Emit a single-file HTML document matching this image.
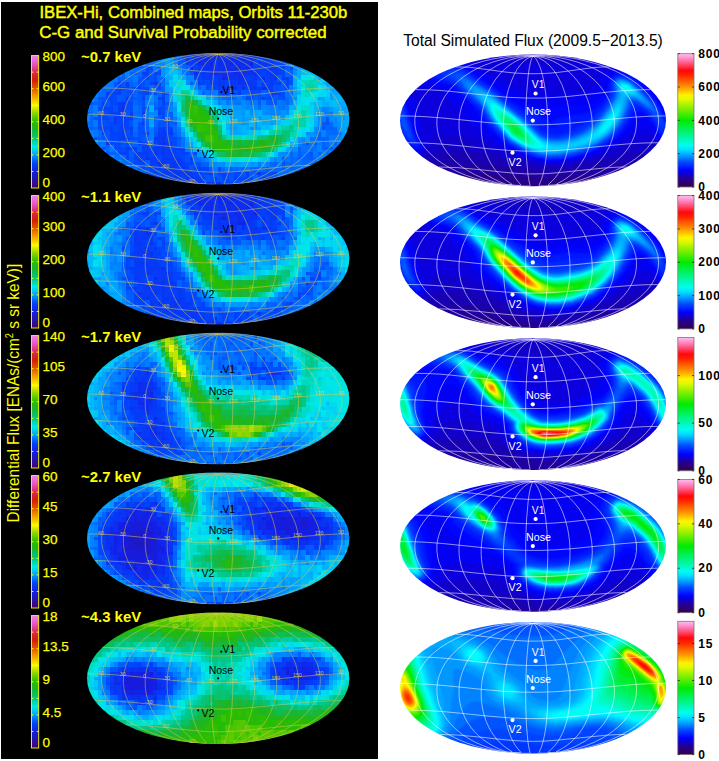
<!DOCTYPE html><html><head><meta charset="utf-8"><title>IBEX-Hi maps</title><style>html,body{margin:0;padding:0;background:#fff;width:719px;height:761px;overflow:hidden}</style></head><body><svg width="719" height="761" viewBox="0 0 719 761" font-family='"Liberation Sans", sans-serif' style="display:block"><defs><filter id="fR" x="0" y="0" width="1" height="1" filterUnits="objectBoundingBox" color-interpolation-filters="sRGB"><feGaussianBlur stdDeviation="0.9"/><feComponentTransfer><feFuncR type="table" tableValues="0.216 0.197 0.178 0.159 0.14 0.107 0.071 0.036 0 0 0 0 0 0 0 0 0 0 0 0 0 0 0 0 0 0 0 0 0 0 0 0 0 0.092 0.184 0.276 0.368 0.46 0.551 0.636 0.717 0.797 0.878 0.958 1 1 1 1 1 1 1 1 1 1 1 1 1 1 1 1 1 1 1 1 1"/><feFuncG type="table" tableValues="0 0 0 0 0 0 0 0 0 0.075 0.151 0.226 0.302 0.404 0.511 0.614 0.706 0.798 0.89 0.982 0.995 0.989 0.983 0.977 0.971 0.964 0.958 0.952 0.946 0.94 0.934 0.928 0.922 0.925 0.928 0.931 0.934 0.937 0.94 0.948 0.96 0.971 0.983 0.994 0.956 0.864 0.772 0.68 0.588 0.512 0.435 0.358 0.282 0.205 0.129 0.052 0.029 0.121 0.213 0.305 0.397 0.488 0.574 0.659 0.745"/><feFuncB type="table" tableValues="0.294 0.365 0.436 0.506 0.577 0.678 0.786 0.893 1 1 1 1 1 1 1 1 1 1 1 1 0.939 0.862 0.786 0.709 0.632 0.556 0.478 0.398 0.319 0.239 0.159 0.08 0 0 0 0 0 0 0 0 0 0 0 0 0 0 0 0 0 0 0 0 0 0 0 0 0.044 0.182 0.32 0.458 0.596 0.722 0.801 0.881 0.961"/><feFuncA type="identity"/></feComponentTransfer></filter><filter id="fL" x="0" y="0" width="1" height="1" filterUnits="objectBoundingBox" color-interpolation-filters="sRGB"><feGaussianBlur stdDeviation="0.6" result="s0"/><feTurbulence type="fractalNoise" baseFrequency="0.22" numOctaves="1" seed="7"/><feColorMatrix type="matrix" values="1 0 0 0 0 1 0 0 0 0 1 0 0 0 0 0 0 0 0 1"/><feComposite in="s0" operator="arithmetic" k1="0" k2="1" k3="0.09" k4="-0.045" result="s"/><feFlood x="2" y="2" width="1" height="1" flood-color="#fff"/><feComposite x="0" y="0" width="4.4" height="5"/><feTile result="t"/><feComposite in="s" in2="t" operator="in"/><feMorphology operator="dilate" radius="2.2 2.5"/><feComponentTransfer><feFuncR type="table" tableValues="0.275 0.244 0.213 0.183 0.154 0.135 0.116 0.097 0.078 0.06 0.041 0.022 0.003 0 0 0 0 0 0 0 0 0 0 0 0 0.025 0.049 0.074 0.098 0.12 0.132 0.145 0.157 0.249 0.341 0.433 0.529 0.646 0.764 0.882 1 0.986 0.972 0.958 0.943 0.933 0.922 0.912 0.902 0.883 0.864 0.845 0.827 0.831 0.841 0.85 0.86 0.87 0.88 0.89 0.9 0.911 0.921 0.931 0.941"/><feFuncG type="table" tableValues="0 0.02 0.041 0.061 0.08 0.089 0.099 0.108 0.118 0.155 0.193 0.231 0.268 0.352 0.444 0.536 0.627 0.704 0.781 0.857 0.916 0.883 0.85 0.817 0.784 0.768 0.752 0.735 0.719 0.708 0.721 0.733 0.745 0.766 0.786 0.806 0.83 0.867 0.905 0.943 0.98 0.896 0.811 0.726 0.641 0.567 0.496 0.424 0.353 0.296 0.24 0.183 0.127 0.126 0.135 0.144 0.154 0.192 0.243 0.294 0.345 0.387 0.428 0.469 0.51"/><feFuncB type="table" tableValues="0.392 0.464 0.535 0.607 0.676 0.732 0.789 0.845 0.902 0.926 0.949 0.973 0.996 1 1 1 1 0.98 0.959 0.939 0.907 0.818 0.728 0.639 0.549 0.467 0.386 0.304 0.222 0.147 0.098 0.049 0 0 0 0 0 0 0 0 0 0 0 0 0 0 0 0 0 0 0 0 0 0.079 0.173 0.268 0.362 0.462 0.564 0.666 0.768 0.819 0.859 0.9 0.941"/><feFuncA type="identity"/></feComponentTransfer></filter><linearGradient id="gR" x1="0" y1="0" x2="0" y2="1"><stop offset="0.000" stop-color="rgb(255,190,245)"/><stop offset="0.031" stop-color="rgb(255,146,204)"/><stop offset="0.062" stop-color="rgb(255,101,151)"/><stop offset="0.094" stop-color="rgb(255,54,81)"/><stop offset="0.125" stop-color="rgb(255,7,11)"/><stop offset="0.156" stop-color="rgb(255,32,0)"/><stop offset="0.188" stop-color="rgb(255,71,0)"/><stop offset="0.219" stop-color="rgb(255,110,0)"/><stop offset="0.250" stop-color="rgb(255,150,0)"/><stop offset="0.281" stop-color="rgb(255,196,0)"/><stop offset="0.312" stop-color="rgb(255,243,0)"/><stop offset="0.344" stop-color="rgb(223,250,0)"/><stop offset="0.375" stop-color="rgb(182,244,0)"/><stop offset="0.406" stop-color="rgb(140,239,0)"/><stop offset="0.438" stop-color="rgb(93,238,0)"/><stop offset="0.469" stop-color="rgb(46,236,0)"/><stop offset="0.500" stop-color="rgb(0,235,0)"/><stop offset="0.531" stop-color="rgb(0,238,40)"/><stop offset="0.562" stop-color="rgb(0,241,81)"/><stop offset="0.594" stop-color="rgb(0,244,121)"/><stop offset="0.625" stop-color="rgb(0,247,161)"/><stop offset="0.656" stop-color="rgb(0,250,200)"/><stop offset="0.688" stop-color="rgb(0,253,239)"/><stop offset="0.719" stop-color="rgb(0,226,255)"/><stop offset="0.750" stop-color="rgb(0,180,255)"/><stop offset="0.781" stop-color="rgb(0,130,255)"/><stop offset="0.812" stop-color="rgb(0,76,255)"/><stop offset="0.844" stop-color="rgb(0,38,255)"/><stop offset="0.875" stop-color="rgb(0,0,255)"/><stop offset="0.906" stop-color="rgb(18,0,200)"/><stop offset="0.938" stop-color="rgb(35,0,147)"/><stop offset="0.969" stop-color="rgb(45,0,111)"/><stop offset="1.000" stop-color="rgb(55,0,75)"/></linearGradient><linearGradient id="gL" x1="0" y1="0" x2="0" y2="1"><stop offset="0.000" stop-color="rgb(240,130,240)"/><stop offset="0.031" stop-color="rgb(234,109,219)"/><stop offset="0.062" stop-color="rgb(229,87,195)"/><stop offset="0.094" stop-color="rgb(224,61,143)"/><stop offset="0.125" stop-color="rgb(219,39,92)"/><stop offset="0.156" stop-color="rgb(214,34,44)"/><stop offset="0.188" stop-color="rgb(210,32,0)"/><stop offset="0.219" stop-color="rgb(220,61,0)"/><stop offset="0.250" stop-color="rgb(230,90,0)"/><stop offset="0.281" stop-color="rgb(235,126,0)"/><stop offset="0.312" stop-color="rgb(240,163,0)"/><stop offset="0.344" stop-color="rgb(247,206,0)"/><stop offset="0.375" stop-color="rgb(255,250,0)"/><stop offset="0.406" stop-color="rgb(194,230,0)"/><stop offset="0.438" stop-color="rgb(134,211,0)"/><stop offset="0.469" stop-color="rgb(86,200,0)"/><stop offset="0.500" stop-color="rgb(40,190,0)"/><stop offset="0.531" stop-color="rgb(33,183,25)"/><stop offset="0.562" stop-color="rgb(24,183,56)"/><stop offset="0.594" stop-color="rgb(12,191,98)"/><stop offset="0.625" stop-color="rgb(0,200,140)"/><stop offset="0.656" stop-color="rgb(0,216,185)"/><stop offset="0.688" stop-color="rgb(0,233,231)"/><stop offset="0.719" stop-color="rgb(0,199,244)"/><stop offset="0.750" stop-color="rgb(0,160,255)"/><stop offset="0.781" stop-color="rgb(0,113,255)"/><stop offset="0.812" stop-color="rgb(0,68,254)"/><stop offset="0.844" stop-color="rgb(10,49,242)"/><stop offset="0.875" stop-color="rgb(20,30,230)"/><stop offset="0.906" stop-color="rgb(29,25,201)"/><stop offset="0.938" stop-color="rgb(39,20,172)"/><stop offset="0.969" stop-color="rgb(54,10,136)"/><stop offset="1.000" stop-color="rgb(70,0,100)"/></linearGradient><clipPath id="cL0"><ellipse cx="218.2" cy="118.70" rx="131.2" ry="65.8"/></clipPath><clipPath id="cL1"><ellipse cx="218.2" cy="258.60" rx="131.2" ry="65.8"/></clipPath><clipPath id="cL2"><ellipse cx="218.2" cy="398.50" rx="131.2" ry="65.8"/></clipPath><clipPath id="cL3"><ellipse cx="218.2" cy="538.40" rx="131.2" ry="65.8"/></clipPath><clipPath id="cL4"><ellipse cx="218.2" cy="678.30" rx="131.2" ry="65.8"/></clipPath><clipPath id="cR0"><ellipse cx="533" cy="120.40" rx="133" ry="65.8"/></clipPath><clipPath id="cR1"><ellipse cx="533" cy="262.25" rx="133" ry="65.8"/></clipPath><clipPath id="cR2"><ellipse cx="533" cy="404.10" rx="133" ry="65.8"/></clipPath><clipPath id="cR3"><ellipse cx="533" cy="545.95" rx="133" ry="65.8"/></clipPath><clipPath id="cR4"><ellipse cx="533" cy="687.80" rx="133" ry="65.8"/></clipPath></defs><rect width="719" height="761" fill="#fff"/><rect x="1" y="2" width="377" height="757" fill="#000"/><g clip-path="url(#cL0)"><g transform="translate(81,46)" filter="url(#fL)"><rect width="275" height="144" fill="rgb(33,33,33)"/><path fill="rgb(38,38,38)" d="M275 144l-275 0-0-144 131 0 1.5 7 3.5 1 3.5 0.5 3.5-0.5 3.5-1-0.5-7 129-0 0 144z"/><path fill="rgb(43,43,43)" d="M275 144l-275 0-0-144 111 0 0 6.5 1 3 4.5 7 6 6.5 8 5 7.5 3.5 8 2.5 7.5 0.5 7-0.5 6-2 4-3 2.5-4 1-6-0.5-7.5-1-4.5-4.5-7 107-0 0 144z"/><path fill="rgb(48,48,48)" d="M275 144l-114 0-2-2-4.5-2-18.5-3.5-7.5-1.5-6.5-2.5-6-3.5-5-4-5.5-5-11-14-6-9-6-11-2.5-3-1 0.5-1 2.5-4 16-3 7.5-1.5 1.5-1-0.5-5-12-1 1-0.5 3.5 1 7 2 3 4 2 3.5 5 3.5 3.5 20 13.5 9 7-105 0-0-144 100.5 0 0 3.5 0.5 3.5 4.5 9 7.5 11.5 7 6 10 5.5 14 5 9.5 1.5 13.5 0.5 14.5 0 7-1.5 5-2.5 2-2.5 1-2.5 0.5-4 0-5.5-2.5-8.5-5.5-9-9-10 95-0 0 144zM43 91.5l1.5-1 1-3 0-16.5-1-12.5-1-2-1.5-1.5-1.5 0.5-1.5 1.5-3 5-1.5 5.5-0.5 6 0.5 6 2.5 6 3.5 5 1.5 1 1 0z"/><path fill="rgb(54,54,54)" d="M275 144l-91 0 6.5-6.5 5-5.5 1.5-3.5-0.5-1.5-6.5-0.5-26 1-19-0.5-11.5-2.5-10-4.5-8-5.5-8.5-7.5-6-7-5-7.5-6-13-2.5-6-2.5-10.5-2.5-17.5-2.5-7.5-3.5-8-3-5-3-3-3.5-1-3 1-3 3-2.5 4-1.5 5 0 5 2 17.5 0.5 11-1 12.5-1.5 5-1 3-1.5 0.5-1-1.5-1.5-7-1-16 1-24.5-1-4-2.5-2-3.5 0-8.5 5-7.5 6-6 7-4 6.5-2.5 6.5-1 6.5 0.5 7 1.5 6 3 6.5 4.5 6 5.5 5.5 8 6.5 14.5 9 11 10 23.5 16.5-87.5 0-0-144 93.5 0 0.5 4 2 4.5 13 21 5.5 6.5 7.5 5.5 16.5 6.5 10.5 2.5 9.5 1.5 18.5 0.5 17 1.5 4.5-0.5 3-1 2.5-2 1.5-2.5 1.5-5 0.5-19.5-1.5-5-3.5-5-5.5-6.5-8-7 86-0 0 144zM71 95l-1 0.5-1-1-2.5-5.5-1.5-9.5-0.5-11.5 0.5-10 1.5-10.5 2-7.5 2-2.5 1.5 1.5 2 5 1.5 10 0.5 9.5 0 10.5-1.5 10-1.5 7.5-2 3.5z"/><path fill="rgb(59,59,59)" d="M275 144l-80 0 26-18.5 10-8 8-4 6-4 5.5-4.5 4-4.5 1.5-3 0.5-3.5 0-6.5-1-5.5-1.5-4-3-4.5-3-3-3-1.5-1.5 0.5-1 1-3.5 13-2.5 4.5-3 3.5-3 2-10.5 4.5-11.5 9.5-5.5 3.5-13 6.5-8 2-11 2-11.5 0.5-12.5-0.5-7-0.5-5.5-1.5-5-2-5.5-3.5-8.5-6-7-6.5-5.5-6-4-6.5-6-15.5-3.5-13-3.5-17-8.5-26-2.5-5-2-1.5-2-0.5-3 0.5-3.5 1.5-11 8.5-19.5 10.5-8 5.5-6.5 5.5-6.5 7.5-4.5 8-2.5 8-1 8.5 1.5 7.5 3 7.5 4.5 7 6.5 7 9 7.5 14 8.5 20 14.5 14.5 10-78 0-0-144 87.5 0 3 7 16 24 7.5 8.5 7 5.5 15.5 6.5 12 3.5 13 2 17.5 1 20 4.5 3.5-0.5 3-2 3-3.5 2-4 1-6-0.5-13 3.5-13-1-3.5-3.5-4.5-5.5-5.5-8.5-7 79-0 0 144zM70.5 88l-1.5-1-1.5-4.5-1-14 1-13.5 1.5-5 1.5-1 1.5 1.5 1 4 1.5 13-1.5 14-1 4-1.5 2.5z"/><path fill="rgb(64,64,64)" d="M0 60.5l0-60.5 77.5 0-13.5 7.5-20.5 13.5-14.5 7.5-9 6.5-7 6-5.5 6-4.5 6.5-3 7zM275 144l-72.5 0 28.5-20.5 10.5-5 8.5-5.5 8-6.5 4-5.5 1-2.5 0-3-1.5-11-2-6.5-3.5-5.5-4.5-5.5-5-4.5-3.5-1.5-2.5 0-2 2.5-2 15.5-2 5-2.5 3.5-3 2-10 5-16 13-12 6.5-8 2.5-10 1.5-11 1-13 0-7-0.5-6-1.5-5.5-2.5-5.5-3-9.5-7.5-7-7-5.5-7-4-8-3-9-3.5-10.5-3-16-6.5-22-0.5-8 0-3 1-2 1-0.5 2 0 4.5 3.5 4 4 9.5 13.5 4.5 6 7 6.5 6 4 12.5 5.5 14 5.5 10.5 3 8.5 0 8 1.5 6.5 2.5 8 5 4 0.5 5-1.5 5.5-3.5 4-3.5 3-5 2-5 1-5-1-11.5 0.5-4.5 1.5-4 4.5-6 1-2-1-3-2-3.5-6.5-6-8.5-7 0-1 72-0 0 144zM70.5 80.5l-1-0.5-1-3-0.5-8.5 0.5-8.5 1-2.5 1-0.5 1.5 3 0.5 8.5-0.5 8-1.5 4zM71 144l-71 0 0-59 3 6.5 4 6 5 6 6 5.5 12 8.5 13.5 7 27.5 19.5z"/><path fill="rgb(69,69,69)" d="M0 49l0-49 65 0 0.5 2.5-22 14.5-14.5 7-12 8-9.5 8-7.5 9zM159.5 117l-16-0.5-6-1-5-2-6-3.5-7.5-6-7-6.5-5-5.5-3-5.5-3-6.5-7-20-2.5-14-4.5-17.5-0.5-5.5 1-3 2-1 3 1.5 14.5 18 10 9 6.5 4 19.5 10 6.5 4.5 1.5 2 0.5 2-3 10.5 0 2.5 1 1.5 3 1.5 4 0.5 12.5-0.5 6-1 7-2 17.5-8 8.5-6.5 2.5-3.5 3.5-5.5 2-5 1-5 0-4-1.5-8.5 0.5-4.5 1.5-2.5 2-2 8-4.5 1-2-1.5-3-3-4-13.5-11.5 0-3 64.5-0 0 52.5-6-8-8-7-10-5.5-4-1-2 0-0.5 1 0.5 2 3.5 10.5 2.5 4.5 6.5 7 2 5-0.5 3-1.5 0-2-1-10.5-6.5-3-0.5-3.5 0.5-2 2-1.5 3 0 12.5-1 5-2 4-3 3-10.5 6-15.5 13-11.5 6.5-5.5 2-7.5 1.5-9 1.5-10 0.5zM275 144l-65 0 0-1 21-15 17-8.5 7-4.5 6-5 4.5-4.5 3.5-4.5 2-5 0.5-6.5 1-1.5 2.5-2 0 58zM63.5 144l-63.5 0 0-47.5 7.5 9 9.5 8 12.5 8 14 7 20 14 0 1.5z"/><path fill="rgb(74,74,74)" d="M0 42l0-42 57 0 0.5 4.5-0.5 0.5-13.5 9-13.5 6-12 7-10 7.5-8 7.5zM275 44l-7-7-8.5-6-9-5-19.5-9.5-14-12 0.5-4.5 57.5-0 0 44zM159.5 115.5l-15-0.5-5.5-1-5.5-2-5-2.5-6-4.5-7.5-7-5-5.5-4-5.5-3-6-3.5-9.5-4-11.5-4.5-26 0-4 0.5-2 2-0.5 2.5 2 9.5 10 11 9.5 19.5 11.5 5.5 4 2.5 3 1 3 0 10.5 1.5 5 1 1 2.5 1 7 1 14-1 9.5-2 16-6.5 6-3.5 5-4 3.5-4 4-6 2.5-5.5 1.5-4.5 0-3.5-1.5-12 0.5-2.5 1-2.5 3.5-2.5 5.5-1 4 0.5 4.5 2.5 3 3.5 2.5 4.5 1.5 5 0.5 4-1 2-6.5 3.5-3 3.5-1 4.5 0 14-1 3.5-2.5 3.5-2.5 2.5-9 5.5-14 12-11.5 7-6 2.5-8 1.5-8.5 1.5-10 0.5zM275 144l-57 0 0-3.5 13-9.5 14-6 12.5-7.5 10-8 7.5-8.5 0 43zM56 144l-56 0 0-41 8 8 9.5 7 12 7 14 6.5 12 8.5 0.5 0.5 0 3.5z"/><path fill="rgb(79,79,79)" d="M0 37.5l0-37.5 49.5 0 0.5 7-6.5 4.5-13.5 5.5-12 6.5-9.5 6.5-8.5 7.5zM275 38.5l-8-6.5-9-6-10.5-5.5-16.5-7.5-8-6.5 1.5-6.5 50.5-0 0 38.5zM164.5 114l-18 0-6-0.5-5-2-4.5-2-5.5-4-7-6-5.5-5.5-4.5-5.5-3-6-4-9.5-3.5-10.5-2-6-0.5-6.5-0.5-10.5 1-3 1.5-0.5 2 1 15.5 12.5 17.5 11.5 5.5 4.5 3 5 2.5 12.5 1 3 1.5 2 5 2 8 0.5 13.5-1 9.5-2.5 16.5-6.5 6.5-4 7-6.5 5.5-8 2.5-6 1.5-5.5-2-13 1-4 2.5-2 4-1 4 0.5 3.5 2 2.5 2.5 2 3 1 3.5 0 2.5-1.5 3-5.5 5-2.5 3.5-0.5 4 0.5 13.5-0.5 3.5-2 3.5-3 2.5-8 5.5-13 12-10 6.5-6.5 3-5.5 1.5-8 1.5-9.5 1zM275 144l-50 0 0-5.5 6-4.5 14-6 12.5-7 9.5-7 8-7 0 37zM49 144l-49 0 0-36 8 7 9.5 6.5 12 6.5 14 6 5.5 4 0 6z"/><path fill="rgb(84,84,84)" d="M274.5 34l-8-6-9.5-6-10-5-16.5-7.5-1.5-1 2-8.5 7.5 0 4 1 6.5 3 6.5 4.5 5 4.5 4.5 5 9.5 16zM227.5 52l-1.5 0.5-1-2-2.5-7.5-1-5 0.5-2.5 1-1.5 2-1 3-0.5 3.5 1 3 2 2 3 0.5 3.5-0.5 2.5-1.5 2-7.5 5.5zM162 113l-16 0-5-1-5-1.5-4.5-2-5-3.5-12-11-4.5-5.5-3.5-6-4-10-3-9-2-7.5-0.5-6 0.5-4.5 1.5-3 2.5-0.5 3.5 1.5 10 7.5 13.5 9 5.5 4.5 2.5 3 2 3.5 3 12 2.5 5 2.5 2.5 5 1 11.5 0 13.5-1.5 9-2.5 15.5-6.5 5.5-3 5.5-5 10-13.5 2-2 1.5-0.5 1.5 3.5 1.5 7.5 0 5-1 3.5-2 3-9 7-11.5 11.5-8.5 6-10.5 5-10.5 2.5-13.5 1.5z"/><path fill="rgb(89,89,89)" d="M230.5 46l-2 0.5-1.5-0.5-1-1-1.5-2.5-1-4.5 1-2 1.5-1 2-0.5 2.5 0.5 2 1.5 1 2 0.5 2 0 2-1.5 2-2 1.5zM161 112l-15 0-5.5-1-4.5-1.5-9-5.5-11-10-4-5-3.5-5-6.5-16-3.5-13.5 0-5.5 1.5-3 2.5-1 3.5 1 17.5 12 8 6.5 3 3 2 3.5 4 12.5 2.5 5 2.5 2.5 4.5 1.5 8.5 0.5 12.5-1 6.5-1 9-2.5 19.5-8 4.5-3 4-3.5 6.5-8.5 2-1 1.5 1 1 2 0.5 3.5-0.5 3-1 2.5-9 8-9 10.5-6.5 5.5-8 5-8 3-10.5 2.5-12.5 1z"/><path fill="rgb(96,96,96)" d="M229.5 41.5l-1.5 0-1-1.5 0-1 0.5-1 1.5 0 1.5 1 0 1.5-1 1zM161.5 111l-15.5 0-8.5-2-4-1.5-5-3.5-10.5-9.5-5-5.5-3-5-6.5-13.5-2.5-9-1-6 0-4.5 1.5-3 2.5-0.5 4.5 2 14 9 7.5 6.5 3.5 3.5 2 3.5 4 12 2 4.5 2.5 3 3 1.5 5 1 6.5 0 16.5-1.5 10-2.5 24-8 2 0 1 0.5-0.5 2-2.5 4.5-3.5 5-6 5.5-6.5 4-6.5 3.5-6 1.5-8.5 1.5-10.5 1z"/><path fill="rgb(103,103,103)" d="M162 109.5l-15 0-9-1.5-8-4.5-9.5-8-5.5-6-3.5-5.5-6.5-13.5-2-6.5-1-6 0.5-4 1-2.5 1.5-0.5 1.5 0 5 2.5 10 6 7 6 3 3.5 2 3.5 4.5 12 2.5 5 2.5 3 3 2 8.5 1 16-0.5 13-2.5 15-4.5 3.5-0.5 2 1 0.5 1.5-0.5 1.5-3.5 4.5-5 4-7.5 4.5-4 1.5-7 2-15 1.5z"/><path fill="rgb(111,111,111)" d="M162 108l-15.5 0-8-1.5-7.5-4-8.5-7-8.5-9.5-5.5-10-2.5-6.5-1.5-6.5-0.5-5 1.5-3 1-0.5 2 0 5 1.5 6.5 4 6.5 6 5.5 7 7.5 17.5 2.5 3 3 2 7.5 1.5 10 0 13.5-1.5 18.5-4 2.5 0 1.5 1-1 2.5-2 2.5-6 4-5 2.5-10 2.5-12.5 1.5z"/><path fill="rgb(119,119,119)" d="M150.5 106.5l-9-0.5-6.5-2.5-8.5-6-8-7.5-6-8.5-5-12-1.5-8 0.5-2.5 1-1.5 3-0.5 5.5 2 4.5 3 6 5.5 4.5 6.5 7 17 3 4 3 2 5 1.5 7.5 0.5 16.5-1 12-1.5 3 0 1.5 0.5-1 2-3.5 2.5-7 2.5-11 2-16.5 0.5z"/><path fill="rgb(126,126,126)" d="M147.5 104l-7.5-0.5-5.5-2-8-6-7.5-7-5-7-4.5-10-1.5-7 0-2.5 1-2 2.5-0.5 4.5 1.5 4.5 3 5 4.5 4 6 6.5 15.5 3 5 5 4 9.5 3.5-6 1.5z"/></g><path fill="none" stroke="#d8c850" stroke-opacity="0.75" stroke-width="0.7" d="M191.1 183.1l0.6-0.1 0.2-0.2-8.1-3.4-4.8-2.4-5.2-3.1-4.7-3.3-4.3-3.6-4.3-4.4-3.3-4-3.2-4.8-2.8-4.9-2.2-5.1-1.7-5.2-1.3-5.9-0.7-5.4-0.1-6 0.3-5.4 0.9-5.4 1.6-6 1.9-5.3 2.5-5.2 2.9-5 3.5-5 4-4.8 4.6-4.6 4.6-3.8 5.1-3.6 5.7-3.4 5.4-2.7 6.1-2.4 6.8-2.1 6.4-1.4 5.4-0.7 5.3-0.2M191.1 183.1l-9.1-2.2-7.2-2.2-6.6-2.4-7-3.2-6.3-3.5-6.4-4.2-5.6-4.5-4.8-4.7-4.1-4.9-3.4-5-2.8-5.1-2.3-5.9-1.4-5.4-0.7-6 0-6.1 0.9-6 1.6-6.1 2.2-5.3 3.2-5.8 3.6-5.1 4.2-5 5-4.8 5.7-4.7 6.6-4.4 6.4-3.6 7.3-3.4 8.1-3.1 7.9-2.4 9-2.1 10.3-1.6 8.1-0.5 4.7 0.4M191.1 183.1l-9.9-1.5-10.3-2.2-9-2.5-9.4-3.2-8.3-3.5-8.3-4.2-7.4-4.4-6.3-4.7-5.4-4.9-5.1-5.6-3.7-5.2-3.1-5.9-1.9-5.3-1.2-6.1-0.2-6.1 0.7-6 1.8-6.1 2.8-5.9 3.9-5.9 4.2-5.1 5.9-5.6 6.1-4.8 7-4.6 8.1-4.3 8-3.6 9.1-3.4 10.2-3.1 10.1-2.3 14.1-2.4 12.6-1.2 8.7-0.2 1.7 0.3 1.6 0.7M245.3 183.1l11.1-1.6 9.4-1.8 10-2.5 10.2-3.1 9.1-3.5 9.1-4.2 7.9-4.4 7-4.7 5.9-4.8 5.6-5.7 4-5.1 3.5-5.9 2.4-6 1.3-6.1 0.3-6.1-0.8-6-1.8-6.1-3-5.9-4-5.9-4.5-5.1-6.1-5.6-6.5-4.8-7.5-4.5-8.5-4.4-9.8-4.1-9.7-3.3-11.2-3-11-2.4-13.2-1.9-14.3-1.3-9.3-0.2-1.5 0.2-1.2 1M245.3 183.1l9.9-2 8.1-2.2 7.4-2.5 7.8-3.2 6.9-3.5 6.1-3.7 6.3-4.4 5.4-4.7 4.6-4.8 4.3-5.7 3.1-5.1 2.5-5.9 1.6-5.3 0.9-6.1 0.1-6.1-0.8-6-1.7-6.1-2.6-5.9-3.5-5.9-3.8-5.1-4.6-4.9-5.4-4.8-6.2-4.7-7.1-4.3-6.9-3.7-7.9-3.3-8.9-3.2-8.6-2.3-10-2.1-11.4-1.5-7.2-0.4-2.6 0.1-2.9 0.5M245.3 183.1l-0.1-0.1 0.6-0.4 7.5-2.5 6.4-2.7 5.1-2.6 5.4-3.3 4.9-3.5 5-4.4 3.8-3.9 3.8-4.8 3.2-4.9 2.6-5 2.1-5.2 1.7-5.9 0.9-5.3 0.3-6-0.3-6.1-0.8-5.4-1.6-6-2-5.3-2.9-5.8-3.2-5.1-3.8-5-4.4-4.8-5-4.5-5-3.9-5.6-3.6-6.2-3.4-5.9-2.7-6.7-2.4-7.4-2.1-7-1.4-7.3-0.8-5.2 0M245.3 183.1l-2.7 0-1.4-0.3 0.5-0.6 5.7-3.1 4.2-2.8 4-3.2 4-3.9 3.6-4.2 3.2-4.5 2.7-4.7 2.5-5.5 1.6-4.4 1.5-5.1 1-5.3 0.7-5.3 0.3-5.3-0.2-5.4-0.5-5.4-0.9-5.4-1.3-5.3-1.7-5.3-2.1-5.1-2.5-5.1-3-4.9-2.9-4.2-3.3-4-3.7-3.8-4.2-3.7-3.9-2.9-4.4-2.7-4.8-2.5-4.5-1.9-5.1-1.5-4.6-1-4.9-0.5M245.3 183.1l-9 0.4-2.2-0.1-0.6-0.1-0.3-0.3 4.6-4.4 2.2-2.5 2.4-3.2 2.5-4 2.1-4.3 2.1-5.1 1.6-4.8 1.4-5.5 1.2-5.7 0.8-5.9 0.5-5.9 0.1-6.1-0.1-6.7-0.5-6.1-0.8-6-1.1-6-2.3-9.1-3.2-8.7-3.7-7.6-4.2-6.6-4.6-5.4-5.1-4.3-5.1-2.9-3.1-1.2-2.7-0.7M245.3 183.1l-15.9 1-4.2 0-0.7-0.1-0.5-0.3 2.4-5.7 1.9-6 1.6-7.9 1.3-8.7 0.9-10 0.6-10.4 0.1-11.4-0.3-10.8-0.6-10.7-1.1-10.4-1.4-9.4-1.8-8.7-2-7-2.2-5.6-2.5-4.1-1.2-1.4-1.5-1.2M191.1 183.1l16.9 1.1 6.3 0.1 0.8-0.1 0.2-0.3-1.2-5.8-0.9-5.9-1.5-16.6-0.7-20.4 0-22.2 0.9-21.2 1.6-18.1 1-6.9 1.1-5.7 1.2-4.1 1.4-2.7M191.1 183.1l12.3 0.6 2.1-0.1 0.5-0.1 0.2-0.4-3.5-4.1-2.1-2.9-2.2-3.8-1.9-4-1.9-4.9-1.6-5.2-1.3-5.4-1-5.6-1.4-12.3-0.3-6.7 0-6.7 0.9-12.8 2-12.6 2.1-8.3 2.4-7.3 2.9-6.9 3.2-5.9 3.5-4.9 3.8-3.9 4.2-2.9 4.2-1.7M191.1 183.1l4.8 0.1 1.4-0.2 0.3-0.3-6.3-4.3-3.7-2.9-3.7-3.7-3.4-4.1-3.3-4.9-2.8-5.1-2.4-5.4-1.9-5.7-1.1-4.4-1-5.3-0.6-4.6-0.3-5.3 0.3-10.1 0.6-5.4 0.9-4.7 1.3-5.3 1.6-5.2 2-5.2 2.1-4.4 2.3-4.2 2.7-4.2 2.9-4 3.3-3.8 3.8-3.6 3.5-2.9 3.9-2.7 3.6-2.1 4.1-1.9 3.6-1.3 4-1 4.6-0.7M166 168l-22.7-2.1-17.7-0.6M310.6 165.3l-10.3 0.2-11.6 0.8-47.1 4.8-10.3 0.8-9.1 0.3-10.5 0-11.5-0.7-12.2-1.1-22-2.4M149.3 144.4l-16.4-1.6-13.7-1-12.5-0.6-12-0.2M341.3 141l-13.9 0.3-14.6 0.8-15.9 1.4-45.2 4.5-14.1 1-13.3 0.5-15.3-0.1-16.1-0.8-16.9-1.4-26.7-2.8M145.3 117.9l-17.3-1.7-14.5-1.1-13.4-0.7-12.8-0.2M348.7 114.2l-14.9 0.3-15.2 0.9-16.3 1.4-46.9 4.7-15.3 1.1-14.6 0.5-16.8 0-17.5-0.8-18.2-1.5-27.7-2.9M153.8 91.5l-15.8-1.7-12.3-1.1-11.7-0.6-11.7-0.2M333.8 87.9l-13 0.3-13.3 0.7-13.5 1.3-41.6 4.6-13.9 1-13.4 0.6-15.4-0.1-16-0.7-16.5-1.5-23.4-2.6M175.6 68.2l-18-2.4-7.6-0.5-8-0.1M294.2 65.2l-8.5 0.1-8.1 0.6-34.5 4.8-10 0.9-9.5 0.4-11.2 0-11.3-0.6-11.4-1.2-14.1-2"/></g><g font-size="5.3" fill="#e0d040" fill-opacity="0.9" text-anchor="middle"><text x="101.0" y="114.9">60</text><text x="122.7" y="116.2">30</text><text x="144.4" y="118.3">0</text><text x="166.2" y="120.6">-30</text><text x="188.1" y="122.6">-60</text><text x="210.0" y="123.5">-90</text><text x="231.9" y="123.3">-120</text><text x="253.8" y="122.0">-150</text><text x="275.6" y="119.9">180</text><text x="297.4" y="117.6">150</text><text x="319.1" y="115.6">120</text><text x="340.9" y="114.7">90</text><text x="174.9" y="68.4">60</text><text x="153.1" y="91.7">30</text><text x="148.6" y="144.6">-30</text><text x="165.3" y="168.2">-60</text><text x="191.1" y="183.2">-90</text></g><g clip-path="url(#cL1)"><g transform="translate(81,186)" filter="url(#fL)"><rect width="275" height="144" fill="rgb(33,33,33)"/><path fill="rgb(38,38,38)" d="M275 144l-275 0-0-144 126 0 0.5 5.5 0.5 1.5 6.5 4.5 7 1.5 3.5-0.5 3-1 3-2 2.5-2.5-1.5-7 124-0 0 144z"/><path fill="rgb(43,43,43)" d="M275 144l-275 0-0-144 111 0-1 6.5 2.5 5 5 6.5 9 8.5 7 5.5 6.5 4 7 2 7.5 0.5 8-0.5 7-2 4-3 2.5-4 1-6.5-1-7.5-3-8-4.5-7 106.5-0 0 144z"/><path fill="rgb(48,48,48)" d="M275 144l-109 0 0.5-2.5-0.5-1.5-1.5-1.5-2.5-1.5-6-1.5-20-3-11.5-4-6.5-4-5.5-5-5.5-6-6.5-8.5-15.5-23-6-10.5-3.5-7-3.5-14-2.5-6.5-3-3.5-3.5-1.5-3 1-3 2-2 3.5-1.5 5-2.5 37.5 0.5 6 1.5 5.5 5 8.5 8 8.5 9 7 21 14.5 8 6-104 0-0-144 102 0-0.5 4 0.5 3.5 2 5 3 5.5 11 13 10 9.5 7 4 8.5 3 8.5 1 13.5 0.5 17-0.5 6.5-0.5 5.5-2.5 1.5-2 1.5-2.5 0.5-4.5-0.5-6.5-0.5-5-2-4.5-6-9.5-10-11 96-0 0 144z"/><path fill="rgb(54,54,54)" d="M275 144l-92 0 29.5-25.5 11-8 13.5-11.5 2.5-4 1.5-4-0.5-3.5-2-1.5-2 0-2 1.5-9 8.5-8 10.5-6.5 7-9 5-9 4-9 1.5-13.5 1-20 0-12.5-1.5-5.5-2-5-2.5-7-5-7-7-21-30-4.5-7.5-3-7-5.5-22-4-11.5-3.5-5.5-1.5-1-2.5-0.5-6 2-6.5 4-4.5 5.5-3 6-1 7 0 21.5-3 20 0 7 6 17 3.5 5.5 10.5 9 25.5 17.5-89.5 0-0-144 96.5 0 0.5 6 1.5 4 5.5 10.5 14 18 5.5 6 5 3.5 8.5 3.5 9.5 2 28.5 1.5 18.5 1.5 5-0.5 4-1 2.5-2 1.5-2.5 0.5-4.5-1-11 0-12-1.5-4.5-3-4.5-6.5-7-7.5-7 87.5-0 0 144z"/><path fill="rgb(59,59,59)" d="M275 144l-82.5 0 27-19 11.5-9 10.5-6.5 5-4.5 3.5-4 1.5-3.5 0.5-3.5 0.5-5.5-1-4.5-2-5-3-5-3-3-3-1.5-2.5 0.5-2 1.5-11.5 16.5-7.5 9-5 5-10 7.5-11.5 6-7 2.5-10 1.5-19.5 1-8-0.5-6-1-6-1.5-5-2.5-6-5-6.5-7-7-9-13.5-20-4-8-3-6.5-9-30-3-8-4-5.5-2-1.5-2.5-0.5-3 1-3.5 1.5-9 6-3.5 4.5-5 9.5-2.5 5.5-1 4.5 0 20.5-1 5-3 7.5 0 6 2 9 5 11.5 1.5 9 2 4 4 4 7 5.5 22.5 15.5-81 0-0-144 92 0 4.5 12 5.5 10 17.5 23 4 4 5 4 6.5 3 7.5 2 10.5 1.5 23 1 9 1.5 12.5 3.5 4.5-1 4-2.5 3-3.5 2.5-4.5 0.5-6-2-10-0.5-4 2.5-13.5-1-3.5-3-4-6-6-8.5-7 81.5-0 0 144z"/><path fill="rgb(64,64,64)" d="M275 144l-75.5 0 19.5-13.5 12-9 8.5-4.5 7-4.5 6.5-5.5 3.5-5 1.5-3.5-0.5-4-1-9-2-6.5-3-5-4-5.5-4-3.5-3.5-1.5-2.5 0-2.5 2-11 18-6 8-5.5 6.5-9.5 8-12 6.5-7 2.5-8.5 1.5-9 1-11.5 0.5-8-0.5-6.5-1-6-1.5-5-3-6.5-5.5-6.5-7.5-20.5-30.5-5.5-12-9-31.5-2-6-2.5-4.5-3.5-4.5-1.5-1.5-2 0-5 1.5-7.5 4-6 4.5-3.5 4-3.5 7.5-8.5 13.5-4.5 10-2 9.5 0 11 0.5 7.5 1.5 6.5 3.5 9.5 5.5 11-0.5 7 1 2.5 5 5.5 6 5 22.5 15.5-74.5 0-0-144 87.5 0 3 4.5 3.5 8 3 5.5 6.5 9.5 15.5 20.5 4.5 4.5 6.5 5 6.5 4 8.5 2.5 11.5 2 9-0.5 9 1.5 6 2.5 6 4 5 1 7-1.5 3.5-2 4-3.5 6-7.5 2-4 1-4.5 0-4.5-2.5-8.5 0-4.5 1-5 3.5-8 0-3.5-1.5-3-3.5-3.5-13-11 76-0 0 144z"/><path fill="rgb(69,69,69)" d="M68.5 144l-68.5 0 0-55.5 3 4 3.5 2 1.5 0 1-1 1-4-2.5-26-1-6.5-1-2-1.5-1-2 1-2 2.5 0-57.5 78 0-14.5 6.5-8.5 5.5-6 4.5-3.5 4-4 8.5-11 14-3 6-1.5 5.5-1.5 22.5-0.5 6-1.5 3.5-5 7-1.5 4 0.5 3.5 1 4 2.5 4 3 3.5 20.5 12.5 9 7.5 16.5 11.5-0.5 0zM275 144l-70 0 26-18.5 10-5 9.5-6 8-6.5 4-5.5 0.5-3 0-3-3-12.5-3.5-8-4-6.5-4-4.5-4.5-4-4.5-2-3.5 0.5-2.5 2-5.5 12-4.5 7.5-4.5 6-7 8.5-9.5 8.5-11.5 6.5-6.5 2.5-9.5 2-8.5 1-12.5 0-7.5 0-6.5-1-5.5-2-5-3-6.5-6-7.5-9-15-22.5-7-12.5-6-19-5.5-22-4-9.5 0-3.5 0.5-2.5 1.5-1.5 2.5 0.5 2.5 0.5 2.5 2 7.5 14 22 29 10 10.5 13.5 12 1 2.5 2 8.5 2.5 4.5 2 1 6.5 0.5 15.5-1.5 6.5-1 7.5-2 13.5-5.5 3-1.5 4-3 5.5-6 4-5.5 2.5-5.5 1-5.5-0.5-4.5-2.5-8.5 0.5-4.5 2-5 5.5-6.5 0.5-2.5-1-2.5-2.5-3-5-5-9-7 0-1.5 69.5-0 0 144z"/><path fill="rgb(74,74,74)" d="M17 80l-1.5 0.5-1-1-2-5.5-1-8.5 0-14.5-1.5-4.5-2-2-2.5 0-2.5 1-3 3-0-48.5 64.5 0 0.5 2.5-12.5 8-7.5 6-3.5 4-2 5-2 2-4 2-5-1-2.5 0.5-3 2-2.5 3-2 4.5-0.5 4 3 13 0 12-1.5 8.5-1 2.5-1.5 1.5zM275 144l-63 0 0-2 19-13.5 14-6.5 12-8 7.5-7 3-3.5 1-3 0.5-4.5-2.5-5.5-1.5-5.5-6-12.5-4.5-6.5-6-5.5-4.5-3.5-4-2-2 0-2.5 0.5-3.5 3-5.5 12.5-3.5 7-5 7.5-7 9-8.5 7.5-11 6.5-6.5 2.5-8.5 2-8.5 1.5-12.5 0.5-9-0.5-6-1-5.5-2-5-3-6.5-6-7-9-14.5-21.5-7-12.5-2.5-6.5-4-15.5-5.5-28.5 1-0.5 1 0.5 4 6 16 19 11.5 15.5 17 19 3 4.5 5 10.5 3 4 1.5 1 2.5 0.5 10.5 0.5 12-1 7-1.5 7.5-2 14.5-6 3-2 4-3.5 5-5.5 4-5.5 2.5-5.5 1-5.5-0.5-5-2.5-9 0.5-5 1.5-2.5 2-2 3-1.5 5.5-2 1.5-1 0-1-1.5-3-4-5-13.5-11.5 0.5-3 63-0 0 52-7.5-9.5-9-7.5-5.5-3.5-6-2.5-4.5-1-1.5 0.5 1 3 6.5 11 3 3.5 8.5 8 9 15.5 6 7.5 0 67zM62 144l-62 0 0-47 4 4.5 8.5 6 10 9.5 9 5.5 12 6 18.5 13.5 0 2z"/><path fill="rgb(79,79,79)" d="M0 42.5l0-42.5 57 0 0.5 4.5-22.5 16.5-7.5 2.5-4 2-10.5 10-8 3.5-5 3.5zM275 44.5l-7.5-7.5-8.5-6.5-9.5-5.5-18.5-9-14-11.5 0.5-4.5 57.5-0 0 44.5zM163 113.5l-15.5 0-9.5-2-4.5-2-4-2.5-7.5-8-7-9-11.5-18-8-14-3.5-12-3-13-0.5-7 1-3 2 0 3 1.5 10 11 11.5 15 15 17.5 3 5 6 11 3 4 2.5 2 4 1 13.5-0.5 14-1.5 10.5-3 15.5-6.5 4.5-3.5 6.5-7 4.5-6 2.5-5.5 1-3 0-3.5-3.5-14 0.5-3 1-2 2-2 2-1 6.5 0 4.5 1.5 3.5 3.5 4 7 3 7 0 2-1 1-5.5 0-3.5 1-3 1.5-2.5 2.5-2.5 4-3 10-3 7-5 8-8 10-8.5 7.5-12 6.5-11 3-14 1.5zM275 144l-56.5 0 0-3.5 12.5-9 14.5-7 13-8 10-8.5 3.5-4 3-5 0 45zM55.5 144l-55.5 0 0-41 5 4.5 17.5 13 8.5 5 12.5 5.5 12 9 0.5 4-0.5 0z"/><path fill="rgb(84,84,84)" d="M0 38.5l0-38.5 51 0 0 6.5-7.5 5.5-20 10-10 7.5-9 5.5-4.5 3.5zM275 39.5l-8-7-8.5-6-10-5.5-18-8.5-8-6.5 1-6 51.5-0 0 39.5zM162.5 112.5l-14 0-9.5-1.5-4-2-4.5-2.5-7.5-7.5-7-10-11.5-17.5-8-14-2.5-8.5-2.5-11.5-0.5-6.5 1-3 1.5-0.5 2.5 1.5 8.5 8.5 10.5 13.5 13.5 16 12 20 2.5 3 2.5 1.5 6 0.5 11.5 0 11.5-1.5 9.5-2 20-7.5 4.5-3.5 10.5-9.5 1.5-0.5 0.5 0 0.5 2-1 3.5-4.5 9.5-8 11-7 6.5-8 5-8 4-10.5 2.5-12 1zM229 51.5l-2.5 0.5-2-2-2.5-5.5-1.5-6.5 0-2.5 1-2 2-1.5 3-1 4.5 0.5 3 1.5 3.5 4 1.5 4.5 0 3-1.5 2-8.5 5zM275 144l-50.5 0-0.5-5.5 7-5 14-6 12-7 10.5-7.5 7.5-7.5 0 38.5zM50 144l-50 0 0-37 6.5 5.5 15.5 10.5 9 5 12.5 5.5 6 4.5 0.5 0.5 0 5.5z"/><path fill="rgb(89,89,89)" d="M0 35l0-35 45 0 0.5 8.5-2 1.5-20.5 9.5-23 15.5zM275 36l-8.5-7-9.5-6-10.5-5.5-16-7-3-2.5 1.5-8 46-0 0 36zM163.5 111.5l-15 0-8.5-1.5-7.5-3.5-7.5-6.5-11-15-9.5-15.5-6.5-11.5-2.5-6.5-2.5-11 0-5.5 1-2.5 1.5-0.5 2.5 1 7 7 21.5 26.5 13 21 2.5 3 2.5 1.5 4.5 1 7.5 0 20-1.5 10-2.5 19-6.5 6.5-3.5 1.5 0 0 2-1 3-4.5 7.5-5 5.5-6 4.5-7.5 4.5-6.5 2.5-10 2-9.5 1zM230 47.5l-2 0-2-1-1.5-2-1.5-3.5-0.5-2.5 0-2 1.5-2 2-1 3 0 2.5 0.5 2.5 2 1.5 3 0.5 2.5-1 2.5-2 2-3 1.5zM275 144l-45 0 0-7.5 16.5-7.5 10-5.5 10.5-7 8-7 0 34.5zM44.5 144l-44.5 0 0-33.5 7 5.5 15 9.5 8.5 4.5 13.5 6 1 1-0.5 7z"/><path fill="rgb(96,96,96)" d="M165.5 110.5l-14.5 0.5-9.5-1.5-7.5-3-7-6-6-7-5.5-8.5-10-15-6.5-12-2-5.5-2-9 0-4.5 1-3 1-0.5 2.5 1 6 5.5 19.5 24 13.5 22 3 3 2.5 2 4 1 6.5 0 18-1 11-2 19.5-6 3.5 0 1 1 0 3.5-3.5 5-5 4.5-6.5 4-5.5 3-5 2-7.5 1.5-9 1zM230.5 43.5l-1.5 0.5-1.5-0.5-2-2-0.5-3 0.5-1.5 1-1 3.5 0 2.5 2 0 3-2 2.5z"/><path fill="rgb(103,103,103)" d="M160.5 109.5l-12.5 0-8-1.5-7-3.5-6-5.5-10.5-14.5-9.5-15-6-10.5-2-5-1.5-6 0-4.5 1-2.5 2 0 3.5 2.5 15.5 17.5 7 9.5 10 17 3.5 4 3.5 2.5 3.5 1 5.5 0.5 17.5-1 9.5-1 18.5-5 3.5 0 1.5 1 0 1.5-1 2-3.5 4-6 4.5-6 3-11.5 3.5-14.5 1.5z"/><path fill="rgb(111,111,111)" d="M164.5 108l-13.5 0.5-8-1-6.5-2.5-6-4.5-5-5.5-5.5-7.5-15-23.5-4.5-10-0.5-5 0.5-3 2-0.5 3 2 13 14.5 6.5 9 10.5 17 3.5 4.5 3.5 2.5 6 1.5 12 0 15.5-1 18.5-4 2 0.5 1 0.5 0 2-2 2.5-4.5 3.5-5.5 3-10 3-11 1.5z"/><path fill="rgb(119,119,119)" d="M165.5 106.5l-13 0.5-8.5-1-6.5-2-5.5-4-9.5-11-13.5-21-6-13-0.5-2 0.5-2 1.5-0.5 2 1 11 11 6 8.5 11 18.5 3.5 4 3.5 2.5 5 2 8 0 18.5-0.5 13.5-2 3 0.5 1 0.5-0.5 1-1.5 2-5 3-8 2.5-10 1.5z"/><path fill="rgb(126,126,126)" d="M159 105l-10 0-6-1-5.5-2-4.5-3.5-9.5-11-9.5-14-5.5-10-1.5-4 0-2 1-0.5 2 1 6 5.5 6.5 9 10.5 17.5 4 5 3.5 3 4 1.5 5 0.5 27-0.5 3.5 0.5-1.5 1.5-6.5 2-5 1-8 0.5z"/></g><path fill="none" stroke="#d8c850" stroke-opacity="0.75" stroke-width="0.7" d="M191.1 323l0.6-0.1 0.2-0.2-8.1-3.4-4.8-2.4-5.2-3.1-4.7-3.3-4.3-3.6-4.3-4.4-3.3-4-3.2-4.8-2.8-4.9-2.2-5.1-1.7-5.2-1.3-5.9-0.7-5.4-0.1-6 0.3-5.4 0.9-5.4 1.6-6 1.9-5.3 2.5-5.2 2.9-5 3.5-5 4-4.8 4.6-4.6 4.6-3.8 5.1-3.6 5.7-3.4 5.4-2.7 6.1-2.4 6.8-2.1 6.4-1.4 5.4-0.7 5.3-0.2M191.1 323l-9.1-2.2-7.2-2.2-6.6-2.4-7-3.2-6.3-3.5-6.4-4.2-5.6-4.5-4.8-4.7-4.1-4.9-3.4-5-2.8-5.1-2.3-5.9-1.4-5.4-0.7-6 0-6.1 0.9-6 1.6-6.1 2.2-5.3 3.2-5.8 3.6-5.1 4.2-5 5-4.8 5.7-4.7 6.6-4.4 6.4-3.6 7.3-3.4 8.1-3.1 7.9-2.4 9-2.1 10.3-1.6 8.1-0.5 4.7 0.4M191.1 323l-9.9-1.5-10.3-2.2-9-2.5-9.4-3.2-8.3-3.5-8.3-4.2-7.4-4.4-6.3-4.7-5.4-4.9-5.1-5.6-3.7-5.2-3.1-5.9-1.9-5.3-1.2-6.1-0.2-6.1 0.7-6 1.8-6.1 2.8-5.9 3.9-5.9 4.2-5.1 5.9-5.6 6.1-4.8 7-4.6 8.1-4.3 8-3.6 9.1-3.4 10.2-3.1 10.1-2.3 14.1-2.4 12.6-1.2 8.7-0.2 1.7 0.3 1.6 0.7M245.3 323l11.1-1.6 9.4-1.8 10-2.5 10.2-3.1 9.1-3.5 9.1-4.2 7.9-4.4 7-4.7 5.9-4.8 5.6-5.7 4-5.1 3.5-5.9 2.4-6 1.3-6.1 0.3-6.1-0.8-6-1.8-6.1-3-5.9-4-5.9-4.5-5.1-6.1-5.6-6.5-4.8-7.5-4.5-8.5-4.4-9.8-4.1-9.7-3.3-11.2-3-11-2.4-13.2-1.9-14.3-1.3-9.3-0.2-1.5 0.2-1.2 1M245.3 323l9.9-2 8.1-2.2 7.4-2.5 7.8-3.2 6.9-3.5 6.1-3.7 6.3-4.4 5.4-4.7 4.6-4.8 4.3-5.7 3.1-5.1 2.5-5.9 1.6-5.3 0.9-6.1 0.1-6.1-0.8-6-1.7-6.1-2.6-5.9-3.5-5.9-3.8-5.1-4.6-4.9-5.4-4.8-6.2-4.7-7.1-4.3-6.9-3.7-7.9-3.3-8.9-3.2-8.6-2.3-10-2.1-11.4-1.5-7.2-0.4-2.6 0.1-2.9 0.5M245.3 323l-0.1-0.1 0.6-0.4 7.5-2.5 6.4-2.7 5.1-2.6 5.4-3.3 4.9-3.5 5-4.4 3.8-3.9 3.8-4.8 3.2-4.9 2.6-5 2.1-5.2 1.7-5.9 0.9-5.3 0.3-6-0.3-6.1-0.8-5.4-1.6-6-2-5.3-2.9-5.8-3.2-5.1-3.8-5-4.4-4.8-5-4.5-5-3.9-5.6-3.6-6.2-3.4-5.9-2.7-6.7-2.4-7.4-2.1-7-1.4-7.3-0.8-5.2 0M245.3 323l-2.7 0-1.4-0.3 0.5-0.6 5.7-3.1 4.2-2.8 4-3.2 4-3.9 3.6-4.2 3.2-4.5 2.7-4.7 2.5-5.5 1.6-4.4 1.5-5.1 1-5.3 0.7-5.3 0.3-5.3-0.2-5.4-0.5-5.4-0.9-5.4-1.3-5.3-1.7-5.3-2.1-5.1-2.5-5.1-3-4.9-2.9-4.2-3.3-4-3.7-3.8-4.2-3.7-3.9-2.9-4.4-2.7-4.8-2.5-4.5-1.9-5.1-1.5-4.6-1-4.9-0.5M245.3 323l-9 0.4-2.2-0.1-0.6-0.1-0.3-0.3 4.6-4.4 2.2-2.5 2.4-3.2 2.5-4 2.1-4.3 2.1-5.1 1.6-4.8 1.4-5.5 1.2-5.7 0.8-5.9 0.5-5.9 0.1-6.1-0.1-6.7-0.5-6.1-0.8-6-1.1-6-2.3-9.1-3.2-8.7-3.7-7.6-4.2-6.6-4.6-5.4-5.1-4.3-5.1-2.9-3.1-1.2-2.7-0.7M245.3 323l-15.9 1-4.2 0-0.7-0.1-0.5-0.3 2.4-5.7 1.9-6 1.6-7.9 1.3-8.7 0.9-10 0.6-10.4 0.1-11.4-0.3-10.8-0.6-10.7-1.1-10.4-1.4-9.4-1.8-8.7-2-7-2.2-5.6-2.5-4.1-1.2-1.4-1.5-1.2M191.1 323l16.9 1.1 6.3 0.1 0.8-0.1 0.2-0.3-1.2-5.8-0.9-5.9-1.5-16.6-0.7-20.4 0-22.2 0.9-21.2 1.6-18.1 1-6.9 1.1-5.7 1.2-4.1 1.4-2.7M191.1 323l12.3 0.6 2.1-0.1 0.5-0.1 0.2-0.4-3.5-4.1-2.1-2.9-2.2-3.8-1.9-4-1.9-4.9-1.6-5.2-1.3-5.4-1-5.6-1.4-12.3-0.3-6.7 0-6.7 0.9-12.8 2-12.6 2.1-8.3 2.4-7.3 2.9-6.9 3.2-5.9 3.5-4.9 3.8-3.9 4.2-2.9 4.2-1.7M191.1 323l4.8 0.1 1.4-0.2 0.3-0.3-6.3-4.3-3.7-2.9-3.7-3.7-3.4-4.1-3.3-4.9-2.8-5.1-2.4-5.4-1.9-5.7-1.1-4.4-1-5.3-0.6-4.6-0.3-5.3 0.3-10.1 0.6-5.4 0.9-4.7 1.3-5.3 1.6-5.2 2-5.2 2.1-4.4 2.3-4.2 2.7-4.2 2.9-4 3.3-3.8 3.8-3.6 3.5-2.9 3.9-2.7 3.6-2.1 4.1-1.9 3.6-1.3 4-1 4.6-0.7M166 307.9l-22.7-2.1-17.7-0.6M310.6 305.2l-10.3 0.2-11.6 0.8-47.1 4.8-10.3 0.8-9.1 0.3-10.5 0-11.5-0.7-12.2-1.1-22-2.4M149.3 284.3l-16.4-1.6-13.7-1-12.5-0.6-12-0.2M341.3 280.9l-13.9 0.3-14.6 0.8-15.9 1.4-45.2 4.5-14.1 1-13.3 0.5-15.3-0.1-16.1-0.8-16.9-1.4-26.7-2.8M145.3 257.8l-17.3-1.7-14.5-1.1-13.4-0.7-12.8-0.2M348.7 254.1l-14.9 0.3-15.2 0.9-16.3 1.4-46.9 4.7-15.3 1.1-14.6 0.5-16.8 0-17.5-0.8-18.2-1.5-27.7-2.9M153.8 231.4l-15.8-1.7-12.3-1.1-11.7-0.6-11.7-0.2M333.8 227.8l-13 0.3-13.3 0.7-13.5 1.3-41.6 4.6-13.9 1-13.4 0.6-15.4-0.1-16-0.7-16.5-1.5-23.4-2.6M175.6 208.1l-18-2.4-7.6-0.5-8-0.1M294.2 205.1l-8.5 0.1-8.1 0.6-34.5 4.8-10 0.9-9.5 0.4-11.2 0-11.3-0.6-11.4-1.2-14.1-2"/></g><g font-size="5.3" fill="#e0d040" fill-opacity="0.9" text-anchor="middle"><text x="101.0" y="254.8">60</text><text x="122.7" y="256.1">30</text><text x="144.4" y="258.2">0</text><text x="166.2" y="260.5">-30</text><text x="188.1" y="262.5">-60</text><text x="210.0" y="263.4">-90</text><text x="231.9" y="263.2">-120</text><text x="253.8" y="261.9">-150</text><text x="275.6" y="259.8">180</text><text x="297.4" y="257.5">150</text><text x="319.1" y="255.5">120</text><text x="340.9" y="254.6">90</text><text x="174.9" y="208.3">60</text><text x="153.1" y="231.6">30</text><text x="148.6" y="284.5">-30</text><text x="165.3" y="308.1">-60</text><text x="191.1" y="323.1">-90</text></g><g clip-path="url(#cL2)"><g transform="translate(81,326)" filter="url(#fL)"><rect width="275" height="144" fill="rgb(38,38,38)"/><path fill="rgb(43,43,43)" d="M275 144l-275 0-0-144 275-0 0 144zM65.5 86.5l2.5-2 3-5 1.5-6 0-5.5-1.5-5.5-3-4.5-3-2.5-3.5-0.5-3.5 1.5-2.5 3.5-1.5 5 0 6 1 5.5 3 5 4 4 3.5 1zM80 115.5l2-1.5 1-2-0.5-2.5-2-3-3-3-4-3-3-0.5-2 0.5-1 2-0.5 3 0.5 3 2 3 2 2 3 2 3 0.5 2.5-0.5z"/><path fill="rgb(48,48,48)" d="M275 144l-275 0-0-144 275-0 0 144zM195.5 52.5l3.5-1 2-2-0.5-2.5-2.5-2-4-1.5-5-0.5-4 1-2 2 0 2.5 3 2.5 5 1.5 4.5 0zM86.5 123.5l3.5-1.5 2-1.5 1-3 0-3-2.5-6.5-8.5-12-3-5.5-1-5.5 0.5-15-2-8.5-4-8.5-4-4.5-2.5-2-2.5-1-3 0-2.5 0.5-3.5 2-3 3.5-3 4.5-1.5 5-1 5 0 5.5 1 5.5 2 6 4.5 11.5 4.5 13 2.5 4.5 3 3.5 5 4 6 3 6.5 1.5 5.5-0.5z"/><path fill="rgb(54,54,54)" d="M275 144l-275 0-0-144 275-0 0 144zM199 56l3.5-1 2.5-1.5 2-2 0.5-2 0-2.5-1-2-1.5-2-3-2-10-3.5-12.5-2.5-8.5 0.5-2.5 1.5-1.5 1.5-0.5 3.5 1.5 3.5 3.5 3.5 4.5 3 6 2.5 5.5 1.5 6 0.5 5.5-0.5zM97.5 130.5l3.5-1 2.5-2 1-2.5-0.5-3.5-1.5-4.5-2.5-5-11.5-16-3-6-1.5-6-0.5-11.5-1-6.5-1.5-5-4.5-9.5-4.5-7.5-5-4-3-1.5-3-0.5-3 0.5-3 1-5.5 4-4.5 6-4 8-2 8.5-0.5 7 1.5 7.5 2 6.5 6.5 14.5 4 7.5 4 6 5 5 5.5 4 7 3 7.5 2.5 8.5 1 7.5 0z"/><path fill="rgb(59,59,59)" d="M275 144l-104.5 0 5-3.5 5.5-2.5 21.5-8.5 8.5-4.5 3.5-3 0.5-2.5-2-2-3.5-1-5-0.5-6.5 1-33 7-16.5 2.5-8.5 0-8-1-7.5-2-6-2.5-6-4-5.5-5-9-11-5.5-8-3-8.5-2-13-1.5-7-7-16.5-3.5-6.5-3.5-4-4-3.5-4-1.5-4-1-6 1.5-6 4-8.5 9-5.5 8-3 7.5-1.5 8 0.5 7.5 2 8 5 9.5 10.5 15.5 5 6.5 5.5 5 6 4.5 6.5 3.5 23.5 9.5 9 5-103 0-0-144 115.5 0 1 7 4 12.5 11.5 19.5 4 4.5 5.5 2.5 16.5 4 20.5 7 8.5 2 7 0.5 8.5-1 3.5-1.5 2-1.5 2.5-2.5 1-2.5 0-3-0.5-3-2-3-2.5-2.5-13.5-7.5-5.5-4-3-4.5-2-8.5-1.5-3.5-3.5-4-8-7 105.5-0 0 144z"/><path fill="rgb(64,64,64)" d="M275 144l-92.5 0 9-5 21-10 8-5.5 3-4 0-3.5-2-2.5-4.5-2-5-0.5-6.5 0.5-33.5 7.5-11.5 1.5-10.5 0.5-9 0-8.5-1.5-7.5-2-6.5-3-6-4-5.5-5-5.5-6.5-4.5-6.5-3-8.5-2.5-13.5-1-4.5-13-27-4-5.5-4.5-4.5-4-2.5-4-0.5-6 1-6.5 4-12 9.5-8.5 9-4.5 7.5-3 8-0.5 8 1 7.5 3 8 5.5 8.5 6.5 7.5 16.5 16.5 6 5 7 4.5 25.5 13.5-91 0-0-144 108 0 1 8 5 14.5 7 11 5 11 3.5 4 4.5 2.5 6 1.5 19 3 24.5 5.5 11 1 9-1 3.5-1.5 3-2 2.5-3 1.5-3 0.5-3.5-0.5-3.5-1-3.5-2.5-3-11-8-4.5-4-2-4-0.5-8.5-1.5-3.5-3.5-4-7-6 94.5-0 0 144z"/><path fill="rgb(69,69,69)" d="M275 144l-85 0 28-15 5-3.5 4-3.5 3-5 0-4.5-2.5-3.5-5-2.5-5 0-6 0.5-33 8-13 2-10.5 1-10 0-8.5-1-9-2.5-7.5-3.5-5-3.5-5-4.5-4.5-5-3.5-5-2.5-6.5-5-18.5-8.5-16.5-5.5-12-4-7-4.5-6-2.5-3-3-1.5-4-1-6 1-7 3.5-16 11-10 9.5-5.5 7.5-4 8-2 8 0.5 8.5 2 7 3.5 7 5 6.5 7 7 27 22.5 9 6 17.5 10-83.5 0-0-144 103 0 1.5 8.5 6 16 7 11 5 12.5 2 3 3 2.5 4 2 5 1.5 22 2 26.5 5 10 1 5-0.5 4-1 4-1.5 3-2.5 2.5-3 2-3.5 1-4 0-4-1-4.5-2.5-4.5-9.5-8-3.5-4-1-3.5 0-8-1.5-3.5-3.5-4-6-5 87-0 0 144z"/><path fill="rgb(74,74,74)" d="M275 144l-79.5 0 27.5-15.5 11-8.5 3-3 1.5-2.5 1-3 0-3-1-3-1.5-2-2-1.5-6-2-4-0.5-5 1-33 11-10.5 2-12 2-13.5 0.5-10.5-1-9.5-2.5-9-4-8.5-6.5-6-7.5-3.5-7-3.5-11.5-2.5-6-10.5-19-5.5-12-3.5-6.5-5-8.5-3-4-3-2.5-4-0.5-6.5 1-7 3.5-19 12-6.5 5-5 5-6.5 8-4.5 8-2 8.5-0.5 8.5 2 7.5 3.5 7 4.5 7 6.5 6.5 7.5 6.5 13.5 9 12 10 22.5 14-78 0-0-144 99 0 2.5 8.5 7 17 6.5 11 5.5 13.5 2.5 3.5 4 4 4 2 4 1 28 2.5 24 4 9 1 4.5-0.5 4.5-1.5 4-2 4-3.5 2.5-3 2-4 1-4 0-4-1-5.5-2-5-2-2.5-6.5-6-2-3.5-0.5-3 0-7-1-3.5-3.5-4-6.5-5.5 81.5-0 0 144z"/><path fill="rgb(79,79,79)" d="M275 144l-75 0 22-12.5 9-6 6-3.5 4-3 3-3.5 3.5-6 8-17.5 2-6 1-4.5 0-3.5-1.5-3-1.5-2-2-0.5-2.5 1-11.5 9-25 15.5-11.5 6-13 4.5-13 4-12.5 2-19-0.5-11-2.5-7-3-6-3.5-5.5-4.5-4.5-5.5-4-7.5-5.5-14.5-13.5-22.5-5.5-12.5-9-17-4.5-6-2.5-1.5-2.5 0-6.5 1-7.5 3.5-7 5-7.5 3.5-7 4.5-7 5-5.5 5-7 8-5 8.5-3 8.5-0.5 9 1.5 7.5 3 7.5 5 7.5 6.5 7 12.5 10 14 8.5 12 9.5 18 11.5-73.5 0-0-144 96.5 0 9 23 7.5 14 5 12.5 4 6 5.5 5.5 3.5 2 4 1 29 1.5 25 5 6.5 0.5 4.5-0.5 4-1 5-3 4.5-4 2.5-3 2.5-4 1.5-4.5 0.5-4-0.5-6-2-7.5-2-3-5-5-1.5-3-0.5-3 0-6-1-3.5-3.5-4.5-6.5-5.5 77-0 0 144z"/><path fill="rgb(84,84,84)" d="M275 144l-71 0 27-16.5 9-4.5 6.5-4.5 6.5-8 11.5-16 4-7.5 2.5-6 0.5-6-0.5-6-1.5-6-3.5-6-4.5-5.5-5-5-6.5-4-4-2-3 0-2.5 1-2.5 2.5-2 3.5-1 3-1 15-1 5.5-2 5-3.5 6-5 6-5.5 5-5 4-8.5 4.5-11.5 5-9.5 3.5-6.5 2-14 1.5-8 0-12-1.5-8-2-7-3.5-7-5.5-6-6.5-3.5-6-6.5-15.5-14.5-23-5.5-12.5-9.5-19-4-6-3-2.5-2 0-3 0.5-7.5 2.5-11.5 7-12 6-8.5 5.5-7.5 6-6.5 6.5-5 6.5-4 7-0-57.5 94.5 0 11 26.5 7 12 4.5 12 4.5 7 5.5 6 4 2 4 1.5 30 1.5 9.5 2 15.5 3.5 4.5 0.5 4.5-0.5 4.5-1.5 5-3.5 5-4 3-3 3-4.5 1.5-4.5 1-4.5 0-5-1.5-11-1-2.5-4.5-5.5-1.5-2.5 0-8-1-3-2.5-4-7-6-0.5-1 72.5-0 0 144zM69.5 144l-69.5 0 0-56.5 3 5.5 4 6 5 5.5 6.5 5.5 11 8 14 7.5 9.5 7.5 16.5 11z"/><path fill="rgb(89,89,89)" d="M168 112.5l-7 0.5-8.5-0.5-14.5-3-5.5-2-4.5-2.5-8.5-7-6-8.5-8.5-17.5-15-22.5-14.5-31.5-5-9.5-2-1.5-4.5 0-7 2.5-6.5 3.5-7 4.5-9.5 4.5-9.5 5.5-8 5.5-6.5 5.5-5.5 6-4.5 6-0-50.5 92.5 0 2.5 4.5 9.5 22.5 7 11.5 5.5 14.5 5 7.5 5 5 4.5 3 4 1.5 29.5 1.5 9.5 2 14 4 4.5 0.5 4.5-0.5 5-2 4.5-2.5 5-4.5 7.5-7.5 3.5-6.5 1.5-4 0-5-1.5-7.5 0.5-5.5-0.5-2.5-5-8-1-8-0.5-3-3-4-6-5 0.5-2 67-0 0 60-3-5.5-4-5-4.5-5-5.5-4-5-3-5.5-2-5-1-3.5 0.5-2 2-4.5 9-1.5 4-0.5 14-1 5.5-1.5 4-4 8-6 7.5-4 4-5 3.5-7 4-8 3.5-2.5 2-11.5 4-12 2.5zM275 144l-65.5 0 0.5-1.5 21-13 12.5-6 7.5-5.5 6-6 10.5-13 4.5-6.5 3-6 0 57.5zM64.5 144l-64.5 0 0-49.5 7 9 9.5 8.5 12.5 8.5 14.5 7.5 21 14.5 0 1.5z"/><path fill="rgb(96,96,96)" d="M167.5 112l-8 0.5-8.5-0.5-13.5-3.5-9-4.5-8-7-5.5-8-8.5-17.5-11.5-15.5-4-7-17-36.5-2-7.5-1.5-1.5-4 0-7.5 3-7.5 4-8 5-10 4.5-9 5-8 5-6 5-5.5 5-5 5.5-0-45.5 90.5 0 3.5 5 10 22.5 7 12 3.5 10.5 3 6 3.5 5.5 5 5 5 4 4.5 2 4 0.5 18 0.5 6.5 0.5 8.5 2 13.5 5 7 0.5 5.5-1.5 6.5-3.5 6-4.5 12.5-11.5 1.5-0.5 0.5 0.5 1 2.5 0 4.5-1.5 7-5 9-7 8-7.5 5.5-11.5 6-2.5 2-12.5 5-11.5 2zM275 51.5l-6-7.5-7.5-6-8-4.5-8-2.5-7-0.5-5 1-1 1.5 0 5-1 2.5-2 1.5-2-0.5-1.5-2 0-2 2.5-5.5 0-1.5-6-8.5-1.5-8-2-3.5-2.5-3.5-4.5-4 0.5-3 62.5-0 0 51.5zM275 144l-60.5 0 0.5-3 16-10 14.5-6.5 8.5-5.5 9.5-9.5 11.5-14.5 0 49zM59.5 144l-59.5 0 0-44.5 6.5 7 8 7 13 8.5 16 8 16 11 0.5 3-0.5 0z"/><path fill="rgb(103,103,103)" d="M0 40l0-40 56.5 0 0.5 4.5-13.5 8.5-13 5.5-11.5 6.5-10.5 7.5-8.5 7.5zM165 111.5l-15-0.5-12.5-4-10-6-6.5-7-4-6-9-17.5-11.5-15-5.5-8-15.5-36-0.5-3 0-3 1.5-3 1.5-2 1-0.5 8 0 2.5 1.5 2.5 2.5 11 24 6.5 11 3.5 11.5 3.5 7 3 5 5 5.5 5 4.5 5 3.5 7 2 15.5 0 6 1 6 1.5 10.5 5 7 0.5 6.5-1 6-2 7.5-4 10.5-7.5 2-0.5 1 0 0.5 1.5 0 2-3 7-5 7-5.5 4.5-6 4-7 3.5-2 3-3 2-11 4-13 2zM275 44l-8.5-8-9.5-5.5-9-3.5-17-3.5-2.5-3.5-4.5-9-5.5-6 1-5 55.5-0 0 44zM275 144l-54 0 1-5 9-5.5 14-6 10.5-6 9-7.5 10.5-11.5 0 41.5zM53 144l-53 0 0-39 7.5 7 10 7 12 7 14 6.5 9 6.5 0.5 5z"/><path fill="rgb(111,111,111)" d="M0 36l0-36 48 0 0 7.5-4.5 3-12 5-12.5 6.5-10 6.5-9 7.5zM275 38.5l-7-5.5-7.5-5-7.5-3-15.5-5.5-6.5-4-3.5-5-4-4 2-6.5 49.5-0 0 38.5zM167.5 110.5l-8 0.5-9-1-12-3.5-2-1-1.5-2-7-4.5-5-5-4.5-7-9-17.5-12-14-5.5-8.5-15-35.5 0-5 0.5-2 2-2 3-1 3 0 3 1 2.5 2.5 11 23.5 6.5 11 4 12.5 5.5 11 3.5 4.5 6 6.5 9.5 7 10 4.5 7.5-0.5 4 0 14.5 4.5 7 1 6-0.5 6.5-1.5 7-2.5 8.5-4 2.5-0.5 1 0.5-0.5 2.5-2 3.5-7 5.5-9.5 5.5-0.5 2.5-1 1.5-11.5 5-12 2.5zM275 144l-47.5 0 1.5-7.5 2-1 15.5-6.5 8.5-4.5 10-7 10-9.5 0 36zM47 144l-47 0 0-35 8.5 7 9.5 6.5 12 6.5 13.5 6 3 2 0.5 7z"/><path fill="rgb(119,119,119)" d="M166 110l-6.5 0-9-0.5-11-3.5-2.5-1.5-1-3-6-3.5-6-5.5-4-6.5-9-17.5-12.5-13.5-5.5-8-9.5-22-5.5-13.5 0-4 2.5-3.5 2.5-1 2.5 0 3 1 2 2 10.5 23 6.5 11 3.5 12 5.5 12.5 9 10.5 12.5 11 6 6.5 3 0.5 13 0 17 1.5 13.5 0-0.5 1.5-3 2 3 1 1 1-0.5 1.5-1.5 1.5-10.5 4.5-12.5 2.5zM275 34.5l-6-4.5-7-4.5-20-9-11-6-2.5-2.5 2.5-5 9 0.5 9 2 8 3 7 4.5 5 4.5 4 5.5 2 5 0 6.5z"/><path fill="rgb(126,126,126)" d="M112 64.5l-3-1.5-5.5-4.5-5.5-6-4-6-4.5-10.5-5.5-11.5-4.5-13 0-4 2.5-3 2-0.5 2 0 2 1 1.5 1.5 11 23.5 6 10 6 21.5 0.5 2-1 1zM140 99.5l-3.5-0.5-3.5-1.5-4-3-3-3-5-8.5-2.5-7.5-0.5-1.5 0.5-1 2 1 7.5 6.5 8 8 6.5 10-0.5 0.5-2 0.5zM165 109.5l-10 0-7-1.5-9-3.5-1.5-1 0-1.5 0.5-1 2-1 8 0-0.5-0.5 2-0.5 6-0.5 5.5 0.5 1 0.5 0 0.5 1.5 0 21-0.5 2 0.5 1.5 1-2.5 2.5-6 3-7 2-7.5 1z"/><path fill="rgb(134,134,134)" d="M108 58.5l-2.5-0.5-4.5-4-3.5-3.5-3-4.5-4-10.5-5.5-11.5-4.5-12.5 0.5-3.5 2-2 3-0.5 2.5 2 6.5 12.5 4.5 10.5 6.5 10 1.5 6 1.5 9 0 2-1 1zM131 91l-2.5-2-0.5-1.5 0-1 3 3 0 1.5zM167.5 108.5l-6.5 0.5-10.5-1-8-3-2.5-1.5 0-1 2.5-1 8-0.5 9.5 0 19.5-0.5 3 0.5 1.5 1-2 2-3.5 2-11 2.5z"/><path fill="rgb(142,142,142)" d="M105.5 54l-2 0-3-2-5.5-6.5-3.5-10.5-5.5-11.5-4-12.5 0-2 1.5-1.5 2-0.5 2 1.5 6.5 12 4.5 10.5 6.5 10 1.5 4.5 0.5 4.5-0.5 3-1 1zM166 108l-6.5 0-9-0.5-4.5-2-2.5-2 1-1 1.5-0.5 5-0.5 26.5 0.5 2.5 1-0.5 1-3 1.5-10.5 2.5z"/><path fill="rgb(149,149,149)" d="M104 51.5l-1.5 0-2-1-4.5-5.5-3.5-10.5-5.5-11.5-2-8.5 0-3.5 0.5-0.5 1 1 5 7 6 13 7 10 1 6.5-0.5 2.5-1 1zM167 107l-6 0.5-9.5-1-3-1-1-1.5 1-1 2.5-0.5 13 0 8.5 0.5 2.5 1-2.5 1.5-5.5 1.5z"/><path fill="rgb(157,157,157)" d="M93 29l-3.5-6 0-2.5 1 0.5 1 1.5 1.5 6.5zM103 48.5l-1 0.5-1.5-0.5-3.5-4-2-8 0-3.5 3 2 5 6.5 1 4-0.5 2-0.5 1zM165.5 106l-7.5 0-5.5-1.5 11.5-1 4 1-0.5 1-2 0.5z"/><path fill="rgb(164,164,164)" d="M101 46l-1.5-0.5-1.5-1.5-0.5-2.5 0.5-2 1.5 0 2.5 3 0 2.5-1 1z"/></g><path fill="none" stroke="#d8c850" stroke-opacity="0.75" stroke-width="0.7" d="M191.1 462.9l0.6-0.1 0.2-0.2-8.1-3.4-4.8-2.4-5.2-3.1-4.7-3.3-4.3-3.6-4.3-4.4-3.3-4-3.2-4.8-2.8-4.9-2.2-5.1-1.7-5.2-1.3-5.9-0.7-5.4-0.1-6 0.3-5.4 0.9-5.4 1.6-6 1.9-5.3 2.5-5.2 2.9-5 3.5-5 4-4.8 4.6-4.6 4.6-3.8 5.1-3.6 5.7-3.4 5.4-2.7 6.1-2.4 6.8-2.1 6.4-1.4 5.4-0.7 5.3-0.2M191.1 462.9l-9.1-2.2-7.2-2.2-6.6-2.4-7-3.2-6.3-3.5-6.4-4.2-5.6-4.5-4.8-4.7-4.1-4.9-3.4-5-2.8-5.1-2.3-5.9-1.4-5.4-0.7-6 0-6.1 0.9-6 1.6-6.1 2.2-5.3 3.2-5.8 3.6-5.1 4.2-5 5-4.8 5.7-4.7 6.6-4.4 6.4-3.6 7.3-3.4 8.1-3.1 7.9-2.4 9-2.1 10.3-1.6 8.1-0.5 4.7 0.4M191.1 462.9l-9.9-1.5-10.3-2.2-9-2.5-9.4-3.2-8.3-3.5-8.3-4.2-7.4-4.4-6.3-4.7-5.4-4.9-5.1-5.6-3.7-5.2-3.1-5.9-1.9-5.3-1.2-6.1-0.2-6.1 0.7-6 1.8-6.1 2.8-5.9 3.9-5.9 4.2-5.1 5.9-5.6 6.1-4.8 7-4.6 8.1-4.3 8-3.6 9.1-3.4 10.2-3.1 10.1-2.3 14.1-2.4 12.6-1.2 8.7-0.2 1.7 0.3 1.6 0.7M245.3 462.9l11.1-1.6 9.4-1.8 10-2.5 10.2-3.1 9.1-3.5 9.1-4.2 7.9-4.4 7-4.7 5.9-4.8 5.6-5.7 4-5.1 3.5-5.9 2.4-6 1.3-6.1 0.3-6.1-0.8-6-1.8-6.1-3-5.9-4-5.9-4.5-5.1-6.1-5.6-6.5-4.8-7.5-4.5-8.5-4.4-9.8-4.1-9.7-3.3-11.2-3-11-2.4-13.2-1.9-14.3-1.3-9.3-0.2-1.5 0.2-1.2 1M245.3 462.9l9.9-2 8.1-2.2 7.4-2.5 7.8-3.2 6.9-3.5 6.1-3.7 6.3-4.4 5.4-4.7 4.6-4.8 4.3-5.7 3.1-5.1 2.5-5.9 1.6-5.3 0.9-6.1 0.1-6.1-0.8-6-1.7-6.1-2.6-5.9-3.5-5.9-3.8-5.1-4.6-4.9-5.4-4.8-6.2-4.7-7.1-4.3-6.9-3.7-7.9-3.3-8.9-3.2-8.6-2.3-10-2.1-11.4-1.5-7.2-0.4-2.6 0.1-2.9 0.5M245.3 462.9l-0.1-0.1 0.6-0.4 7.5-2.5 6.4-2.7 5.1-2.6 5.4-3.3 4.9-3.5 5-4.4 3.8-3.9 3.8-4.8 3.2-4.9 2.6-5 2.1-5.2 1.7-5.9 0.9-5.3 0.3-6-0.3-6.1-0.8-5.4-1.6-6-2-5.3-2.9-5.8-3.2-5.1-3.8-5-4.4-4.8-5-4.5-5-3.9-5.6-3.6-6.2-3.4-5.9-2.7-6.7-2.4-7.4-2.1-7-1.4-7.3-0.8-5.2 0M245.3 462.9l-2.7 0-1.4-0.3 0.5-0.6 5.7-3.1 4.2-2.8 4-3.2 4-3.9 3.6-4.2 3.2-4.5 2.7-4.7 2.5-5.5 1.6-4.4 1.5-5.1 1-5.3 0.7-5.3 0.3-5.3-0.2-5.4-0.5-5.4-0.9-5.4-1.3-5.3-1.7-5.3-2.1-5.1-2.5-5.1-3-4.9-2.9-4.2-3.3-4-3.7-3.8-4.2-3.7-3.9-2.9-4.4-2.7-4.8-2.5-4.5-1.9-5.1-1.5-4.6-1-4.9-0.5M245.3 462.9l-9 0.4-2.2-0.1-0.6-0.1-0.3-0.3 4.6-4.4 2.2-2.5 2.4-3.2 2.5-4 2.1-4.3 2.1-5.1 1.6-4.8 1.4-5.5 1.2-5.7 0.8-5.9 0.5-5.9 0.1-6.1-0.1-6.7-0.5-6.1-0.8-6-1.1-6-2.3-9.1-3.2-8.7-3.7-7.6-4.2-6.6-4.6-5.4-5.1-4.3-5.1-2.9-3.1-1.2-2.7-0.7M245.3 462.9l-15.9 1-4.2 0-0.7-0.1-0.5-0.3 2.4-5.7 1.9-6 1.6-7.9 1.3-8.7 0.9-10 0.6-10.4 0.1-11.4-0.3-10.8-0.6-10.7-1.1-10.4-1.4-9.4-1.8-8.7-2-7-2.2-5.6-2.5-4.1-1.2-1.4-1.5-1.2M191.1 462.9l16.9 1.1 6.3 0.1 0.8-0.1 0.2-0.3-1.2-5.8-0.9-5.9-1.5-16.6-0.7-20.4 0-22.2 0.9-21.2 1.6-18.1 1-6.9 1.1-5.7 1.2-4.1 1.4-2.7M191.1 462.9l12.3 0.6 2.1-0.1 0.5-0.1 0.2-0.4-3.5-4.1-2.1-2.9-2.2-3.8-1.9-4-1.9-4.9-1.6-5.2-1.3-5.4-1-5.6-1.4-12.3-0.3-6.7 0-6.7 0.9-12.8 2-12.6 2.1-8.3 2.4-7.3 2.9-6.9 3.2-5.9 3.5-4.9 3.8-3.9 4.2-2.9 4.2-1.7M191.1 462.9l4.8 0.1 1.4-0.2 0.3-0.3-6.3-4.3-3.7-2.9-3.7-3.7-3.4-4.1-3.3-4.9-2.8-5.1-2.4-5.4-1.9-5.7-1.1-4.4-1-5.3-0.6-4.6-0.3-5.3 0.3-10.1 0.6-5.4 0.9-4.7 1.3-5.3 1.6-5.2 2-5.2 2.1-4.4 2.3-4.2 2.7-4.2 2.9-4 3.3-3.8 3.8-3.6 3.5-2.9 3.9-2.7 3.6-2.1 4.1-1.9 3.6-1.3 4-1 4.6-0.7M166 447.8l-22.7-2.1-17.7-0.6M310.6 445.1l-10.3 0.2-11.6 0.8-47.1 4.8-10.3 0.8-9.1 0.3-10.5 0-11.5-0.7-12.2-1.1-22-2.4M149.3 424.2l-16.4-1.6-13.7-1-12.5-0.6-12-0.2M341.3 420.8l-13.9 0.3-14.6 0.8-15.9 1.4-45.2 4.5-14.1 1-13.3 0.5-15.3-0.1-16.1-0.8-16.9-1.4-26.7-2.8M145.3 397.7l-17.3-1.7-14.5-1.1-13.4-0.7-12.8-0.2M348.7 394l-14.9 0.3-15.2 0.9-16.3 1.4-46.9 4.7-15.3 1.1-14.6 0.5-16.8 0-17.5-0.8-18.2-1.5-27.7-2.9M153.8 371.3l-15.8-1.7-12.3-1.1-11.7-0.6-11.7-0.2M333.8 367.7l-13 0.3-13.3 0.7-13.5 1.3-41.6 4.6-13.9 1-13.4 0.6-15.4-0.1-16-0.7-16.5-1.5-23.4-2.6M175.6 348l-18-2.4-7.6-0.5-8-0.1M294.2 345l-8.5 0.1-8.1 0.6-34.5 4.8-10 0.9-9.5 0.4-11.2 0-11.3-0.6-11.4-1.2-14.1-2"/></g><g font-size="5.3" fill="#e0d040" fill-opacity="0.9" text-anchor="middle"><text x="101.0" y="394.7">60</text><text x="122.7" y="396.0">30</text><text x="144.4" y="398.1">0</text><text x="166.2" y="400.4">-30</text><text x="188.1" y="402.4">-60</text><text x="210.0" y="403.3">-90</text><text x="231.9" y="403.1">-120</text><text x="253.8" y="401.8">-150</text><text x="275.6" y="399.7">180</text><text x="297.4" y="397.4">150</text><text x="319.1" y="395.4">120</text><text x="340.9" y="394.5">90</text><text x="174.9" y="348.2">60</text><text x="153.1" y="371.5">30</text><text x="148.6" y="424.4">-30</text><text x="165.3" y="448.0">-60</text><text x="191.1" y="463.0">-90</text></g><g clip-path="url(#cL3)"><g transform="translate(81,466)" filter="url(#fL)"><rect width="275" height="144" fill="rgb(23,23,23)"/><path fill="rgb(28,28,28)" d="M275 144l-275 0-0-144 275-0 0 144zM62 87l3-2 2-3 1-4 0-4-1.5-3.5-3-3-3.5-1-3.5 0-3.5 1.5-2.5 3-1 4 0 4.5 2 4 3 2.5 3.5 1.5 4-0.5z"/><path fill="rgb(33,33,33)" d="M275 144l-275 0-0-144 275-0 0 144zM219 68l4-1 3.5-1 2.5-2 1.5-2.5 0-2.5-1.5-3-2.5-2.5-3-2-9.5-3-9.5-0.5-4.5 0.5-3.5 1.5-3.5 2-1.5 2-0.5 2.5 0.5 2.5 2 2.5 4 2.5 5 2 5.5 1.5 5.5 0.5 5.5 0zM64.5 99l3.5-1 3-2.5 2.5-2.5 2-3.5 1.5-4.5 1-4.5 0.5-4.5-0.5-4-1-4-2-3.5-2.5-3.5-3-3-3.5-2-3.5-1.5-3.5-0.5-3.5 0.5-4 1.5-3.5 2-3 3-3 4-2 3.5-1 3.5-0.5 4 0.5 4 1.5 4 2 3.5 3 4 3.5 3.5 4 2.5 4 1.5 4 0.5 3.5-0.5z"/><path fill="rgb(38,38,38)" d="M275 144l-275 0-0-144 275-0 0 144zM221 73.5l6.5-1 5.5-2 4-2.5 2.5-3 1-3.5-0.5-3.5-2.5-3.5-4-3-7-3.5-8.5-3-9-2-8-1-6.5 0.5-6 1.5-5 3-3 3.5-1.5 4 1 4 2.5 3.5 5 3.5 8 3.5 8.5 2.5 9 1.5 8 0.5zM68.5 107.5l4-1.5 3-2 3-3.5 2-4.5 2.5-7.5 1.5-7.5 0-6.5-0.5-5.5-2-5.5-2.5-5-3-4-4-3.5-4.5-3-4-1.5-4.5-0.5-4.5 0.5-5 1.5-4.5 3-5.5 4.5-4 5-2.5 5-1.5 5-0.5 5.5 0.5 5 2 5.5 3 5.5 4 4 6.5 5.5 5.5 3.5 5.5 2 5.5 1 4.5-0.5z"/><path fill="rgb(43,43,43)" d="M275 144l-275 0-0-144 275-0 0 144zM228 77.5l7-1.5 5.5-2.5 4-3.5 3-4 0.5-4.5-1-4-3-3.5-5-3.5-11.5-5-10.5-3.5-13.5-3.5-10-1.5-7 0-6 1.5-5 3-3.5 4.5-2 5.5 0.5 3 1 3 3.5 5 6 4.5 11.5 5 14 4 12 2 9.5-0.5zM72 115.5l4-0.5 3.5-1.5 2.5-2.5 2-4.5 2-8.5 3-17 0-8-0.5-6.5-1.5-5.5-3-6-4-5-4.5-4.5-5-3.5-4.5-2-5-1-5 0.5-7 2.5-8 5-5.5 4.5-4 5-3.5 6-2 6-0.5 6 0.5 6.5 2 6 3 5.5 4 5 5 4.5 9 6.5 7 3.5 8 2.5 8 1z"/><path fill="rgb(48,48,48)" d="M275 144l-275 0-0-144 275-0 0 144zM226.5 82l8.5-1 6.5-2 5.5-3 4.5-4.5 2.5-5 0-5.5-2-4.5-4-4-8.5-4.5-15-5.5-21-6.5-14-3.5-8.5-1-7 0.5-5 1.5-4 3-2 3.5-1 4 0 4.5 0.5 4 1 3.5 2 3.5 2.5 3 3.5 3 4.5 3 6.5 3 17.5 6 15 3.5 11.5 1zM81.5 123.5l3.5-1 2-1.5 1.5-2.5 0.5-3 1-19 2.5-22.5-0.5-7-1-6.5-2.5-6.5-3.5-5.5-4.5-5.5-6.5-6-4.5-2.5-5-1.5-5 0-5 1-6.5 3-11 6.5-6 5.5-5 6-3.5 7-2 7-0.5 7.5 1.5 7.5 3.5 8 5.5 7.5 6 5.5 11 7.5 8.5 4.5 9 3.5 9 2.5 7.5 0.5z"/><path fill="rgb(54,54,54)" d="M275 144l-115.5 0 1-2.5 0-2-0.5-1.5-2.5-1-7-1.5-20-1-4 0.5-3 2-2 3-1 4-120.5 0-0-144 275-0 0 144zM90 132.5l2-1 1.5-1.5 1-2.5 0-3.5-1.5-25.5 2-30.5-0.5-6.5-1.5-5.5-2.5-6-4-6-6.5-8-4.5-4-5.5-2.5-5.5-1.5-5.5 0-5.5 1.5-6 3-14 8.5-6.5 6-5.5 7-4 7.5-2 8 0 8.5 2 8 3 6.5 4.5 6.5 6 6 6.5 5 15.5 9.5 11 5.5 17.5 6.5 5 1 3.5 0zM228 86l9-1 7.5-2 6.5-3.5 4.5-4.5 3.5-6 0.5-6-1.5-5.5-4-4.5-6-3.5-8.5-3.5-42.5-14-11-3-10-1.5-11 0.5-9 1.5-2.5 1-2 1.5-1 2 0.5 3.5 2.5 9.5 2.5 6.5 4.5 7.5 6 5.5 5.5 3.5 7 3 23.5 8.5 14 3.5 11.5 1z"/><path fill="rgb(59,59,59)" d="M275 144l-98.5 0 13-11.5 1.5-3.5-1-2-2.5-1-5-0.5-35.5 1.5-21.5-1.5-5 1-4.5 3.5-5.5 8.5-1.5 3 0 2.5-109 0-0-144 121.5 0 3 2 4 1.5 11 1 10-1 3-1.5 2-2 120.5-0 0 144zM98.5 141.5l2.5-2 1-3.5-5-24.5-1.5-9 0-10.5 2-25.5-0.5-6.5-2-6.5-3-6-4.5-7-6-8-5-4.5-5.5-2.5-6.5-1.5-6.5 0.5-6.5 2-14 7.5-7.5 5-7.5 7-6 7.5-4 8.5-1.5 8.5 0 9 2.5 8.5 3.5 7 5 6 6 6 7.5 5.5 20 12 16 8 19 8.5 4.5 1 3.5-0.5zM230.5 90l9.5-1 8.5-2.5 6.5-4 5.5-5.5 3-7 0.5-7-0.5-3-1.5-3-5-5-5.5-3-7.5-3-49.5-16.5-11.5-3-13-1-16.5 0.5-10.5 1.5-3.5 1.5-1.5 1.5-0.5 2 1 3 12 20.5 5.5 6.5 7 5.5 13 6.5 33 12 12 3 9.5 0.5z"/><path fill="rgb(64,64,64)" d="M275 144l-89.5 0 15.5-11.5 7-7 1.5-3-0.5-2-2-1.5-3.5-1-8 0.5-28 3-15.5 1.5-12-0.5-17.5-2-4.5 1-8 4.5-2 0.5-1.5-1-2.5-2.5-2.5-5-2.5-7.5-1.5-7.5 0-12 2.5-25.5-0.5-5.5-2-6.5-6.5-12-6.5-9.5-3.5-4-4-3-4-2-4.5-1.5-5-0.5-5.5 0.5-5.5 1.5-14.5 7-9.5 6-9 7.5-6.5 8.5-4.5 9-2 9.5 0.5 9.5 2.5 8 4 7.5 5.5 7 6.5 6.5 8 5.5 10 5.5 12 7.5 30.5 16.5-86 0-0-144 114 0 3.5 3 5 2 8 1.5 9.5 0.5 8.5-0.5 6.5-1 4-2 3-3.5 113-0 0 144zM234 94.5l10-1.5 9-3.5 7-5 5.5-6.5 1.5-4 1.5-4 0-4 0-3.5-1.5-3.5-1.5-3-5.5-5-5-2.5-6.5-2.5-28-8.5-28-10-12-3-14.5-1-21 1-11.5 1.5-3.5 1.5-2 1.5-0.5 2 1 3 3.5 6.5 4 6 12.5 14.5 4.5 4 5 3.5 11 5.5 45.5 18 9.5 2.5 10 0z"/><path fill="rgb(69,69,69)" d="M275 144l-82.5 0 18.5-13.5 5-4.5 3.5-4 2-4 0.5-4-1.5-3-3-1.5-7 0.5-31.5 7-17.5 2.5-10 0.5-9-0.5-20.5-3-4 0.5-7.5 3-3.5-1-2.5-2.5-2-4-2-5.5-1-6.5 0-11.5 3-23.5-0.5-5-2.5-6.5-7-13-7-10.5-3-4-4.5-3.5-4.5-3-4.5-1.5-5-0.5-5.5 0.5-5.5 1.5-16 7.5-10 6-9.5 7.5-7 8.5-5 9-2.5 10 0 9.5 2 8.5 4 8 5.5 7.5 7 7 11 8 11 5.5 12.5 8 23.5 13.5-79.5 0-0-144 109.5 0 3.5 4 6 2.5 9 1.5 12 0.5 11 0 7.5-1.5 5-2.5 5-4.5 106.5-0 0 144zM228 101.5l13-2.5 10.5-3.5 9-5.5 6-6.5 3-4.5 2-4.5 1-4.5 0-4.5-0.5-4-2-4-2-3-3.5-3-5-3-6.5-2.5-29.5-8.5-32-11.5-11.5-3-15-1-23 0.5-13 1.5-3.5 1-2 2-0.5 2 0.5 3.5 7 19 3.5 4 11.5 8.5 6.5 4.5 8 4 26 10.5 10 4.5 23.5 13 4 1.5 4.5-0.5z"/><path fill="rgb(74,74,74)" d="M159 117l-9.5 0.5-8.5-0.5-20-3.5-11 1.5-2-0.5-2-1.5-2-3-1.5-4.5-1.5-10 0.5-10.5 3.5-18.5 0-3-0.5-3-6.5-13-12.5-19.5-8.5-8.5-4-2.5-3.5-1.5-3-1-3.5 0.5-9 2-19.5 9-11 6.5-8.5 7-7 8-5 8.5-3 8.5-0-64.5 106.5 0 2 3 2 2 6.5 3.5 9 1.5 14 0.5 12.5-0.5 8.5-1.5 5-2.5 8-6 101-0 0 60.5-2-4-3.5-4-4-3-5-2.5-7.5-2.5-27-7.5-31.5-11-10.5-3-15.5-2.5-20.5 0-19 1-5 1.5-2.5 1.5-1.5 2 0 3 4.5 16.5 0.5 11.5 1 2.5 2 1.5 10 3.5 19.5 9 31 12.5 11.5 7 3.5 3 2 3 0 2.5-1.5 2.5-3.5 2.5-5.5 2.5-17 5-19 2.5zM275 144l-77.5 0 14.5-10 8-6.5 6-6 5-6.5 6-5.5 19.5-11.5 7.5-5.5 7-8 2.5-4.5 1.5-4.5 0 68.5zM74.5 144l-74.5 0 0-62.5 2.5 7.5 4 7.5 5.5 7 7 6.5 11 8 13.5 7 10 6.5 21 12.5z"/><path fill="rgb(79,79,79)" d="M156.5 115l-8.5 0-8-0.5-19.5-4.5-10 1-2-0.5-2-2-2-3.5-1.5-5-0.5-5.5 0.5-5.5 2.5-12.5 2-5 3-5.5 0.5-1.5-6.5-8.5-18-29-13.5-14.5-3-2-4.5 0-8 2.5-14 7-10 4-9 5-7.5 5.5-7 6.5-6 7-4 7-0-55 104.5 0 2 3.5 2.5 2.5 3 2 4 2 9 1.5 14.5 1 13.5-0.5 9-2 5.5-2 8.5-6 4.5-2 94.5 0 0 54.5-5.5-5-8-4-31-7.5-14-4.5-23.5-9-13.5-3.5-16-2-22-0.5-15 1.5-4.5 1-2.5 1.5-1.5 2.5 0 3 4 15.5 0.5 6-1 3.5-1.5 3-6.5 8 0 1 1.5 1.5 2.5 2 3 1 11.5-1 7 1 32 11.5 10.5 4.5 7.5 4 5.5 4 3 4 0.5 3-1.5 2.5-2.5 2.5-5 2.5-7 2.5-8 2-17.5 2.5zM275 144l-73.5 0 16.5-11.5 7-5.5 6-5.5 6.5-4.5 25.5-19 7-6.5 5-7 0 59.5zM70.5 144l-70.5 0 0-53.5 3.5 6.5 4.5 5.5 5 5.5 6.5 5.5 11.5 7.5 12.5 6 27 17z"/><path fill="rgb(84,84,84)" d="M113.5 57.5l-2 0.5-2-0.5-3.5-2.5-18-27.5-10-12.5-4-7.5-1.5-1.5-2-0.5-3.5 0.5-5 2-18.5 10-10.5 4-10 5.5-7 5-6 5-5.5 6-4.5 6-0-49.5 102.5 0 3.5 5 5 4 5.5 3 8.5 3 1 1-7 4-2.5 3.5-0.5 4.5 3.5 13.5 0.5 7-0.5 3-1.5 2.5-2 2-2.5 1.5zM275 51l-5.5-4-7.5-3-31-7-14-4.5-28.5-10.5-11.5-3-16-3-2.5-1 1-1 9-4 10-6.5 9.5-3.5 87-0 0 51zM157 113l-8.5 0-8-0.5-7.5-1.5-12-4-9 0-3-1-2-2-1-2.5-1.5-7.5 1-9 3-7 2-2 2-1 8 0.5 13-2.5 9 1 19.5 6 16 6 9 5.5 3 2.5 1.5 2.5 0.5 3-1 2.5-2.5 2.5-4 2.5-5.5 2-7 2-15 2zM275 144l-68.5 0 0-0.5 15.5-11 9-7.5 10.5-6 11-8 14.5-12 8-8.5 0 53.5zM65 144l-65 0 0-48 8 10 10 9 12 7.5 13.5 6.5 21.5 13.5 0 1.5z"/><path fill="rgb(89,89,89)" d="M112.5 55l-2.5 0-2-1-4.5-5-14.5-22-9-11.5-2-4.5-2.5-7.5-1.5-1.5-1.5-0.5-3.5 1-5.5 2-20 11.5-11 4.5-10 5-12.5 9-5 5-5 5.5-0-45 101 0 4.5 6 10 8 1.5 2 0 1.5-2 5-0.5 3.5 3.5 15 0.5 7-1 2.5-1 2-2 1.5-2 1zM275 48.5l-5-3.5-6.5-2.5-27-5-15-4-28.5-10.5-20.5-6.5-3-1.5-0.5-1.5 4-4 7.5-5 5-1.5 11-3 78.5-0 0 48.5zM158.5 111l-10 0.5-9-1-7.5-2-11.5-5-9.5-1-2.5-2.5-1.5-4.5 0-5.5 2-5 1.5-2.5 2-1 7.5-0.5 13-4.5 8.5 0 14 3 16.5 6 9.5 5 3 2.5 1.5 2.5 1 2.5-0.5 2.5-2 2.5-3 2-10 4-13 2zM275 144l-63.5 0 0-1.5 0-0.5 19.5-14 11-6 11.5-7.5 13-10.5 8.5-9 0 49zM60 144l-60 0 0-43.5 7.5 8 9 7.5 12.5 8 14.5 6.5 16 10.5 0.5 3z"/><path fill="rgb(96,96,96)" d="M0 41.5l0-41.5 61.5 0 0.5 3-18.5 11.5-13 5-11.5 6-10 7.5-9 8.5zM112.5 52.5l-2 0-1.5-0.5-5-4.5-4.5-6-10-15-6.5-8.5-3.5-8-2-10 22.5 0 4 6 9 9 1 2.5-0.5 9.5 2.5 11 1 7-1.5 5-1 1.5-2 1zM275 45.5l-5-2.5-5.5-2-26.5-4-16.5-4.5-43-15.5-4-2-0.5-1 0-1.5 1.5-2 3-2.5 6-3 24-5 66.5-0 0 45.5zM152.5 109.5l-11.5-1-10-3-12-7-5.5-2.5-1.5-2.5 0.5-2.5 1.5-1.5 5-2 11.5-7 5-1.5 6 0 12 2 14.5 5 9 4.5 3 2.5 1.5 2.5 0.5 2.5-0.5 2.5-2.5 2.5-3.5 2-10.5 3-12.5 1.5zM275 144l-59 0 0-3 15-11 12.5-6 11-7 11.5-9 9-8.5 0 44.5zM55.5 144l-55.5 0 0-40 8.5 8 10 7.5 12 7 13 5.5 11 7.5 1 4.5z"/><path fill="rgb(103,103,103)" d="M0 37.5l0-37.5 52 0 0 6-8.5 6-14 5.5-11.5 6-9.5 6.5-8.5 7.5zM111.5 48.5l-2 0-2-1-5-4.5-18-25.5-2-4.5-1.5-5-0.5-4 1-4 16.5 0 4 5.5 8.5 9.5 1 3 0 8.5 2.5 9 0.5 6-1 5-2 2zM275 42l-5-2.5-5-1.5-23.5-1.5-10-2-8-2-39-15-5-3-0.5-1 0-1.5 1-1.5 2-2 6-2.5 6-1 14-1.5 2.5-1 7-1 3-1.5 54.5-0 0 42zM155.5 106.5l-6.5 0-6-0.5-6-1.5-4-2-4-3-2.5-3.5-0.5-3.5 1-3 3.5-3.5 4-2 5-1 6.5 0 8.5 1.5 9.5 3 6.5 3.5 4 3.5 0.5 2 0 2-1.5 2-2 1.5-7 3-9 1.5zM275 144l-52 0 0-5 8-6 13.5-6.5 12-7 9.5-7 9-8 0 39.5zM49 144l-49 0 0-36 8.5 7.5 10 7 12 6.5 13 5.5 4.5 3 1 6.5z"/><path fill="rgb(111,111,111)" d="M0 33.5l0-33.5 45 0 0 8.5-1.5 1-13.5 5.5-12 5.5-9.5 6-8.5 7zM110 44.5l-3-0.5-4.5-3.5-16.5-23-2-4.5-1.5-5.5 0-4 2-3.5 11.5 0 12 15 1.5 3.5 1 9 1.5 9.5 0 5-1 2-1 0.5zM275 37.5l-6-3-5-1.5-3 0-9 2-6 0-9-0.5-9.5-2-14-4.5-24.5-10-5-3-1-1.5 0-1.5 2.5-2.5 5-2 7-1.5 17.5-0.5 2.5-1 7.5-1.5 1.5-1 1.5-2 47-0 0 37.5zM151 103.5l-8.5-1-6.5-3-2-2-1-2.5 0-2.5 1-2 2.5-2 3.5-1.5 4.5-0.5 5 0.5 5.5 1 5.5 2 4.5 2.5 2 2.5 0.5 1.5-0.5 1.5-3 3-6 2-7 0.5zM275 144l-46 0 0-7 2-2 13-5.5 12-6.5 10.5-7 8.5-7.5 0 35.5zM34 144l-34 0 0-25.5 7 8.5 8 7 8.5 5 10.5 5z"/><path fill="rgb(119,119,119)" d="M108.5 40.5l-2.5 0-2.5-1.5-7-9-9.5-13.5-2-5.5-1-5 1-3.5 2.5-2.5 5.5 0 1.5 1 10 11 2 3 1.5 4 2 17 0 3-1.5 1.5zM247.5 33l-5.5 0.5-7.5-0.5-15-4-27.5-11-4.5-3-1-2.5 2.5-2.5 5.5-2 8-0.5 17 0.5 2-0.5 2-1 7.5-2 16.5 5.5 8 3.5 3.5 3 5 6.5 5.5 6-0.5 0.5-8.5-4-4.5-1-1.5 1-1.5 4-1 1.5-4.5 2zM152.5 98.5l-4 0-3.5-0.5-2.5-2-0.5-2 2-1.5 2.5-0.5 4 0 3.5 1 2 1.5 0.5 1.5-1 1.5-3 1z"/><path fill="rgb(126,126,126)" d="M106.5 36.5l-2.5-0.5-4.5-4.5-11-14.5-1.5-4.5-1.5-6 1-3 2-2 3 0 2.5 1 9 9.5 2 3 1 3.5 1 6 0.5 9-0.5 2-0.5 1zM242 31.5l-5 0-6-0.5-17-5-20-8.5-3-2.5-1-1.5 0.5-1 1.5-1.5 2-1 6.5-1 7.5 0 16.5 1.5 2.5-0.5 2-1.5 2-0.5 5 1.5 8.5 4 6 4-4-0.5-2 1 0 1.5 2.5 6 0.5 2.5-2 2.5-3.5 1z"/><path fill="rgb(134,134,134)" d="M104 31l-2 0-3-2.5-8.5-10.5-2-4.5-1-6.5 0.5-2 1.5-1.5 2 0 1.5 0.5 8 8 2.5 3 1 3.5 1 6.5-0.5 4.5-1 1.5zM236.5 30l-5.5 0-5.5-1.5-16.5-5.5-12.5-6-2.5-2 0-2 1-1 2.5-1 7.5-1 8.5 1 17.5 2.5 6.5 4.5 3 4 1.5 3 0.5 2-1 1.5-2 1-3 0.5z"/><path fill="rgb(142,142,142)" d="M101.5 27l-5-4-5-5.5-1-3-0.5-3 0.5-3 1-1 2 0 3 2 3.5 3 1.5 2.5 1.5 3.5 0 3 0 4.5-1.5 1zM234.5 28l-3.5 0-5-0.5-14-4.5-11.5-5.5-2.5-2-0.5-1.5 1.5-1 2.5-1 8 0 10.5 1.5 10.5 3 4.5 3.5 2.5 4 0 2.5-3 1.5z"/><path fill="rgb(149,149,149)" d="M99.5 21.5l-3-1-3.5-3.5-0.5-4 1-2 3 1 3.5 3 1 4.5-0.5 1-1 1zM230.5 26l-8-1-9.5-3-8.5-4-2-1.5-0.5-1.5 1.5-1 1.5-0.5 5.5 0 7.5 1 6.5 2 6 3 2 2 0.5 3-1 1-1.5 0.5z"/><path fill="rgb(157,157,157)" d="M225.5 22.5l-4 0-6-1.5-5.5-2.5-1.5-2 1-1 2.5 0 7.5 1.5 5.5 3 1 1.5-0.5 1z"/></g><path fill="none" stroke="#d8c850" stroke-opacity="0.75" stroke-width="0.7" d="M191.1 602.8l0.6-0.1 0.2-0.2-8.1-3.4-4.8-2.4-5.2-3.1-4.7-3.3-4.3-3.6-4.3-4.4-3.3-4-3.2-4.8-2.8-4.9-2.2-5.1-1.7-5.2-1.3-5.9-0.7-5.4-0.1-6 0.3-5.4 0.9-5.4 1.6-6 1.9-5.3 2.5-5.2 2.9-5 3.5-5 4-4.8 4.6-4.6 4.6-3.8 5.1-3.6 5.7-3.4 5.4-2.7 6.1-2.4 6.8-2.1 6.4-1.4 5.4-0.7 5.3-0.2M191.1 602.8l-9.1-2.2-7.2-2.2-6.6-2.4-7-3.2-6.3-3.5-6.4-4.2-5.6-4.5-4.8-4.7-4.1-4.9-3.4-5-2.8-5.1-2.3-5.9-1.4-5.4-0.7-6 0-6.1 0.9-6 1.6-6.1 2.2-5.3 3.2-5.8 3.6-5.1 4.2-5 5-4.8 5.7-4.7 6.6-4.4 6.4-3.6 7.3-3.4 8.1-3.1 7.9-2.4 9-2.1 10.3-1.6 8.1-0.5 4.7 0.4M191.1 602.8l-9.9-1.5-10.3-2.2-9-2.5-9.4-3.2-8.3-3.5-8.3-4.2-7.4-4.4-6.3-4.7-5.4-4.9-5.1-5.6-3.7-5.2-3.1-5.9-1.9-5.3-1.2-6.1-0.2-6.1 0.7-6 1.8-6.1 2.8-5.9 3.9-5.9 4.2-5.1 5.9-5.6 6.1-4.8 7-4.6 8.1-4.3 8-3.6 9.1-3.4 10.2-3.1 10.1-2.3 14.1-2.4 12.6-1.2 8.7-0.2 1.7 0.3 1.6 0.7M245.3 602.8l11.1-1.6 9.4-1.8 10-2.5 10.2-3.1 9.1-3.5 9.1-4.2 7.9-4.4 7-4.7 5.9-4.8 5.6-5.7 4-5.1 3.5-5.9 2.4-6 1.3-6.1 0.3-6.1-0.8-6-1.8-6.1-3-5.9-4-5.9-4.5-5.1-6.1-5.6-6.5-4.8-7.5-4.5-8.5-4.4-9.8-4.1-9.7-3.3-11.2-3-11-2.4-13.2-1.9-14.3-1.3-9.3-0.2-1.5 0.2-1.2 1M245.3 602.8l9.9-2 8.1-2.2 7.4-2.5 7.8-3.2 6.9-3.5 6.1-3.7 6.3-4.4 5.4-4.7 4.6-4.8 4.3-5.7 3.1-5.1 2.5-5.9 1.6-5.3 0.9-6.1 0.1-6.1-0.8-6-1.7-6.1-2.6-5.9-3.5-5.9-3.8-5.1-4.6-4.9-5.4-4.8-6.2-4.7-7.1-4.3-6.9-3.7-7.9-3.3-8.9-3.2-8.6-2.3-10-2.1-11.4-1.5-7.2-0.4-2.6 0.1-2.9 0.5M245.3 602.8l-0.1-0.1 0.6-0.4 7.5-2.5 6.4-2.7 5.1-2.6 5.4-3.3 4.9-3.5 5-4.4 3.8-3.9 3.8-4.8 3.2-4.9 2.6-5 2.1-5.2 1.7-5.9 0.9-5.3 0.3-6-0.3-6.1-0.8-5.4-1.6-6-2-5.3-2.9-5.8-3.2-5.1-3.8-5-4.4-4.8-5-4.5-5-3.9-5.6-3.6-6.2-3.4-5.9-2.7-6.7-2.4-7.4-2.1-7-1.4-7.3-0.8-5.2 0M245.3 602.8l-2.7 0-1.4-0.3 0.5-0.6 5.7-3.1 4.2-2.8 4-3.2 4-3.9 3.6-4.2 3.2-4.5 2.7-4.7 2.5-5.5 1.6-4.4 1.5-5.1 1-5.3 0.7-5.3 0.3-5.3-0.2-5.4-0.5-5.4-0.9-5.4-1.3-5.3-1.7-5.3-2.1-5.1-2.5-5.1-3-4.9-2.9-4.2-3.3-4-3.7-3.8-4.2-3.7-3.9-2.9-4.4-2.7-4.8-2.5-4.5-1.9-5.1-1.5-4.6-1-4.9-0.5M245.3 602.8l-9 0.4-2.2-0.1-0.6-0.1-0.3-0.3 4.6-4.4 2.2-2.5 2.4-3.2 2.5-4 2.1-4.3 2.1-5.1 1.6-4.8 1.4-5.5 1.2-5.7 0.8-5.9 0.5-5.9 0.1-6.1-0.1-6.7-0.5-6.1-0.8-6-1.1-6-2.3-9.1-3.2-8.7-3.7-7.6-4.2-6.6-4.6-5.4-5.1-4.3-5.1-2.9-3.1-1.2-2.7-0.7M245.3 602.8l-15.9 1-4.2 0-0.7-0.1-0.5-0.3 2.4-5.7 1.9-6 1.6-7.9 1.3-8.7 0.9-10 0.6-10.4 0.1-11.4-0.3-10.8-0.6-10.7-1.1-10.4-1.4-9.4-1.8-8.7-2-7-2.2-5.6-2.5-4.1-1.2-1.4-1.5-1.2M191.1 602.8l16.9 1.1 6.3 0.1 0.8-0.1 0.2-0.3-1.2-5.8-0.9-5.9-1.5-16.6-0.7-20.4 0-22.2 0.9-21.2 1.6-18.1 1-6.9 1.1-5.7 1.2-4.1 1.4-2.7M191.1 602.8l12.3 0.6 2.1-0.1 0.5-0.1 0.2-0.4-3.5-4.1-2.1-2.9-2.2-3.8-1.9-4-1.9-4.9-1.6-5.2-1.3-5.4-1-5.6-1.4-12.3-0.3-6.7 0-6.7 0.9-12.8 2-12.6 2.1-8.3 2.4-7.3 2.9-6.9 3.2-5.9 3.5-4.9 3.8-3.9 4.2-2.9 4.2-1.7M191.1 602.8l4.8 0.1 1.4-0.2 0.3-0.3-6.3-4.3-3.7-2.9-3.7-3.7-3.4-4.1-3.3-4.9-2.8-5.1-2.4-5.4-1.9-5.7-1.1-4.4-1-5.3-0.6-4.6-0.3-5.3 0.3-10.1 0.6-5.4 0.9-4.7 1.3-5.3 1.6-5.2 2-5.2 2.1-4.4 2.3-4.2 2.7-4.2 2.9-4 3.3-3.8 3.8-3.6 3.5-2.9 3.9-2.7 3.6-2.1 4.1-1.9 3.6-1.3 4-1 4.6-0.7M166 587.7l-22.7-2.1-17.7-0.6M310.6 585l-10.3 0.2-11.6 0.8-47.1 4.8-10.3 0.8-9.1 0.3-10.5 0-11.5-0.7-12.2-1.1-22-2.4M149.3 564.1l-16.4-1.6-13.7-1-12.5-0.6-12-0.2M341.3 560.7l-13.9 0.3-14.6 0.8-15.9 1.4-45.2 4.5-14.1 1-13.3 0.5-15.3-0.1-16.1-0.8-16.9-1.4-26.7-2.8M145.3 537.6l-17.3-1.7-14.5-1.1-13.4-0.7-12.8-0.2M348.7 533.9l-14.9 0.3-15.2 0.9-16.3 1.4-46.9 4.7-15.3 1.1-14.6 0.5-16.8 0-17.5-0.8-18.2-1.5-27.7-2.9M153.8 511.2l-15.8-1.7-12.3-1.1-11.7-0.6-11.7-0.2M333.8 507.6l-13 0.3-13.3 0.7-13.5 1.3-41.6 4.6-13.9 1-13.4 0.6-15.4-0.1-16-0.7-16.5-1.5-23.4-2.6M175.6 487.9l-18-2.4-7.6-0.5-8-0.1M294.2 484.9l-8.5 0.1-8.1 0.6-34.5 4.8-10 0.9-9.5 0.4-11.2 0-11.3-0.6-11.4-1.2-14.1-2"/></g><g font-size="5.3" fill="#e0d040" fill-opacity="0.9" text-anchor="middle"><text x="101.0" y="534.6">60</text><text x="122.7" y="535.9">30</text><text x="144.4" y="538.0">0</text><text x="166.2" y="540.3">-30</text><text x="188.1" y="542.3">-60</text><text x="210.0" y="543.2">-90</text><text x="231.9" y="543.0">-120</text><text x="253.8" y="541.7">-150</text><text x="275.6" y="539.6">180</text><text x="297.4" y="537.3">150</text><text x="319.1" y="535.3">120</text><text x="340.9" y="534.4">90</text><text x="174.9" y="488.1">60</text><text x="153.1" y="511.4">30</text><text x="148.6" y="564.3">-30</text><text x="165.3" y="587.9">-60</text><text x="191.1" y="602.9">-90</text></g><g clip-path="url(#cL4)"><g transform="translate(81,606)" filter="url(#fL)"><rect width="275" height="144" fill="rgb(28,28,28)"/><path fill="rgb(33,33,33)" d="M275 144l-275 0-0-144 275-0 0 144zM60 86.5l6-1.5 4.5-3.5 1-2 0.5-2.5-0.5-2-1-2-4.5-3.5-6.5-1.5-7 1-5.5 2.5-2 2.5-0.5 2.5 0 2.5 1.5 2.5 2.5 2.5 3 1.5 4 1 4.5 0z"/><path fill="rgb(38,38,38)" d="M275 144l-275 0-0-144 275-0 0 144zM222.5 74l6-2 2-2 1.5-2 0-2-0.5-2-1.5-2-2-1.5-6.5-2-7 0-6.5 2-2 1.5-1.5 2-0.5 2.5 0.5 2 1.5 2 2 1.5 7 2 7.5 0zM63.5 90.5l4-1 4-2 3.5-3 2-3 1.5-3 0-3-1.5-3-2.5-3-3.5-2.5-4-1.5-4.5-1-5-0.5-5 0.5-4.5 1.5-4 2-3 2.5-2 3.5-1 4 1.5 3.5 2.5 3.5 4.5 3 5 2 6 1 6-0.5z"/><path fill="rgb(43,43,43)" d="M275 144l-275 0-0-144 275-0 0 144zM224 77.5l4.5-1 4-2 3.5-2.5 1.5-2.5 1-3-0.5-3-2.5-3-3-2.5-4-1.5-5-1.5-5-0.5-5 0.5-5 1-4 1.5-4 2.5-2 2.5-1 3 0 3 2 3 3.5 2.5 4.5 2 5.5 1.5 5.5 0.5 5.5-0.5zM62.5 94.5l5.5-1.5 5-2 4.5-3 3.5-4 2-4 0.5-3.5-1-4-2-3.5-4-3.5-5-2.5-5.5-1.5-6.5-1-6 0.5-6 1.5-5 2-4.5 3-3.5 4.5-1 4.5 0.5 4.5 3 4.5 5 4.5 6.5 3 7 1.5 7 0z"/><path fill="rgb(48,48,48)" d="M275 144l-275 0-0-144 275-0 0 144zM223 80.5l6.5-1 5.5-2.5 4-2.5 3-3.5 1-3.5 0-4-2.5-3.5-4-3.5-5-2.5-6-1.5-6-0.5-6.5 0-6.5 1-5.5 2.5-4.5 2.5-3 3.5-1.5 3.5 0.5 4 2 3.5 3.5 3 5.5 2.5 6.5 2 6.5 0.5 6.5 0zM63.5 98l6-1.5 6-3 5.5-4 4-4.5 2.5-4.5 0.5-4-1-4.5-2.5-4-4.5-4-5.5-3-6.5-2-7.5-1-7 0-7 1.5-6 2.5-5.5 3.5-4 5-1.5 5.5 0.5 5.5 3.5 5.5 6 5 8 4 8 2 8 0z"/><path fill="rgb(54,54,54)" d="M275 144l-275 0-0-144 275-0 0 144zM223.5 83l7.5-1.5 6.5-2.5 5-3 3.5-4 1.5-4.5-0.5-4.5-2.5-4-4.5-4-6-3-7-2-7.5-0.5-7.5 0-7.5 1.5-6.5 2.5-5 3-4 4-2 4 0.5 4.5 2.5 4 4.5 4 6 3 7.5 2 7.5 1 8 0zM64.5 101.5l6.5-1.5 6-3 6.5-5 5.5-6 2.5-5 1-5-1-4.5-2.5-4.5-5.5-4.5-6-3.5-8-2.5-8-1-8 0-7.5 1.5-7.5 3-6 3.5-5 6-2 6 0 3.5 1 3 3.5 6 7 6 9.5 5 9.5 2.5 8.5 0z"/><path fill="rgb(59,59,59)" d="M275 144l-275 0-0-144 275-0 0 144zM220 85.5l8.5-1 8-2 6.5-3.5 5-4 2.5-4.5 1-5-2-5-3.5-4.5-6-4-7.5-3-9-1.5-9-0.5-9 1-8.5 2.5-7 4-4.5 4.5-2.5 4.5 0 5 2 4.5 4 4 6 3.5 8 3 8.5 1.5 8.5 0.5zM63 105l7-1 6.5-2.5 7-5 7-7 4.5-6 2-5.5 0-5-2-4.5-5.5-5.5-6.5-4.5-8-3-9-2-9-0.5-9 1-8.5 2.5-7.5 4-3.5 3-3 3-2 3.5-1 3.5-0.5 3.5 0.5 3.5 1 3.5 2 3.5 6.5 6.5 9.5 5.5 11 4 10.5 1.5z"/><path fill="rgb(64,64,64)" d="M275 144l-275 0-0-144 275-0 0 144zM223.5 87.5l9.5-1.5 8.5-3 6.5-4 4.5-5 2-5.5 0.5-3-1-3-3-5.5-5.5-4.5-7.5-4-9.5-2.5-9-1-9.5 0-9.5 2-8.5 3-7 4.5-4.5 5-2.5 5.5 1 5 3 5 5 4 7.5 4 9.5 3 9.5 1.5 10 0zM65.5 108l6-1 5-1.5 4.5-2.5 4.5-3.5 7.5-8 6.5-7.5 6-9.5 0.5-2-0.5-1-12.5-10-7-4.5-8.5-3.5-9.5-2.5-10.5-0.5-10.5 1-10.5 3.5-8 4.5-3.5 3.5-3 3.5-2 3.5-1 4 0 4 0.5 4 1.5 4 2.5 3.5 3 3.5 4.5 3.5 11 6.5 12 4 6 1 5.5 0z"/><path fill="rgb(69,69,69)" d="M275 144l-275 0-0-144 275-0 0 144zM224.5 89.5l10.5-2 9-3 7.5-5 4.5-5.5 2-6 0-3.5-1-3-3.5-6-6.5-5-8.5-4-10-3-10-1-10.5 0.5-10.5 2.5-9 3.5-8 5-4.5 5.5-2.5 5.5 1 5.5 3.5 5.5 6 4.5 9 4.5 10 3 11 1.5 10.5 0zM69 110.5l8.5-2 6.5-3.5 5-4.5 14-14.5 11-8 2-3.5 1-4-0.5-4.5-1.5-3-1.5-1.5-2-0.5-7 1-3 0-3.5-1.5-10.5-6-7-3-9.5-2.5-9.5-1-10.5 0.5-10.5 2.5-9 4-7.5 5-3.5 3.5-2.5 4-1.5 4-1 4 0.5 4.5 1 4 2 4 3 4 4.5 4.5 5.5 4 6.5 3.5 7 3 6 2 6 1 6 0.5 5.5 0z"/><path fill="rgb(74,74,74)" d="M275 144l-275 0-0-144 275-0 0 144zM225 91.5l11.5-2 10-3.5 8-5.5 5-6 1.5-3.5 0.5-3.5-0.5-3.5-1-3.5-2-3.5-2.5-3-7-5.5-9.5-4-11.5-3-11-1-11 1-11 2.5-10 4-8 5.5-5.5 6-1.5 3-0.5 3 0 3 1 3 4 5.5 7 5 10 4.5 11.5 3.5 11.5 1.5 11 0zM69 113l9.5-1.5 7.5-3.5 4.5-4 12.5-13 10.5-7.5 3-3 3-5 1-6-1-6-3-5-2-1.5-2.5-0.5-7.5 1-3.5 0-4-1.5-11.5-5-8-3-10-1.5-10-0.5-11 1-11.5 3.5-9 4.5-7 6.5-3 4-2 4-1 4-0.5 4.5 1 4.5 1.5 4 2.5 4 3.5 4 4.5 4 6 4.5 6.5 3.5 7 3 12 3 12 0.5z"/><path fill="rgb(79,79,79)" d="M275 144l-275 0-0-144 275-0 0 144zM226 93.5l12.5-2.5 10.5-4 8.5-5.5 3-3.5 2-3.5 1.5-3.5 0.5-4-0.5-4-1-3.5-2-3.5-3-3.5-8.5-6-10-4-12.5-3-12-1-12 1-12 3-10.5 4.5-8.5 6-3.5 3.5-2.5 3.5-1.5 3-0.5 3 0 3 1 3 4.5 5.5 8 5.5 11 5 12.5 4 12.5 1.5 12.5 0zM72 115l9.5-2 8-4 4.5-3.5 10-11 11-8 4-4 3.5-6 1-7-1.5-7.5-3.5-6-2.5-2-2.5-1-3 0-6.5 1-3.5-0.5-15.5-5.5-7-2-9.5-2-9.5-0.5-11 1-11.5 3-9.5 4-8 6-4 4.5-3 4.5-1.5 4.5-1 5 0.5 5 1.5 4.5 2.5 4.5 3.5 5 5 4.5 6 4.5 6.5 3.5 7 3 7.5 2.5 7.5 1.5 7.5 1 7.5-0.5z"/><path fill="rgb(84,84,84)" d="M275 144l-275 0-0-144 275-0 0 144zM226.5 95.5l13.5-2.5 11.5-4.5 5-3 4-3.5 3-3.5 2.5-4 1.5-4 0-4.5-0.5-4-1.5-4-3-4-3.5-3.5-4-3.5-5-2.5-11.5-4.5-13.5-3-13-0.5-13 1.5-13 3.5-11 5.5-9.5 7-3.5 4-2.5 3.5-1 3-0.5 3 0.5 3 1.5 3 6.5 6 9 5.5 12.5 5.5 13 3.5 13 1.5 12.5 0zM73.5 117l11-2.5 8.5-4 4-3.5 8.5-9.5 11.5-9 5.5-5.5 3.5-7 1-7-1-4-1.5-4-2-4-2.5-3.5-3-2.5-3-1-13.5 0-16-5-7.5-2-9.5-1.5-9.5 0-11.5 1-12.5 3.5-9.5 4.5-8 6-4.5 4.5-3 5-1.5 5-1 5 0.5 5.5 2 5 2.5 5 4 5 5 4.5 6.5 4.5 7 4 7 3 8 2.5 8 1.5 8 1 8.5-0.5z"/><path fill="rgb(89,89,89)" d="M275 144l-275 0-0-144 275-0 0 144zM227.5 97.5l14.5-3 6.5-2 6-3 5-3.5 4-3.5 3.5-4 2.5-4.5 1-4.5 0-4.5-1-4.5-2-4.5-3.5-4-4-4-5.5-3.5-6-3-12-4-15-2.5-14 0-14.5 2-13.5 4.5-12 6.5-5.5 4-5 4.5-3.5 4-2.5 4-1 3 0.5 2.5 1 2.5 2.5 2.5 9 6.5 12.5 6.5 13.5 5 13.5 3.5 12.5 1.5 12.5-0.5zM74 119l12-2.5 5.5-2 4.5-2.5 4-3.5 9-9.5 12-10 6-7 4-7.5 0.5-3 0-3-1-3.5-2.5-4.5-6-9-4-3-4-1.5-13.5 0-23.5-6.5-9.5-1.5-9 0-12 1.5-13.5 3.5-10.5 5-8.5 6-4.5 5-3 5-2 5-0.5 5.5 0 5.5 2 5.5 3 5.5 4 5 5.5 5.5 6.5 4.5 7 4 7.5 3 9 3 8 1.5 8.5 0.5 9 0z"/><path fill="rgb(96,96,96)" d="M275 144l-275 0-0-144 275-0 0 144zM74 121l7-1 6.5-1.5 6-2 5-3 4.5-3.5 9.5-9.5 19.5-18 4-3 4-1.5 3.5 0 4 1 32.5 13.5 11.5 3.5 11 2.5 10.5 1.5 10 0 11-1.5 9.5-2 7.5-2.5 6.5-3.5 5.5-4 4.5-4.5 3.5-5 2-5 0.5-5-0.5-5.5-2.5-5.5-4.5-5.5-5.5-5-6.5-4-8-3.5-8.5-2.5-11-2-9-0.5-9.5 0-9.5 1-9.5 2-9 2.5-13 6-21.5 14-6 2-3.5 0-3-2-11-10.5-6-3.5-4-1-12 0-19.5-5-14-1.5-15.5 0.5-15.5 3-6.5 2.5-6.5 3-5.5 3.5-5 4-4.5 5-3.5 5.5-2 5.5-1 6 0.5 6 1.5 5.5 3 5.5 4.5 5.5 5.5 5.5 6.5 4.5 7 4 8 3.5 10.5 3 8 2 9 0.5 9 0z"/><path fill="rgb(103,103,103)" d="M0 62.5l0-62.5 275 0 0 56-3-4.5-4.5-4.5-5.5-4.5-6-3.5-7-3-7.5-2.5-17.5-3-9-0.5-9.5 0-9.5 1-9.5 2-16.5 5-24 10.5-8 1.5-3.5 0-3-1-11-7.5-5.5-2-14-0.5-23-4.5-9-1-9-0.5-10 1-10.5 2-8.5 2.5-8 3.5-7.5 4-6.5 5-5 5.5-4 6zM275 144l-275 0 0-54 4.5 7 6.5 6.5 8 6 9 5 10 4 13.5 4 10.5 1.5 11 0 8-0.5 7.5-1.5 6.5-2 6-3 7.5-5 11-11.5 8-7 6-4 6-2.5 6.5-0.5 8 1.5 32 10 14.5 3.5 12 1.5 11.5 0.5 9.5-1.5 7.5-1.5 7.5-2 7-3 6.5-3.5 5-4 4.5-4.5 3.5-5 0 65.5z"/><path fill="rgb(111,111,111)" d="M0 55l0-55 275 0 0 49.5-4.5-4.5-5-4-5.5-3.5-6.5-3-14-4.5-17.5-2.5-16-0.5-17.5 2-17 4-25 8-9 1.5-6.5-1-10.5-4.5-5.5-1.5-14.5-1-24.5-4-15-1-10 1-10.5 2-8 2-7.5 2.5-7.5 3.5-7 4.5-6 5-4.5 5zM275 144l-275 0 0-47 6 6.5 7 6 8 5 9 4 9 3.5 15.5 4 10.5 1 10.5 0.5 8-1 7.5-1 7-2.5 6.5-2.5 8.5-6 11-11.5 5-4 6-3.5 6-2 7-1 7.5 1 8.5 2 23.5 7 11.5 2.5 12.5 2 11.5 0 16.5-2.5 14-4 12-6.5 5-4 4.5-4.5 0 58.5z"/><path fill="rgb(119,119,119)" d="M0 49l0-49 275 0 0 44-10-7-12.5-6-13.5-4-18.5-3-13.5 0-15 1-16 3-28 6.5-11 1-7-0.5-15.5-4-13.5-1-24-3.5-14.5-0.5-15.5 1.5-12 2.5-9 3-7.5 3-7 4-6 4-5.5 5zM275 144l-275 0 0-41.5 6.5 6 7.5 5.5 8 4.5 9.5 4 17.5 5 9 2 11 1.5 10.5 0 8-0.5 7.5-1.5 7-2 6.5-3 5-2.5 4.5-3.5 14.5-14 5-3 6-2 7-0.5 8 0.5 9 2 31.5 8.5 11 2 11 0 17-2.5 14-4 12.5-6 10.5-7.5 0 52.5z"/><path fill="rgb(126,126,126)" d="M0 43.5l0-43.5 275 0 0 40-10.5-7-13-5.5-13-3.5-20-3-11.5-0.5-12 1-43.5 7-14.5 1.5-7-0.5-14-2.5-15-1-20.5-3-16.5-0.5-15.5 1.5-13 2.5-9 2.5-7.5 2.5-7 3.5-6.5 4.5-5.5 4zM275 144l-275 0 0-36.5 7 5.5 8 5 8.5 4.5 9.5 3.5 20 6 10 2 12.5 2 11.5 0 7.5-0.5 7-1.5 6.5-1.5 6.5-3 9.5-6.5 14-13 4-2.5 5-1.5 6.5-1 7.5 0.5 8.5 2 27.5 8 10 1.5 10.5-0.5 19.5-3 13.5-4 13.5-5.5 11-7.5 0 47.5z"/><path fill="rgb(134,134,134)" d="M0 38.5l0-38.5 275 0 0 35.5-11.5-6.5-13-5-12.5-3-23.5-4-9.5-0.5-10 0.5-40 6.5-18 1.5-9.5-0.5-47.5-6-13-0.5-15.5 1.5-24.5 5.5-14.5 6-6.5 3.5-6 4zM275 144l-149.5 0 6-2.5 4.5-3.5 4-4.5 7-12 3.5-3 3.5-1.5 4.5-0.5 5.5 0.5 18 6 8 2 9 0.5 10.5-1 13-2.5 26.5-7 14-6 12-7.5 0 42.5zM90 144l-90 0 0-31.5 15 9 15 6.5 34 10.5 12.5 3 13.5 2.5z"/><path fill="rgb(142,142,142)" d="M0 34l0-34 96 0 5.5 1.5 11 0.5 55.5 0 6.5-0.5 3.5-1.5 97 0 0 30-19-7.5-10-3-29-7-15-2-6.5-0.5-6 0.5-29.5 7-12 1.5-11 1-13-1-20.5-3-18-4-9-0.5-8.5 0.5-9 1.5-31.5 8-15 5.5-12.5 7zM275 144l-85.5 0 14-7 27-11.5 14-4 12-5 10-5 8.5-5 0 37.5zM63.5 144l-63.5 0 0-23.5 8.5 4.5 9.5 3.5 25.5 6.5 11 4.5 9 4.5z"/><path fill="rgb(149,149,149)" d="M0.5 25.5l-0.5 0 0-25.5 65.5 0 1 1.5-8.5 5.5-14.5 6.5-11.5 3-15.5 5-16 4zM275 22.5l-11-3-13.5-2-19.5-5-11.5-4.5-7.5-4-3.5-2 0.5-2 66-0 0 22.5zM275 144l-65 0 1-2 20-11 21-7.5 10-4.5 9.5-5.5 3.5-1 0 31.5zM46 144l-46 0 0-13 17 6 13 3 13.5 2 2.5 2z"/><path fill="rgb(157,157,157)" d="M2 11.5l-2 0.5 0-12 45.5 0 0 6-1 2-1 1-2 0.5-11-1-8 0-10 1-10.5 2zM275 9l-13-2.5-11.5-1-10 0-9.5 1-1.5-2.5-0.5-4 46-0 0 9zM275 144l-47 0 3-8 11-0.5 11.5-1 21.5-4.5 0 14z"/></g><path fill="none" stroke="#d8c850" stroke-opacity="0.75" stroke-width="0.7" d="M191.1 742.7l0.6-0.1 0.2-0.2-8.1-3.4-4.8-2.4-5.2-3.1-4.7-3.3-4.3-3.6-4.3-4.4-3.3-4-3.2-4.8-2.8-4.9-2.2-5.1-1.7-5.2-1.3-5.9-0.7-5.4-0.1-6 0.3-5.4 0.9-5.4 1.6-6 1.9-5.3 2.5-5.2 2.9-5 3.5-5 4-4.8 4.6-4.6 4.6-3.8 5.1-3.6 5.7-3.4 5.4-2.7 6.1-2.4 6.8-2.1 6.4-1.4 5.4-0.7 5.3-0.2M191.1 742.7l-9.1-2.2-7.2-2.2-6.6-2.4-7-3.2-6.3-3.5-6.4-4.2-5.6-4.5-4.8-4.7-4.1-4.9-3.4-5-2.8-5.1-2.3-5.9-1.4-5.4-0.7-6 0-6.1 0.9-6 1.6-6.1 2.2-5.3 3.2-5.8 3.6-5.1 4.2-5 5-4.8 5.7-4.7 6.6-4.4 6.4-3.6 7.3-3.4 8.1-3.1 7.9-2.4 9-2.1 10.3-1.6 8.1-0.5 4.7 0.4M191.1 742.7l-9.9-1.5-10.3-2.2-9-2.5-9.4-3.2-8.3-3.5-8.3-4.2-7.4-4.4-6.3-4.7-5.4-4.9-5.1-5.6-3.7-5.2-3.1-5.9-1.9-5.3-1.2-6.1-0.2-6.1 0.7-6 1.8-6.1 2.8-5.9 3.9-5.9 4.2-5.1 5.9-5.6 6.1-4.8 7-4.6 8.1-4.3 8-3.6 9.1-3.4 10.2-3.1 10.1-2.3 14.1-2.4 12.6-1.2 8.7-0.2 1.7 0.3 1.6 0.7M245.3 742.7l11.1-1.6 9.4-1.8 10-2.5 10.2-3.1 9.1-3.5 9.1-4.2 7.9-4.4 7-4.7 5.9-4.8 5.6-5.7 4-5.1 3.5-5.9 2.4-6 1.3-6.1 0.3-6.1-0.8-6-1.8-6.1-3-5.9-4-5.9-4.5-5.1-6.1-5.6-6.5-4.8-7.5-4.5-8.5-4.4-9.8-4.1-9.7-3.3-11.2-3-11-2.4-13.2-1.9-14.3-1.3-9.3-0.2-1.5 0.2-1.2 1M245.3 742.7l9.9-2 8.1-2.2 7.4-2.5 7.8-3.2 6.9-3.5 6.1-3.7 6.3-4.4 5.4-4.7 4.6-4.8 4.3-5.7 3.1-5.1 2.5-5.9 1.6-5.3 0.9-6.1 0.1-6.1-0.8-6-1.7-6.1-2.6-5.9-3.5-5.9-3.8-5.1-4.6-4.9-5.4-4.8-6.2-4.7-7.1-4.3-6.9-3.7-7.9-3.3-8.9-3.2-8.6-2.3-10-2.1-11.4-1.5-7.2-0.4-2.6 0.1-2.9 0.5M245.3 742.7l-0.1-0.1 0.6-0.4 7.5-2.5 6.4-2.7 5.1-2.6 5.4-3.3 4.9-3.5 5-4.4 3.8-3.9 3.8-4.8 3.2-4.9 2.6-5 2.1-5.2 1.7-5.9 0.9-5.3 0.3-6-0.3-6.1-0.8-5.4-1.6-6-2-5.3-2.9-5.8-3.2-5.1-3.8-5-4.4-4.8-5-4.5-5-3.9-5.6-3.6-6.2-3.4-5.9-2.7-6.7-2.4-7.4-2.1-7-1.4-7.3-0.8-5.2 0M245.3 742.7l-2.7 0-1.4-0.3 0.5-0.6 5.7-3.1 4.2-2.8 4-3.2 4-3.9 3.6-4.2 3.2-4.5 2.7-4.7 2.5-5.5 1.6-4.4 1.5-5.1 1-5.3 0.7-5.3 0.3-5.3-0.2-5.4-0.5-5.4-0.9-5.4-1.3-5.3-1.7-5.3-2.1-5.1-2.5-5.1-3-4.9-2.9-4.2-3.3-4-3.7-3.8-4.2-3.7-3.9-2.9-4.4-2.7-4.8-2.5-4.5-1.9-5.1-1.5-4.6-1-4.9-0.5M245.3 742.7l-9 0.4-2.2-0.1-0.6-0.1-0.3-0.3 4.6-4.4 2.2-2.5 2.4-3.2 2.5-4 2.1-4.3 2.1-5.1 1.6-4.8 1.4-5.5 1.2-5.7 0.8-5.9 0.5-5.9 0.1-6.1-0.1-6.7-0.5-6.1-0.8-6-1.1-6-2.3-9.1-3.2-8.7-3.7-7.6-4.2-6.6-4.6-5.4-5.1-4.3-5.1-2.9-3.1-1.2-2.7-0.7M245.3 742.7l-15.9 1-4.2 0-0.7-0.1-0.5-0.3 2.4-5.7 1.9-6 1.6-7.9 1.3-8.7 0.9-10 0.6-10.4 0.1-11.4-0.3-10.8-0.6-10.7-1.1-10.4-1.4-9.4-1.8-8.7-2-7-2.2-5.6-2.5-4.1-1.2-1.4-1.5-1.2M191.1 742.7l16.9 1.1 6.3 0.1 0.8-0.1 0.2-0.3-1.2-5.8-0.9-5.9-1.5-16.6-0.7-20.4 0-22.2 0.9-21.2 1.6-18.1 1-6.9 1.1-5.7 1.2-4.1 1.4-2.7M191.1 742.7l12.3 0.6 2.1-0.1 0.5-0.1 0.2-0.4-3.5-4.1-2.1-2.9-2.2-3.8-1.9-4-1.9-4.9-1.6-5.2-1.3-5.4-1-5.6-1.4-12.3-0.3-6.7 0-6.7 0.9-12.8 2-12.6 2.1-8.3 2.4-7.3 2.9-6.9 3.2-5.9 3.5-4.9 3.8-3.9 4.2-2.9 4.2-1.7M191.1 742.7l4.8 0.1 1.4-0.2 0.3-0.3-6.3-4.3-3.7-2.9-3.7-3.7-3.4-4.1-3.3-4.9-2.8-5.1-2.4-5.4-1.9-5.7-1.1-4.4-1-5.3-0.6-4.6-0.3-5.3 0.3-10.1 0.6-5.4 0.9-4.7 1.3-5.3 1.6-5.2 2-5.2 2.1-4.4 2.3-4.2 2.7-4.2 2.9-4 3.3-3.8 3.8-3.6 3.5-2.9 3.9-2.7 3.6-2.1 4.1-1.9 3.6-1.3 4-1 4.6-0.7M166 727.6l-22.7-2.1-17.7-0.6M310.6 724.9l-10.3 0.2-11.6 0.8-47.1 4.8-10.3 0.8-9.1 0.3-10.5 0-11.5-0.7-12.2-1.1-22-2.4M149.3 704l-16.4-1.6-13.7-1-12.5-0.6-12-0.2M341.3 700.6l-13.9 0.3-14.6 0.8-15.9 1.4-45.2 4.5-14.1 1-13.3 0.5-15.3-0.1-16.1-0.8-16.9-1.4-26.7-2.8M145.3 677.5l-17.3-1.7-14.5-1.1-13.4-0.7-12.8-0.2M348.7 673.8l-14.9 0.3-15.2 0.9-16.3 1.4-46.9 4.7-15.3 1.1-14.6 0.5-16.8 0-17.5-0.8-18.2-1.5-27.7-2.9M153.8 651.1l-15.8-1.7-12.3-1.1-11.7-0.6-11.7-0.2M333.8 647.5l-13 0.3-13.3 0.7-13.5 1.3-41.6 4.6-13.9 1-13.4 0.6-15.4-0.1-16-0.7-16.5-1.5-23.4-2.6M175.6 627.8l-18-2.4-7.6-0.5-8-0.1M294.2 624.8l-8.5 0.1-8.1 0.6-34.5 4.8-10 0.9-9.5 0.4-11.2 0-11.3-0.6-11.4-1.2-14.1-2"/></g><g font-size="5.3" fill="#e0d040" fill-opacity="0.9" text-anchor="middle"><text x="101.0" y="674.5">60</text><text x="122.7" y="675.8">30</text><text x="144.4" y="677.9">0</text><text x="166.2" y="680.2">-30</text><text x="188.1" y="682.2">-60</text><text x="210.0" y="683.1">-90</text><text x="231.9" y="682.9">-120</text><text x="253.8" y="681.6">-150</text><text x="275.6" y="679.5">180</text><text x="297.4" y="677.2">150</text><text x="319.1" y="675.2">120</text><text x="340.9" y="674.3">90</text><text x="174.9" y="628.0">60</text><text x="153.1" y="651.3">30</text><text x="148.6" y="704.2">-30</text><text x="165.3" y="727.8">-60</text><text x="191.1" y="742.8">-90</text></g><g clip-path="url(#cR0)"><g transform="translate(394,48)" filter="url(#fR)"><rect width="278" height="144" fill="rgb(11,11,11)"/><path fill="rgb(14,14,14)" d="M180 138l-27.5 0.5-54-2-98.5 0-0-136.5 278-0 0 136.5-53.5 0.5-44.5 1z"/><path fill="rgb(18,18,18)" d="M172 130.5l-25.5 0-36-3-17.5-1-93 0-0-126.5 278-0 0 126.5-49 0.5-57 3.5z"/><path fill="rgb(21,21,21)" d="M167.5 124l-12 0-13-0.5-42.5-6.5-15.5-1.5-35 0-25.5 2-24-2-0-115.5 278-0 0 115.5-26.5 0-14.5 0.5-44 5.5-25.5 2.5z"/><path fill="rgb(24,24,24)" d="M163 119.5l-16.5-0.5-17-3-15.5-3.5-24-7-12-2-16.5-0.5-12.5 0.5-6.5 1.5-12.5 4.5-6 1-5-1-19-5-0-104.5 278-0 0 104.5-9.5 0.5-16.5-1-8 1-12 2-41 9-18.5 2.5-9.5 1z"/><path fill="rgb(27,27,27)" d="M165.5 116.5l-8.5 0-9.5-0.5-17-4-22.5-7.5-17-8.5-8-3-8-2.5-8-1.5-15.5-0.5-5.5 0.5-4 1-3 1.5-2.5 2.5-4 7.5-2 2.5-2.5 2-3.5 0.5-5-1-19.5-11 0-84 18.5-6 7-1.5 34-2 8.5 0.5 8 1 28 7.5 12.5 2 12 1 30 0.5 26-0.5 11.5-1.5 21-4.5 11-1 11.5 1 25 5 13.5 1.5 0 82-5 1.5-4.5 0.5-4-1-11.5-3-7.5 0-8.5 2.5-41 14.5-12.5 3-18 3z"/><path fill="rgb(30,30,30)" d="M166.5 114.5l-6.5 0.5-7-0.5-6-1-7.5-1.5-16-5.5-12-5.5-6-3.5-23.5-16.5-8.5-6.5-22-28-3.5-2-22-8-4-2.5-3-4-1-4.5 0.5-4.5 2-4.5 4-4 5.5-1.5 27 0 10 1 8 3 13.5 9 16.5 7.5 16.5 9 16 5 6.5 1 7 0.5 29.5-1 8-1 6-1.5 4-2 3-2.5 7-11.5 5.5-5.5 3.5-2 4-1.5 4.5-0.5 4.5 0.5 6 1.5 5.5 2 6 3.5 5.5 4 16.5 17 4 6 4 6.5 0 29.5-2 2.5-2 1.5-3.5 1-3.5-0.5-3-1.5-4.5-5.5-3-2-4.5-2-5 0.5-6 2-24 14.5-15.5 7-14.5 4.5-20.5 4zM25 104.5l-4-0.5-8.5-6-4.5-4-8-9.5 0-40 1.5-0.5 6-1.5 5.5 1 4 3 3 4.5 7.5 21.5-1 9 0.5 4.5 3 11.5 0 2.5-1 2-2 2-2 0.5z"/><path fill="rgb(33,33,33)" d="M166.5 113l-12 0-7-1-7-1.5-13.5-5-16-8.5-7-5.5-13.5-12.5-4.5-6-5.5-10-22-21.5-4.5-2.5-19-5.5-7-3-2.5-1.5-2-2.5-0.5-2.5 0-3 1.5-2.5 2.5-2.5 4-1 25.5-0.5 10.5 1.5 8 3.5 10 8 16.5 10 12 9 5 3 10.5 4 7.5 2.5 9.5 2 8 0.5 33-2.5 7.5-1 7-2 4-2.5 3-4 1.5-3.5 3-10.5 3.5-5.5 3-2 3.5-1.5 3.5-0.5 5 1 5 1 4 2 5 3.5 5 4.5 15 18 4 6 4.5 10.5 2 6.5 0 10-1.5 3-2.5 2-3 0.5-2.5-1-1.5-2-5.5-9-3.5-4-5-3.5-2.5-1-2 0-2 1-3 2-10.5 10.5-8.5 7.5-13.5 8.5-9 4-9.5 3.5-15 3.5-9 1.5zM25.5 102.5l-2 0.5-2-1-5-3-4.5-4-5-6-5-9-2-6.5 0-22 3-2 3-1 3 1 2.5 1.5 1.5 2.5 6.5 21 2 8.5 6.5 14.5-0.5 3-2 2z"/><path fill="rgb(37,37,37)" d="M164.5 112l-11.5 0-12.5-2.5-12-4.5-14.5-8-6.5-5.5-13.5-14-3.5-4.5-5-8.5-2.5-3.5-13-12-9.5-9.5-5.5-3.5-15-4.5-9-4-2.5-1.5-1-1.5-0.5-2 1-2 2-1.5 4-1 19.5-1 8.5 0.5 7.5 2 6 3.5 9 7 16 10 16 13 14 8 10.5 4.5 12.5 6 2 1.5 0.5 2 2.5-2 9-3.5 5.5-1.5 17-2.5 6-2 4.5-2.5 7-5.5 4.5-6 2-5.5 1.5-10 2-4.5 3-2.5 3-1 3-0.5 4 0.5 6.5 2.5 5 3 5 4.5 12.5 13.5 6.5 9 6.5 13.5 1.5 6.5-0.5 8-1.5 2.5-3 0.5-2-1.5-6.5-11.5-6.5-8-5.5-4.5-2.5-1-2 0-3.5 3-8 12-5.5 6.5-7 7-8 5.5-11 5.5-9.5 4-16.5 4-10.5 1.5zM25 100.5l-1.5 0.5-3-1.5-7-5-4.5-5.5-4.5-8-3-10.5-1-13.5 1-3.5 2.5-2 2-0.5 2 0.5 2 1 1 2 8.5 28 6 14.5 0.5 2-1 1.5zM161.5 80l1-1-1-1.5-3.5-1.5-1 0.5 0 1.5 1 1.5 3.5 0.5z"/><path fill="rgb(40,40,40)" d="M163.5 111l-11.5-0.5-11.5-2-12-5-13.5-7.5-6.5-5.5-13-14-3-4-5.5-9.5-2.5-3-13-12-10-10.5-5-3-17-7-3-2.5-0.5-2 2.5-1.5 3-1 14-1.5 8 0.5 7.5 2.5 12 9 16.5 10 14.5 13 22 15 4.5 4 8 9.5 4.5 2 4.5 1.5 4 0.5 4.5-0.5 7-2 6.5-2.5 8-4.5 11.5-9 9-9 4.5-6 3.5-7.5 0.5-9.5 1-3.5 3-3.5 4-2 5 0.5 6.5 2 4.5 3 5 4.5 16.5 18 4 6.5 5 11 1 4 0.5 5.5-1 4-1.5 1.5-2.5-2-7-11.5-7-9-3-2.5-4-2.5-2.5-1-2 0.5-2.5 2.5-6.5 12-5 7-7.5 8-8 6-11 6-10.5 4.5-17 4-10.5 1.5zM22 97.5l-1.5 0-2.5-1-4.5-4-4-5.5-3.5-7-2.5-8.5-1-9 0-7 0.5-1.5 1.5-1 3 0 2 2 8.5 27.5 4.5 11.5 0.5 2.5-1 1z"/><path fill="rgb(43,43,43)" d="M164.5 110l-11.5 0-12.5-2.5-12-5-13.5-8-6-5.5-12.5-13.5-3.5-5-5-8.5-3-3.5-13-12-11-11.5-3-2-11-6-1-1.5 0-1.5 4.5-2 8-1 7 1 6 2.5 10 7 19.5 12.5 12 11 21 16 13.5 13.5 9.5 3.5 4.5 0.5 4-0.5 12-3 9.5-4 9-6.5 8-8 10-12.5 2.5-5 1-3.5 0.5-9.5 0.5-3 2.5-3 3.5-1.5 5 0 6 2.5 4.5 2.5 5 4.5 16 17.5 4 6.5 4.5 10 1.5 6.5-0.5 3-1.5 1-2-1.5-7.5-11-6-7-7.5-5-3-1.5-2 0-2.5 2.5-6.5 13.5-4.5 6.5-7.5 8.5-7 6-11 6-10.5 4.5-12 3.5-15 2.5zM19.5 94l-2.5-0.5-3.5-2.5-3.5-5-3-6.5-2.5-7.5-0.5-7.5 0-8.5 1.5-1.5 1 0 1 1 3 7 9 27.5 0.5 3-0.5 1z"/><path fill="rgb(46,46,46)" d="M165.5 109l-11.5 0-13-2.5-12.5-4.5-13.5-8.5-6-5.5-11.5-13-3.5-5-5-8.5-2.5-3.5-13.5-12.5-11-12-8-6-0.5-1.5 0-1 3.5-1.5 6-0.5 5 1.5 4.5 2 8.5 6.5 19 11.5 12 11 21 16.5 14 13.5 5 2.5 5.5 1.5 4 0.5 4.5-0.5 14-3.5 9-4 8-6 8.5-9 7-8.5 3.5-5.5 2.5-4.5 1-4-0.5-7.5 0.5-3 1.5-3 3-1.5 3-0.5 6 1.5 3.5 2 4 2.5 17.5 18 3 4 3 5.5 4.5 11 0.5 3-1 1.5-1.5-1-6-8-7.5-7.5-9-6-2.5-1-2 0.5-2 2-5.5 12-5 8.5-6.5 8-7 6-10.5 6.5-10.5 5-11 3-16 3zM17 90.5l-2-0.5-2-2-5-9-2-6.5-0.5-5.5 0-5 1-2 1 0.5 1 1.5 2 5 7 21.5-0.5 2z"/><path fill="rgb(49,49,49)" d="M166.5 108l-11.5 0.5-8-1-6-1.5-12-4.5-13.5-8.5-5.5-5.5-12.5-13.5-3.5-5.5-4-7.5-3-3.5-12-11.5-5.5-6-8.5-11-0.5-1.5 0.5-1 3.5-0.5 5.5 1 26 16 6 4.5 9 8.5 20.5 16.5 15 14 5 2.5 6 1.5 4.5 0.5 5-0.5 13.5-3.5 9.5-4 8-6 8.5-9 7-9 4-6 2-4.5 1-4-0.5-7.5 0-3 1.5-2.5 2.5-1.5 2.5 0 5.5 1 4 2 3.5 2.5 4.5 4 12.5 13.5 5.5 8 2.5 7 0 1.5-0.5 0.5-9-8.5-5-3.5-7.5-4.5-2.5-0.5-1.5 0-2 2.5-4.5 11.5-5.5 9.5-6.5 8-6.5 6-11 7-9.5 4-11 3.5-15.5 3zM13 84l-2-2-2-3.5-1.5-7 0-4 0.5-0.5 1 1 4 9.5 0.5 5 0 1.5-0.5 0z"/><path fill="rgb(53,53,53)" d="M163.5 107.5l-7 0-8.5-1-11-2.5-10.5-5-11-7-5.5-5.5-11.5-13-4-5.5-4-8-2.5-3-12-11.5-4.5-5-4.5-7.5-1-2 0.5-1.5 2.5-0.5 3.5 1.5 23.5 13.5 6 4.5 8.5 8 9 7 11.5 9.5 15 14.5 5.5 2.5 6.5 2 4.5 0 5-0.5 13.5-3 9.5-4.5 8.5-6 6-6.5 8-10 6.5-9.5 1.5-3.5 1-4-1.5-7.5 0.5-2.5 1-2.5 2-1 2.5-0.5 5 1 3.5 1.5 3.5 2.5 5.5 5 10.5 11.5 5 7 1.5 3.5-0.5 1-0.5 0-16.5-10.5-3.5-1.5-2.5 0.5-2 2-4 11.5-5.5 10.5-6.5 8-7 6-10.5 6.5-10 4.5-12.5 3.5-16 3z"/><path fill="rgb(56,56,56)" d="M165 106.5l-7.5 0.5-9-1-11-2.5-10-4.5-11.5-7-6-6-11-13-10-16-14.5-15.5-3-4.5-0.5-2 0-1.5 1.5 0 3 0.5 20.5 11 34.5 28.5 15.5 15 7 3 6 1.5 4.5 0 5.5-0.5 13.5-3.5 9.5-4.5 8-6 6-6.5 8-10 7-10.5 1.5-3.5 0.5-3.5-1.5-7 0-2.5 1-2 1.5-1.5 2 0 4.5 0.5 3.5 1.5 3.5 2 6.5 6 12 14 1 2 0 1-0.5 0.5-3.5-1.5-11-6.5-3-0.5-2.5 0.5-2 2-4 11.5-5 10.5-6 7.5-6.5 6-10.5 7-10 4.5-11 3.5-16.5 3z"/><path fill="rgb(59,59,59)" d="M166 105.5l-11.5 0.5-9-1-7-2-10.5-4.5-11-6.5-5.5-5.5-12-13.5-3.5-6-4.5-8.5-14-15.5-2-3 0-2 2-0.5 4.5 1.5 13.5 7 34.5 28 16 15.5 7 3 7.5 1.5 5.5 0 6.5-1 11.5-3.5 9.5-4.5 7.5-6 5.5-6 9-11.5 7-10.5 1.5-3.5 0-3-2-9 1-2 1-1 2.5-0.5 3.5 0.5 3.5 1 3 2 6.5 6 9 11 1 2-0.5 0.5-3-1-9-4.5-3 0-2.5 0.5-2 2.5-3 11.5-4.5 9.5-5.5 7.5-6.5 6-8.5 6-12 6-9.5 3-17.5 3.5z"/><path fill="rgb(62,62,62)" d="M161.5 105l-15-0.5-9.5-2.5-9.5-4-11-7-5.5-6-11-12.5-3.5-6-4-8-11-13-1.5-2.5 0-1.5 2-0.5 5.5 2 6 3 5.5 3.5 30.5 25 16.5 15.5 7 3.5 8.5 1.5 6 0 6-1 10.5-3.5 10-4.5 7.5-6 5.5-6.5 9.5-12 8-11.5 1-5-2.5-9 0.5-1.5 1-1 2.5-0.5 3 0 5.5 2.5 7 6 5 7 1.5 2.5-0.5 0.5-9.5-3-3.5 0-2.5 1-1.5 2.5-2.5 11.5-5.5 11-7.5 9.5-7.5 6-10.5 5.5-9 3.5-19 5-8.5 1z"/><path fill="rgb(65,65,65)" d="M161 104l-15-0.5-8.5-2-9.5-4-11-7-6.5-6.5-10.5-12.5-3.5-6-3.5-7.5-7.5-10.5-0.5-2.5 1.5-0.5 3.5 1 9 5 22.5 18 8 6.5 10.5 11 6 5 7.5 3.5 4 1.5 5.5 0.5 11-1.5 11-3.5 10-5 7-6 6-6.5 18.5-23.5 1-3.5-3.5-10 0-1.5 1-1.5 4-0.5 5 1.5 4.5 3.5 4 4.5 2 3.5 0 1.5-9.5-1-3 1-2 1.5-0.5 1.5-0.5 5.5-1 5.5-4 10-6 8.5-7 6.5-11 6.5-9.5 4-20 5-9.5 1.5z"/><path fill="rgb(69,69,69)" d="M241 46.5l-9.5-0.5-2-0.5-2-2-2-4-0.5-2 0.5-2 1.5-1 2.5 0 5.5 2 3.5 3 3.5 4 0.5 2-1.5 1zM163 102.5l-16 0.5-8.5-1.5-9.5-4-11-6.5-7-7.5-11-13.5-3.5-5.5-2.5-7-4.5-7.5 0-2 3 0.5 5 2.5 19 14 12.5 10.5 16.5 16 7.5 4 9.5 2.5 6-0.5 7.5-1 9.5-3.5 8.5-4 4.5-3.5 5-5 18.5-22 3-2.5 1 0 0.5 0.5 0.5 2.5-0.5 3.5-4 10.5-6 7.5-6 5.5-6.5 4-12.5 5.5-28.5 7z"/><path fill="rgb(72,72,72)" d="M240 45l-7 0-3-1-2-2-1.5-2.5-0.5-2 0.5-1.5 1.5-1 2 0 5 2 4.5 5 1 2-0.5 1zM151 101.5l-7 0.5-9-2.5-9.5-4.5-8.5-5.5-11.5-13-5.5-7.5-3.5-7-3-8.5 0-2 2 0 5 2.5 15.5 11 13 11 16 16 7 4.5 6.5 3.5 0 0.5-2 0.5-5.5 0.5zM198 90.5l-1 0 18-22 7-7 1.5-1 1 0.5 0 3.5-2.5 6.5-1.5 3-4 5-4 4.5-4.5 3-4 2-6 2z"/><path fill="rgb(75,75,75)" d="M236.5 44l-4 0-3-1.5-2.5-3.5 0-1.5 0.5-1 1.5-0.5 2 0 4 2 2.5 2.5 1 2-0.5 1-1.5 0.5zM146 101l-7-1-6-1.5-8.5-4.5-7.5-5-11.5-13-5-7.5-4-8.5-0.5-3 0.5-2 2.5-0.5 3.5 2 13.5 9.5 12.5 10.5 14 14 8 7 0.5 1.5-1 1-4 1zM207.5 84.5l-1.5 0.5-0.5-1 2.5-4.5 7.5-10 3.5-3 2-0.5 0.5 1-0.5 2.5-2 4.5-6.5 7.5-5 3z"/><path fill="rgb(78,78,78)" d="M236 42.5l-3 0.5-2.5-1-2-2.5 0-2 2-0.5 3.5 1 2.5 3 0 1-0.5 0.5zM145 100l-6.5-0.5-6-2-8.5-4.5-7-4.5-11-13-4.5-6-3.5-7.5-0.5-3.5 0.5-1.5 1-0.5 2.5 0.5 10.5 6.5 5 3.5 11 9.5 19.5 20 1 1.5-0.5 1-3 1z"/><path fill="rgb(81,81,81)" d="M233.5 41.5l-3-1-0.5-1 0-1 1.5-0.5 2 1 1 1.5 0 0.5-1 0.5zM142 99l-4.5-0.5-6-2-7-3.5-7-5-11-12.5-4-5.5-3-6.5-0.5-2.5 0.5-2 1.5-0.5 1.5 0.5 10 5.5 15.5 12.5 17.5 19 0.5 1-0.5 1-3.5 1z"/><path fill="rgb(84,84,84)" d="M141.5 98l-4.5 0-6-2-7.5-4-5.5-4-11.5-13-3-5-2.5-5.5-0.5-2.5 0.5-1.5 2.5 0 9 5 15.5 12 14.5 16.5 1 2.5-0.5 1-1.5 0.5z"/><path fill="rgb(88,88,88)" d="M140 97l-3.5 0-6-2-7-3.5-5.5-4-7-8-6.5-8.5-2.5-5 0-2 0.5-1.5 1-0.5 2 0.5 7 3.5 15 12 13 15 1 3-1.5 1z"/><path fill="rgb(92,92,92)" d="M138.5 96l-3 0-5.5-1.5-6-3.5-5.5-3.5-12.5-15-2.5-5.5 0-2 0-1 1.5-0.5 2 0.5 6 3 14 11 12 14 1 3-1.5 1z"/><path fill="rgb(99,99,99)" d="M135.5 94l-3 0-4-1.5-9.5-5.5-10.5-13.5-2.5-4.5 0-1.5 0.5-1 2.5 0 4.5 2 13 10 9.5 11.5 1 3-1.5 1z"/><path fill="rgb(105,105,105)" d="M133 91.5l-2 0.5-3-1-8.5-4.5-9-12-1.5-3 0-2 2-0.5 3 1.5 12 8.5 6.5 9 1 2.5-0.5 1z"/><path fill="rgb(112,112,112)" d="M129.5 89l-4-0.5-5.5-3-6-8-1-3-0.5-1.5 1.5 0 3 1 8.5 6 4.5 7 0.5 1.5-1 0.5z"/><path fill="rgb(118,118,118)" d="M126.5 86.5l-2.5 0-3-1.5-3-4.5-1-3 1-0.5 1.5 0.5 5 3 2.5 4 0 1.5-0.5 0.5z"/><path fill="rgb(124,124,124)" d="M123.5 83.5l-1.5 0 0-1.5 1 0 0.5 1.5z"/></g><path fill="none" stroke="#fff" stroke-opacity="0.8" stroke-width="0.7" d="M505.5 184.8l0.6-0.1 0.3-0.2-8.3-3.4-4.8-2.4-5.3-3.1-4.8-3.3-4.3-3.6-4.4-4.4-3.3-4-3.3-4.8-2.8-4.9-2.2-5.1-1.8-5.2-1.3-5.9-0.7-5.4-0.1-6 0.3-5.4 0.9-5.4 1.6-6 2-5.3 2.5-5.2 2.9-5 3.6-5 4-4.8 4.7-4.6 4.6-3.8 5.2-3.6 5.8-3.4 5.5-2.7 6.1-2.4 7-2.1 6.4-1.4 5.5-0.7 5.4-0.2M505.5 184.8l-9.2-2.2-7.3-2.2-6.7-2.4-7.1-3.2-6.4-3.5-6.5-4.2-5.6-4.5-4.9-4.7-4.2-4.9-3.4-5-2.8-5.1-2.4-5.9-1.3-5.4-0.8-6 0-6.1 0.9-6 1.7-6.1 2.2-5.3 3.2-5.8 3.6-5.1 4.4-5 5-4.8 5.8-4.7 6.6-4.4 6.6-3.6 7.3-3.4 8.3-3.1 8-2.4 9.1-2.1 10.4-1.6 8.3-0.5 4.7 0.4M505.5 184.8l-10-1.5-10.4-2.2-9.2-2.5-9.5-3.2-8.4-3.5-8.5-4.2-7.4-4.4-6.4-4.7-5.5-4.9-5.2-5.6-3.7-5.2-3.2-5.9-1.9-5.3-1.2-6.1-0.2-6.1 0.8-6 1.8-6.1 2.8-5.9 3.9-5.9 4.3-5.1 5.9-5.6 6.2-4.8 7.2-4.6 8.2-4.3 8.1-3.6 9.2-3.4 10.4-3.1 10.2-2.3 14.3-2.4 12.8-1.2 8.7-0.2 1.8 0.3 1.6 0.7M560.5 184.8l11.2-1.6 9.6-1.8 10.1-2.5 10.4-3.1 9.1-3.5 9.3-4.2 8-4.4 7-4.7 6.1-4.8 5.6-5.7 4.1-5.1 3.5-5.9 2.5-6 1.3-6.1 0.3-6.1-0.8-6-1.9-6.1-2.9-5.9-4.1-5.9-4.6-5.1-6.2-5.6-6.6-4.8-7.5-4.5-8.7-4.4-9.9-4.1-9.9-3.3-11.3-3-11.1-2.4-13.4-1.9-14.6-1.3-9.3-0.2-1.6 0.2-1.2 1M560.5 184.8l10-2 8.2-2.2 7.5-2.5 7.9-3.2 7-3.5 6.3-3.7 6.3-4.4 5.4-4.7 4.7-4.8 4.4-5.7 3.1-5.1 2.6-5.9 1.6-5.3 0.9-6.1 0.1-6.1-0.8-6-1.8-6.1-2.6-5.9-3.5-5.9-3.9-5.1-4.7-4.9-5.4-4.8-6.3-4.7-7.1-4.3-7.1-3.7-8-3.3-9-3.2-8.8-2.3-10-2.1-11.6-1.5-7.4-0.4-2.6 0.1-2.9 0.5M560.5 184.8l-0.1-0.1 0.6-0.4 7.6-2.5 6.5-2.7 5.1-2.6 5.6-3.3 4.9-3.5 5-4.4 3.9-3.9 3.9-4.8 3.2-4.9 2.7-5 2.1-5.2 1.7-5.9 0.9-5.3 0.3-6-0.3-6.1-0.8-5.4-1.7-6-2-5.3-2.9-5.8-3.3-5.1-3.8-5-4.5-4.8-5.1-4.5-5-3.9-5.6-3.6-6.3-3.4-6.1-2.7-6.7-2.4-7.6-2.1-7-1.4-7.4-0.8-5.3 0M560.5 184.8l-2.8 0-1.4-0.3 0.5-0.6 5.8-3.1 4.3-2.8 4-3.2 4.1-3.9 3.7-4.2 3.1-4.5 2.8-4.7 2.5-5.5 1.7-4.4 1.4-5.1 1.1-5.3 0.7-5.3 0.3-5.3-0.2-5.4-0.5-5.4-0.9-5.4-1.3-5.3-1.7-5.3-2.2-5.1-2.5-5.1-3-4.9-3-4.2-3.4-4-3.7-3.8-4.2-3.7-4-2.9-4.4-2.7-4.9-2.5-4.6-1.9-5.2-1.5-4.6-1-5-0.5M560.5 184.8l-9.1 0.4-2.3-0.1-0.5-0.1-0.4-0.3 4.7-4.4 2.2-2.5 2.5-3.2 2.4-4 2.2-4.3 2.1-5.1 1.6-4.8 1.5-5.5 1.1-5.7 0.9-5.9 0.5-5.9 0.1-6.1-0.1-6.7-0.5-6.1-0.8-6-1.1-6-2.4-9.1-3.2-8.7-3.8-7.6-4.2-6.6-4.7-5.4-5.2-4.3-5.1-2.9-3.1-1.2-2.8-0.7M560.5 184.8l-16.1 1-4.3 0-0.8-0.1-0.4-0.3 2.5-5.7 1.8-6 1.7-7.9 1.3-8.7 0.9-10 0.6-10.4 0.1-11.4-0.3-10.8-0.7-10.7-1.1-10.4-1.4-9.4-1.8-8.7-2-7-2.3-5.6-2.4-4.1-1.3-1.4-1.5-1.2M505.5 184.8l17.1 1.1 6.4 0.1 0.8-0.1 0.3-0.3-1.3-5.8-0.9-5.9-1.5-16.6-0.7-20.4 0-22.2 0.9-21.2 1.6-18.1 1-6.9 1.2-5.7 1.2-4.1 1.4-2.7M505.5 184.8l12.5 0.6 2.2-0.1 0.4-0.1 0.2-0.4-3.5-4.1-2.2-2.9-2.1-3.8-2-4-1.9-4.9-1.6-5.2-1.3-5.4-1.1-5.6-1.4-12.3-0.3-6.7 0-6.7 0.9-12.8 2.1-12.6 2-8.3 2.5-7.3 3-6.9 3.2-5.9 3.6-4.9 3.8-3.9 4.3-2.9 4.2-1.7M505.5 184.8l4.9 0.1 1.4-0.2 0.3-0.3-6.4-4.3-3.7-2.9-3.8-3.7-3.4-4.1-3.4-4.9-2.8-5.1-2.4-5.4-1.9-5.7-1.2-4.4-1-5.3-0.6-4.6-0.3-5.3 0-5.4 0.3-4.7 0.6-5.4 0.9-4.7 1.3-5.3 1.7-5.2 2-5.2 2.1-4.4 2.4-4.2 2.6-4.2 3.1-4 3.3-3.8 3.8-3.6 3.6-2.9 3.9-2.7 3.7-2.1 4.1-1.9 3.7-1.3 4.1-1 4.6-0.7M480.1 169.7l-23-2.1-18-0.6M626.7 167l-10.5 0.2-11.7 0.8-47.8 4.8-10.4 0.8-9.2 0.3-10.7 0-11.6-0.7-12.4-1.1-22.3-2.4M463.1 146.1l-16.5-1.6-14-1-12.6-0.6-12.1-0.2M657.8 142.7l-14.1 0.3-14.8 0.8-16.1 1.4-45.8 4.5-14.3 1-13.5 0.5-15.5-0.1-16.3-0.8-17.1-1.4-27.2-2.8M459.1 119.6l-17.6-1.7-14.7-1.1-13.6-0.7-12.9-0.2M665.3 115.9l-15.1 0.3-15.4 0.9-16.6 1.4-47.5 4.7-15.5 1.1-14.8 0.5-17 0-17.8-0.8-18.5-1.5-28-2.9M467.7 93.2l-16-1.7-12.5-1.1-11.9-0.6-11.8-0.2M650.2 89.6l-13.2 0.3-13.4 0.7-13.8 1.3-42.1 4.6-14.1 1-13.6 0.6-15.6-0.1-16.2-0.7-16.7-1.5-23.8-2.6M489.8 69.9l-18.3-2.4-7.6-0.5-8.2-0.1M610 66.9l-8.6 0.1-8.2 0.6-35 4.8-10.1 0.9-9.6 0.4-11.4 0-11.5-0.6-11.5-1.2-14.3-2"/></g><g clip-path="url(#cR1)"><g transform="translate(394,190)" filter="url(#fR)"><rect width="278" height="144" fill="rgb(11,11,11)"/><path fill="rgb(14,14,14)" d="M169.5 143l-19 0-35.5-4-15-0.5-100-0.5-0-138 278-0 0 138-54 0.5-54.5 4.5z"/><path fill="rgb(18,18,18)" d="M162.5 137l-9.5-0.5-10.5-1-35-6.5-13.5-1.5-94-0.5-0-127 278-0 0 127-32 0-15 1-13 1.5-32 5.5-23.5 2z"/><path fill="rgb(21,21,21)" d="M168 131.5l-14.5 0-17.5-2.5-12.5-3-24-8-12.5-2.5-12-0.5-24.5 0-26.5 2.5-24-2.5-0-115 278-0 0 115-27 0.5-15.5 1-10 2-37 10.5-20.5 2.5z"/><path fill="rgb(24,24,24)" d="M169 127l-8 0.5-8-0.5-12.5-1.5-8-2-15-5.5-23.5-11.5-8-2.5-7.5-1.5-15-1-14 0.5-6 1.5-12.5 5.5-6.5 1.5-6-1-18.5-6-0-103.5 278-0 0 103.5-9.5 0.5-16.5-1-8.5 1-15.5 5-21.5 9-11 3.5-12.5 3.5-14 2z"/><path fill="rgb(27,27,27)" d="M166 124l-9 0-11.5-1.5-9-1.5-8-2.5-14-6.5-22-14-11.5-6.5-11-4.5-9.5-2-11.5-0.5-4.5 0.5-3 1.5-2.5 1.5-2 2.5-3.5 10-3.5 4.5-2.5 1.5-3 0.5-3-0.5-3-1-18.5-12.5 0-72 6-3.5 11.5-8 7-3 6.5-1.5 28-1 8.5 0.5 8.5 2 28.5 10 21.5 6 12 2 9.5 0.5 27 0 9.5-1 9.5-2.5 20-9 6.5-2 7-0.5 7.5 0.5 9.5 2.5 24.5 9.5 9.5 2.5 0 69.5-5 1.5-4.5 0.5-4-1-10.5-4-3.5 0-4 0.5-9 3.5-28.5 16-9.5 4.5-17 5.5-16.5 2.5z"/><path fill="rgb(30,30,30)" d="M168 121.5l-7 0.5-6-0.5-9.5-1.5-8.5-2-7-2.5-7.5-3.5-13.5-8-20.5-16-12-10.5-3.5-4.5-2-5-2.5-4-6-6.5-7-10.5-2.5-2.5-3-2-23-7.5-4.5-3-2.5-3.5-1-4 0.5-4 2-4 4-4 5-1 26.5 0 10.5 1.5 7.5 2.5 14 8.5 18.5 7.5 16.5 9.5 7.5 3.5 9.5 4 7 1 22-2 16.5 0.5 11-2.5 3.5-2 2.5-2 5.5-12 2.5-3.5 2.5-2.5 3.5-2 3.5-1.5 4-0.5 4 0 6 1 5 2 9.5 5.5 4.5 4 7 7 9.5 11.5 4 7 3.5 7.5 0 21.5-1.5 3-2 2-3.5 1.5-4-0.5-3-2-4.5-6-3-2.5-5-2-5 0.5-5 2.5-20.5 16-19 12.5-8.5 3.5-10.5 3.5-15 3zM26 104.5l-2.5 0.5-2.5-0.5-7.5-5.5-5-5-8.5-11 0-37 1.5-0.5 5-1 5 0.5 3.5 2.5 3 4 7 21 1 11.5 1 4.5 3.5 8.5 0 2.5-0.5 2-2 2-2 1z"/><path fill="rgb(33,33,33)" d="M166 120l-11.5 0-15.5-3.5-12-4.5-12-7.5-13.5-11-9-7.5-5.5-6-5.5-7-4.5-11.5-19-20.5-5.5-3-19.5-5.5-5.5-2.5-2-1-1.5-2.5-1-3 0-3 1.5-2.5 3-2.5 4-1 25-0.5 10.5 2 7 3 13.5 9 15 7.5 16.5 10 16 8.5 6.5 3 10.5 1 19-2 19 0.5 7-1 5.5-2 4-2.5 3-4 1.5-3.5 2-10.5 3-5 2.5-2 3-2 3.5-0.5 4 0 9 3 7.5 4.5 4 4 11.5 12.5 5.5 7 5.5 11 3 9 0.5 5 0 6.5-1 2.5-1.5 1.5-3.5 1-3-1-1.5-2-4.5-8.5-4-4.5-6-5-2.5-1-2.5 0-3.5 2.5-11.5 14-7.5 8-7 6-10.5 7.5-9 5-12 4.5-8.5 2-10 1.5zM25.5 103l-2 0.5-2-0.5-9-7.5-5.5-6.5-4.5-8.5-2.5-8 0-21 3-2.5 3-0.5 3 0.5 2.5 2 2 2.5 8 28.5 7 15.5-0.5 3.5-2.5 2z"/><path fill="rgb(37,37,37)" d="M168 118.5l-11 0.5-15-3-10.5-3.5-11-6.5-13-10.5-13.5-13-7.5-9-6.5-13.5-20.5-21-4.5-2.5-16.5-5-10-4.5-1.5-1.5-1-2 0-2 1-2 2-1.5 3-1 20-1 8.5 0.5 7.5 1.5 6 3 10 7.5 16.5 9 16.5 11.5 17.5 10 6.5 3 11 3 4 0 17-2.5 19.5 0.5 5-1 4-2 6.5-4.5 4.5-6 2-5.5 1-9.5 2-4.5 3-3 4.5-1.5 3.5 0.5 5.5 1 3.5 1.5 4 3 5.5 4.5 12.5 13.5 5.5 7 5 9.5 3 8 0.5 5 0 5-0.5 3-1 1.5-2.5 0.5-2-1-6.5-11-9-11-4.5-3-2-0.5-2 0-1.5 0.5-2 2.5-7.5 12.5-6 8.5-6.5 7-7.5 6.5-10.5 7-9 4.5-12.5 4.5-12.5 2.5zM25 101.5l-2 0.5-2-1.5-8-6-4-5.5-4.5-8-3-12-1.5-12.5 1.5-3.5 2.5-2 2-0.5 2.5 0.5 1.5 1 1.5 2 8 28 7.5 16-0.5 2.5-1.5 1z"/><path fill="rgb(40,40,40)" d="M167.5 117.5l-11 0-14-2.5-10.5-4-10-6-11-9-15.5-15-6.5-8-4.5-9.5-3-4.5-11-10.5-10-11-5-3-14-4-6.5-3-4.5-3.5-0.5-1.5 0.5-1 2.5-1.5 3.5-1 16-1.5 8.5 0.5 7.5 2 6 3 9.5 7 17 10 15.5 11.5 18.5 12.5 14 6 5.5 1.5 6 0 13-2 17-0.5 4.5-1 5.5-3 7.5-6 5-6.5 3-7 1-10 1-3.5 2.5-3.5 4-1.5 3.5 0 5.5 1.5 7 4 5.5 5 12.5 13 5.5 7 5 9 2.5 7.5 0.5 8-0.5 2.5-1 1.5-1 0.5-1.5-1.5-6.5-10-8.5-10.5-6.5-4.5-2.5-1-2 0-1.5 0.5-1.5 2-7 13.5-6 9.5-6.5 7.5-7 6.5-10.5 7.5-9.5 4.5-12.5 4.5-12.5 2.5zM23.5 99.5l-4.5-2-6-5-3.5-5-3.5-7-3-10.5-1-10.5 0-4.5 1-1.5 1.5-1 2-0.5 1.5 0.5 2 2.5 8 26.5 6.5 15 0 2-1 1z"/><path fill="rgb(43,43,43)" d="M162 117l-10-1-12.5-2.5-9-4-8.5-5.5-12-10.5-13.5-13.5-5.5-7.5-5-9-3.5-5-11.5-11-9.5-10.5-5-3.5-12.5-4.5-4-2-3-2.5 0.5-2 1.5-1 4-1 12.5-1.5 8 1 6 2 5 2.5 8 6 20 12 13 10.5 20 14.5 14.5 8 7 2 6.5 0 8.5-2 18-2.5 5.5-2 5.5-3.5 8.5-7.5 5.5-7.5 2-4 1-3.5 0-9 0.5-3 2.5-3.5 3.5-1.5 3 0 6 2 7 4 17.5 17.5 6.5 8.5 3.5 7 2 6 0.5 5.5-1 3-1 0-1.5-1-10-13.5-4.5-4.5-7.5-5-2.5-1-2 0-2.5 2.5-6.5 14.5-6.5 10-6.5 8-7.5 6.5-11.5 8-11 5.5-12.5 3.5-14 2zM21 96.5l-3.5-1.5-4.5-4-3.5-5-3-6.5-2-7.5-1-9-0.5-7 1-1.5 1-1 2 0 1.5 2 8.5 26.5 4.5 11.5 0 2-0.5 1z"/><path fill="rgb(46,46,46)" d="M165.5 116l-10.5 0-13.5-3-9.5-4-9.5-6-11.5-10-13.5-14-5.5-7-5.5-9.5-3-4.5-12-11.5-9.5-11-4-3-12.5-5.5-2-2 0.5-1.5 5-2 8-1 7 0.5 6.5 2.5 11 7.5 20.5 12 13 11 20.5 16 13 8 8 2.5 7.5 0 21.5-4 7.5-2 8-5 9-8.5 6.5-8.5 2-4 1-4-0.5-8 0.5-3 1.5-3 3.5-1.5 2.5 0 5.5 1.5 4 1.5 3.5 2.5 17.5 17.5 5.5 7.5 3 6 2 6 0.5 3.5-1 1.5-2.5-1.5-8.5-10-4-4-9-6-2-0.5-2 0-2.5 2.5-6.5 15-5 9.5-6.5 8-6.5 6.5-11.5 8.5-9.5 4.5-13 5-13 2zM18.5 93l-2-0.5-2.5-2-3.5-5-3-6.5-3-12.5 0.5-7.5 1-3 2 2.5 3 7.5 7.5 23.5 0.5 2.5-0.5 1z"/><path fill="rgb(49,49,49)" d="M162.5 115.5l-10.5-1-12.5-3-9.5-4-9.5-7-10.5-9.5-13.5-14.5-4.5-5.5-5-9.5-4-5-10.5-10.5-11-12.5-11-6.5-1-1.5 0.5-1 3.5-2 6.5-0.5 6 1 5.5 2.5 9.5 6.5 15.5 8.5 5.5 3.5 12 10.5 22 17.5 12 7.5 8.5 2.5 8.5 0 21-4 7.5-2.5 7.5-4.5 10.5-9.5 6.5-9 2-4 1-4-1.5-7.5 0.5-3 1.5-3 3-1.5 2.5 0 5.5 1.5 3.5 1.5 3.5 2.5 5 4.5 12 12.5 5.5 8 3.5 7.5 0.5 2.5-0.5 1.5-1 0-1.5-1-7.5-8-5.5-4.5-8-4.5-2-0.5-2 0.5-2 2.5-6 14.5-5 10-6.5 8.5-7 6.5-11 8-11 6-11.5 3.5-8 2-7.5 0.5zM16 88.5l-1 0-2.5-2.5-4-7-2.5-11 0.5-3.5 0.5-1.5 1 0.5 2 3.5 3.5 11 2.5 10.5z"/><path fill="rgb(53,53,53)" d="M167 114.5l-11 0-14.5-2.5-9.5-4.5-10.5-7-10.5-9.5-13-13.5-4.5-6-5.5-10-3.5-4.5-11.5-11.5-11-13.5-6-4.5-0.5-1 0-1 2.5-1.5 5 0 4.5 1 5 2 7.5 5 16 9 5.5 3.5 30 25.5 5.5 4 11 7 8.5 2 8 0.5 21-4 8.5-3 8-5 10.5-10 4-4.5 3-4.5 1.5-4 1-4-0.5-3-1-4.5 0-2.5 1.5-3 2.5-1 2.5 0 5 1 6.5 3.5 5.5 5 10 11 6 7 2.5 5.5 0 3-1.5-0.5-7.5-6.5-10-6.5-4-1.5-2.5 0.5-1.5 2-6 15.5-5 9.5-5.5 8-6.5 7-10.5 8-9 5-13.5 5-12.5 2.5zM12 80.5l-0.5 0-1.5-2-1-4 0.5-1.5 2.5 4.5 0 3z"/><path fill="rgb(56,56,56)" d="M166 114l-5 0.5-6.5-0.5-14-3-10-5-10.5-7.5-9.5-8.5-13.5-15-4-5.5-6-10.5-16.5-18-9.5-12.5 0-2 1-0.5 3-0.5 5 1.5 9.5 6 17.5 9 6.5 5 9.5 8.5 22.5 18.5 12 7.5 9 2.5 8.5 0.5 20.5-4 9-3 8-5 11.5-11 3.5-4.5 3.5-5 1.5-3.5 0.5-4-1.5-7.5 0-2.5 1-2.5 2-1 2.5 0 4.5 1 6.5 3.5 6 5.5 13.5 15.5 1.5 3 0 1.5-1.5 0-15.5-9.5-3.5-1-2.5 0.5-1.5 2-5 14.5-5 10.5-5.5 8-7 7.5-10 7.5-10 6-13 4.5-13 2.5z"/><path fill="rgb(59,59,59)" d="M165.5 113.5l-11 0-8.5-1.5-6-2-10-4.5-10.5-8-9-8.5-14.5-15.5-9.5-16-12-12.5-5-6.5-4.5-7-0.5-2 0.5-1 2.5-0.5 4 1 25 13.5 6.5 4.5 32 27.5 12.5 8 9.5 2.5 8.5 0 21-4 8.5-3 8-5 12-11.5 4-4.5 3.5-5.5 1.5-3.5 0-3.5-2-7.5 0-2 1-2 1.5-1 3 0 3.5 0.5 3.5 1.5 3 2 6 5.5 10.5 12.5 1 2 0 1-2.5-1-12-6-3.5-0.5-2.5 0.5-1.5 2.5-4.5 14.5-5 10.5-5 8-7 7.5-10 8-9.5 5.5-14 5-12.5 2z"/><path fill="rgb(62,62,62)" d="M165 113l-11 0-14-3.5-10-4.5-10-7.5-10-9.5-14-15.5-8.5-14.5-12.5-13.5-4-6-3-5.5-0.5-1.5 0.5-1 1.5-0.5 3 1 24 12 6.5 5 28.5 24.5 5.5 4 10.5 6.5 6 2 5.5 1 7.5-0.5 21-4 8-3 9-5.5 7.5-7 5.5-6 4-5 3-5 1-5-3-9.5 0.5-1.5 1.5-1.5 4 0 5.5 2 4 2.5 5 4.5 6.5 8.5 1.5 3-2 0-6-3-4-1.5-3.5 0-2.5 1-1.5 2.5-3.5 14.5-4.5 9.5-5 8.5-7.5 8-10 8-9.5 5.5-13.5 4.5-13 2.5z"/><path fill="rgb(65,65,65)" d="M165 112.5l-11 0-13.5-3-10-5-10-7-10-9.5-14-15.5-8.5-14.5-14-16.5-3-5.5-0.5-1.5 0.5-1.5 1-0.5 2.5 1 11 4.5 11 6 8 5.5 26.5 23.5 6.5 4.5 10.5 6.5 5.5 1.5 6 1 7.5 0 13.5-2.5 8-2 7.5-3 9-5.5 8.5-8 14-15 0.5-3-4.5-11 0.5-2 1-1 3.5-0.5 5 1.5 4 2.5 4.5 4.5 4 5.5 0.5 2.5-11-2.5-3.5 0.5-3 2-0.5 0.5 0.5 4-0.5 5.5-1.5 6.5-2.5 6-6 11-7.5 9-10 8-9 5-13.5 5-13.5 2.5z"/><path fill="rgb(69,69,69)" d="M243 47l-13.5-1.5-2-2-2-4-1-2.5 0.5-2 1.5-1 3 0 3 0.5 3 2 3 2.5 3.5 4 1.5 3-0.5 1zM165.5 112l-11.5 0-13.5-3-10-5-9.5-6.5-10-9.5-14-16-8.5-14.5-13-15.5-2.5-4.5 0.5-2 2 0 5.5 1.5 16 7.5 7.5 5.5 26 23 5.5 4 11 7 5.5 2 5 1 7.5 0 14.5-2.5 9.5-2 6.5-2.5 9-5.5 18.5-16.5 2-1 1 0 0.5 2.5 0 4.5-2 6-2 5.5-5.5 9-7 7.5-9 7.5-9 5-13.5 5-13 2.5z"/><path fill="rgb(72,72,72)" d="M241 45.5l-8.5-0.5-3-1-3.5-5-0.5-2 0.5-1.5 1.5-1 2 0 5.5 2 5.5 5.5 1 2.5-0.5 1zM166 111.5l-11 0-13.5-2.5-9.5-4.5-9.5-6.5-10.5-9.5-14.5-16-3-4.5-5.5-10.5-12-14.5-1.5-3 0-2 2-1 3.5 1 7 2.5 8.5 4.5 8 5.5 26 23 5.5 4 11 7 10 3 5.5 0.5 5-0.5 15-3 11-3 5.5-2.5 6-4 16-13.5 2-0.5 1.5 0.5 0.5 2.5-1 4-4 10.5-5.5 8-7 7-8.5 6.5-8 4.5-12.5 4.5-12.5 2.5z"/><path fill="rgb(75,75,75)" d="M239 44l-5 0-4-1-3-4-0.5-1.5 0.5-1.5 1.5-0.5 2 0 4 1.5 4.5 4.5 0.5 2-0.5 0.5zM166.5 111l-10.5 0-13.5-2-9.5-4-9.5-6.5-11-10-14.5-16-3.5-5-5-10-11-14-1-2.5 0-1.5 2-1 4 1 13 6 7.5 5.5 26.5 23 5.5 4 11 7 10 3 5.5 0.5 4.5-0.5 15-2.5 10.5-3 4.5-2 6.5-3.5 15.5-12 2-1 1.5 0 0.5 2.5-0.5 3-3.5 9.5-5.5 8-7 7-8.5 6.5-8 4-12 4.5-11.5 2z"/><path fill="rgb(78,78,78)" d="M237 43l-3.5 0-3-1-2.5-2.5-0.5-1.5 0.5-1 2.5-1 3.5 1.5 3.5 3.5 0 1.5-0.5 0.5zM160.5 111l-12.5-1.5-9.5-2.5-9-4.5-9.5-7.5-9-8.5-13.5-15-2.5-4.5-4.5-9-10.5-13.5-1-2.5 0.5-1.5 2-0.5 4.5 1 6.5 3 5.5 3 6.5 4.5 30 26 11.5 7.5 10 3.5 5 0.5 5.5-0.5 15-2.5 9.5-2.5 5.5-2 5.5-3 15.5-11 2.5-1 1 1 0 2-0.5 4.5-4.5 8.5-6.5 8-9 7.5-8.5 5-11.5 4.5-10.5 2.5-9.5 1z"/><path fill="rgb(81,81,81)" d="M234.5 42l-2.5-0.5-2-1-1-1.5 0.5-1.5 2-0.5 2.5 1.5 2 2.5-0.5 1-1 0zM163 110.5l-11-0.5-12-2.5-9.5-5-9-6.5-9.5-9-14.5-16-2.5-4.5-4-8-9-13-1-2.5 0-1 2-0.5 4 1 6 2 5 3 6.5 4.5 30 26 11.5 7.5 9.5 3 5 1 5.5-0.5 15-2.5 8.5-2 6-2 5-2.5 15-10 2.5-0.5 1 0 0.5 2.5-0.5 3-3.5 7.5-6 7.5-9 7.5-8 5-10 4-10 2.5-9.5 1.5z"/><path fill="rgb(84,84,84)" d="M233 40l-1 0-0.5-1 1 0 0.5 1zM164 110l-11 0-12.5-3-9-4-9.5-7-9.5-9-14.5-16-3-4.5-3.5-8-8-12-0.5-1.5 0-1.5 2.5-0.5 5 1 8 4 6 4.5 30 26 11.5 7.5 9 3 5.5 1 5-0.5 14.5-2 8-2 11-4 15-9.5 2-0.5 1.5 0.5 0.5 2-1 3-4 7.5-5.5 6.5-8 6.5-7 4.5-9.5 4-9 2.5-10 1.5z"/><path fill="rgb(88,88,88)" d="M165 109.5l-10.5 0-13-2.5-9-4-9.5-6.5-10.5-9.5-14.5-16.5-3-5-3-7-7-11.5-0.5-1.5 0.5-1 1.5-0.5 4.5 1 7.5 3.5 19 15.5 12 11 5.5 4 10.5 7 9 3.5 5 0.5 5 0.5 19.5-3.5 13.5-4.5 15.5-8.5 2-0.5 1 1 0 2-0.5 2.5-4 7-5.5 6-8 6-6.5 4-8.5 3.5-8.5 2.5-9.5 1.5z"/><path fill="rgb(92,92,92)" d="M166 109l-10.5 0.5-13-2.5-8.5-3.5-9.5-6-11-10-15-17-3-4.5-3.5-8-5-8.5-0.5-3.5 2-0.5 2.5 0 7.5 3.5 19 15 12 11 5 4 11 7.5 9 3 5 1 5 0 18.5-3 13.5-4 15-7 1.5-0.5 1 0.5 0.5 1.5-1 3-4 6-5 5.5-7.5 6-5.5 3-9.5 4-7.5 2-8.5 1.5z"/><path fill="rgb(99,99,99)" d="M163 108.5l-10.5 0-11.5-2.5-9-4-9-6.5-10-9-14-16.5-3-4.5-3-8-3.5-6.5-0.5-3 1-0.5 2.5 0 6.5 3 18 14 17 15 11 7.5 8.5 3 8 1.5 7.5-0.5 12.5-2 9-2.5 17.5-6.5 1.5 0 1 1-1 3.5-3.5 5-5.5 5-7 5-6.5 3-9.5 3.5-14.5 2.5z"/><path fill="rgb(105,105,105)" d="M165.5 107.5l-10.5 0.5-12-2-9-3.5-9-6-10.5-9.5-15-17-2.5-4-2-4.5-3.5-9.5 0-2.5 1.5-0.5 2 0.5 7 4 15 11.5 17 15 10.5 7 8.5 4 8 1.5 6-0.5 17.5-3 19.5-5.5 2 0 0.5 0.5-0.5 3-3 4-5 4.5-6.5 4-14 5.5-12 2.5z"/><path fill="rgb(112,112,112)" d="M162.5 107l-10.5 0-11-2-9-4-8.5-6-9.5-9-14.5-16.5-2-4-2-4.5-2-7 0-2.5 1-0.5 2 0.5 6 3 14 11 12 10.5 6 5 10 7 8.5 3.5 7.5 1.5 5.5 0 16-2.5 17.5-4 2 0 1 0.5-0.5 2-2.5 3.5-5 4-4 2.5-14 5.5-14 2.5z"/><path fill="rgb(118,118,118)" d="M164 106l-9.5 0.5-12-1.5-8-3.5-9-5.5-10-9-15-17-2.5-4-2-5-1-4 0.5-3.5 1-0.5 2.5 0.5 4 2 13 10 18.5 16 10 7 8.5 4 6.5 1.5 5 0 29-4.5 3.5 0 1 0.5-0.5 2-2.5 2.5-6.5 4.5-12.5 4.5-12 2.5z"/><path fill="rgb(124,124,124)" d="M160.5 105.5l-12.5-0.5-7.5-1.5-8-3.5-8-5.5-9.5-8.5-14-16-2.5-4-1.5-4-0.5-4 0-2.5 1.5-1 1.5 0.5 4 1.5 12.5 9.5 18.5 16 10 7 8.5 4 6.5 1.5 4.5 0.5 24.5-3.5 3.5 0 1.5 1-0.5 1.5-2.5 2.5-8.5 4-10.5 3.5-11 1.5z"/><path fill="rgb(131,131,131)" d="M161 104.5l-8.5 0.5-11-1.5-8-3.5-8-5-9.5-8.5-14-16-2.5-4-1.5-3.5-1-4 1-2.5 1-0.5 1.5 0 4 2 11 8 19 16.5 9.5 7 8.5 4 10.5 2.5 21-2 4 0.5-0.5 1-2.5 2-8 3.5-8 2.5-8 1z"/><path fill="rgb(137,137,137)" d="M156.5 104l-9.5 0-7-1.5-8-4-8-5.5-8.5-7.5-12.5-15-4-7-1-3.5 0.5-2 1-0.5 1.5 0 5 2.5 9 6.5 18.5 16 9.5 7 6.5 3.5 4.5 2 8 2.5 13.5-1 3 1-2.5 2-3.5 1.5-6.5 1.5-9.5 1.5z"/><path fill="rgb(143,143,143)" d="M156 103l-9 0-6.5-1-8.5-4-7.5-5-8-7-12.5-14.5-4-7-1-3.5 1-2 1.5-0.5 2.5 1 9.5 6 17 15 12.5 9.5 9.5 5 8 3.5 2 1.5 0 0.5-2.5 1.5-4 1z"/><path fill="rgb(150,150,150)" d="M149 102.5l-6.5-0.5-6.5-2-7-4-8.5-7-6.5-6.5-10-12-3.5-6-0.5-2.5 0.5-1.5 1.5-0.5 2 0.5 9 5.5 16.5 14 10.5 8.5 16 9.5 1.5 2-0.5 1-1.5 0.5-6.5 1z"/><path fill="rgb(156,156,156)" d="M149.5 101.5l-6 0-6.5-2-7.5-4-7.5-5.5-6-6-10.5-12-3.5-6.5-1-2.5 0.5-1.5 1.5-0.5 2 0.5 8.5 5.5 18.5 15.5 10 8 9 6 2 2 0.5 1.5-4 1.5z"/><path fill="rgb(163,163,163)" d="M148.5 100.5l-5.5 0.5-6-2-7.5-4-6.5-4.5-6-5.5-9.5-11.5-4.5-6.5-0.5-2.5 0-1.5 1-0.5 2 0.5 8.5 4.5 17 15 18 13.5 1 1.5 0.5 1.5-0.5 1-1.5 0.5z"/><path fill="rgb(169,169,169)" d="M145.5 100l-5-0.5-6.5-2.5-5-2.5-8-6.5-5-5-8.5-10-3-5.5-1-2 0.5-1 1-0.5 2 0.5 6.5 3.5 17 14.5 15.5 12.5 2 2 0.5 1.5-1 1-2 0.5z"/><path fill="rgb(175,175,175)" d="M144.5 99l-4.5 0-6.5-2.5-5-3-7.5-6-4.5-4.5-8.5-10-2.5-5-0.5-1.5 0.5-1 2.5 0 5.5 3 30 25.5 2 2 1 1.5-0.5 1-1.5 0.5z"/><path fill="rgb(182,182,182)" d="M142.5 98l-4.5-0.5-6-2.5-11.5-8.5-12-13.5-2-4 0.5-2 2.5 0 3.5 2 22.5 18.5 8 8 0.5 1.5-1.5 1z"/><path fill="rgb(188,188,188)" d="M141.5 96.5l-3.5 0-6-2-10.5-7.5-5-5-7-9-1.5-2.5 0-2 1.5-0.5 3 1 13 10.5 13.5 12.5 2.5 3 0 1.5z"/><path fill="rgb(194,194,194)" d="M138 95.5l-3.5-0.5-3.5-1.5-10-7.5-9.5-11.5-1.5-2.5-0.5-2 1.5-0.5 3.5 2 20 16.5 4.5 5.5 0.5 1.5-1.5 0.5z"/><path fill="rgb(201,201,201)" d="M136 94l-5-1.5-10.5-7.5-6.5-8-2-3.5-0.5-2 2 0.5 4.5 3 7 5.5 9 8 3 4 0 1-1 0.5z"/><path fill="rgb(207,207,207)" d="M133.5 92.5l-5.5-2.5-7.5-5.5-5-7-1-3 1 0 2 1 7.5 5.5 8.5 8.5 1.5 2-0.5 1-1 0z"/><path fill="rgb(214,214,214)" d="M131.5 90l-4-1.5-6-4-3-4-1-3 1.5 0.5 5 3 6.5 7 1 2z"/><path fill="rgb(220,220,220)" d="M126 86l-4.5-2.5-1-2.5 1-0.5 2 1 2 2.5 0.5 2z"/></g><path fill="none" stroke="#fff" stroke-opacity="0.8" stroke-width="0.7" d="M505.5 326.6l0.6 0 0.3-0.3-8.3-3.4-4.8-2.3-5.3-3.1-4.8-3.4-4.3-3.6-4.4-4.4-3.3-4-3.3-4.7-2.8-5-2.2-5.1-1.8-5.1-1.3-6-0.7-5.3-0.1-6.1 0.3-5.4 0.9-5.3 1.6-6 2-5.3 2.5-5.2 2.9-5.1 3.6-4.9 4-4.8 4.7-4.6 4.6-3.8 5.2-3.7 5.8-3.4 5.5-2.6 6.1-2.5 7-2.1 6.4-1.4 5.5-0.7 5.4-0.1M505.5 326.6l-9.2-2.1-7.3-2.2-6.7-2.5-7.1-3.2-6.4-3.5-6.5-4.2-5.6-4.5-4.9-4.7-4.2-4.8-3.4-5-2.8-5.2-2.4-5.9-1.3-5.3-0.8-6.1 0-6 0.9-6.1 1.7-6 2.2-5.3 3.2-5.9 3.6-5.1 4.4-5 5-4.8 5.8-4.6 6.6-4.4 6.6-3.6 7.3-3.5 8.3-3.1 8-2.4 9.1-2.1 10.4-1.5 8.3-0.6 4.7 0.5M505.5 326.6l-10-1.5-10.4-2.2-9.2-2.5-9.5-3.2-8.4-3.4-8.5-4.2-7.4-4.5-6.4-4.7-5.5-4.8-5.2-5.7-3.7-5.1-3.2-5.9-1.9-5.4-1.2-6-0.2-6.1 0.8-6.1 1.8-6 2.8-6 3.9-5.9 4.3-5.1 5.9-5.5 6.2-4.8 7.2-4.6 8.2-4.4 8.1-3.6 9.2-3.3 10.4-3.1 10.2-2.4 14.3-2.3 12.8-1.2 8.7-0.2 1.8 0.3 1.6 0.7M560.5 326.6l11.2-1.5 9.6-1.9 10.1-2.4 10.4-3.2 9.1-3.4 9.3-4.2 8-4.5 7-4.6 6.1-4.9 5.6-5.6 4.1-5.2 3.5-5.9 2.5-6 1.3-6 0.3-6.1-0.8-6.1-1.9-6-2.9-6-4.1-5.9-4.6-5.1-6.2-5.5-6.6-4.8-7.5-4.6-8.7-4.4-9.9-4-9.9-3.4-11.3-3-11.1-2.3-13.4-2-14.6-1.2-9.3-0.3-1.6 0.3-1.2 1M560.5 326.6l10-2 8.2-2.2 7.5-2.5 7.9-3.2 7-3.4 6.3-3.7 6.3-4.5 5.4-4.6 4.7-4.9 4.4-5.6 3.1-5.2 2.6-5.9 1.6-5.3 0.9-6 0.1-6.1-0.8-6.1-1.8-6-2.6-6-3.5-5.8-3.9-5.1-4.7-5-5.4-4.8-6.3-4.6-7.1-4.4-7.1-3.6-8-3.4-9-3.1-8.8-2.4-10-2-11.6-1.6-7.4-0.4-2.6 0.2-2.9 0.5M560.5 326.6l-0.1-0.1 0.6-0.3 7.6-2.6 6.5-2.6 5.1-2.6 5.6-3.3 4.9-3.6 5-4.3 3.9-4 3.9-4.7 3.2-4.9 2.7-5 2.1-5.2 1.7-5.9 0.9-5.4 0.3-6-0.3-6.1-0.8-5.3-1.7-6.1-2-5.3-2.9-5.8-3.3-5.1-3.8-4.9-4.5-4.8-5.1-4.6-5-3.8-5.6-3.7-6.3-3.4-6.1-2.6-6.7-2.5-7.6-2.1-7-1.4-7.4-0.8-5.3 0.1M560.5 326.6l-2.8 0-1.4-0.2 0.5-0.6 5.8-3.1 4.3-2.9 4-3.1 4.1-3.9 3.7-4.3 3.1-4.5 2.8-4.6 2.5-5.5 1.7-4.4 1.4-5.2 1.1-5.2 0.7-5.3 0.3-5.4-0.2-5.4-0.5-5.4-0.9-5.3-1.3-5.4-1.7-5.2-2.2-5.2-2.5-5-3-5-3-4.1-3.4-4-3.7-3.9-4.2-3.6-4-2.9-4.4-2.8-4.9-2.5-4.6-1.8-5.2-1.6-4.6-0.9-5-0.5M560.5 326.6l-9.1 0.5-2.3-0.1-0.5-0.1-0.4-0.4 4.7-4.4 2.2-2.5 2.5-3.2 2.4-4 2.2-4.3 2.1-5.1 1.6-4.7 1.5-5.6 1.1-5.7 0.9-5.8 0.5-6 0.1-6-0.1-6.8-0.5-6-0.8-6.1-1.1-5.9-2.4-9.1-3.2-8.7-3.8-7.7-4.2-6.5-4.7-5.4-5.2-4.4-5.1-2.9-3.1-1.2-2.8-0.6M560.5 326.6l-16.1 1-4.3 0.1-0.8-0.1-0.4-0.4 2.5-5.7 1.8-5.9 1.7-7.9 1.3-8.7 0.9-10 0.6-10.4 0.1-11.4-0.3-10.9-0.7-10.7-1.1-10.4-1.4-9.3-1.8-8.8-2-6.9-2.3-5.7-2.4-4.1-1.3-1.3-1.5-1.2M505.5 326.6l17.1 1.2 6.4 0.1 0.8-0.1 0.3-0.4-1.3-5.7-0.9-6-1.5-16.6-0.7-20.3 0-22.3 0.9-21.1 1.6-18.1 1-7 1.2-5.7 1.2-4.1 1.4-2.6M505.5 326.6l12.5 0.7 2.2-0.1 0.4-0.2 0.2-0.3-3.5-4.2-2.2-2.9-2.1-3.7-2-4.1-1.9-4.8-1.6-5.2-1.3-5.4-1.1-5.6-1.4-12.4-0.3-6.6 0-6.8 0.9-12.8 2.1-12.5 2-8.3 2.5-7.4 3-6.9 3.2-5.9 3.6-4.9 3.8-3.8 4.3-3 4.2-1.6M505.5 326.6l4.9 0.1 1.4-0.1 0.3-0.3-6.4-4.3-3.7-2.9-3.8-3.8-3.4-4-3.4-4.9-2.8-5.2-2.4-5.4-1.9-5.6-1.2-4.5-1-5.2-0.6-4.6-0.3-5.4 0-5.4 0.3-4.7 0.6-5.4 0.9-4.7 1.3-5.3 1.7-5.2 2-5.1 2.1-4.4 2.4-4.3 2.6-4.1 3.1-4 3.3-3.9 3.8-3.6 3.6-2.9 3.9-2.7 3.7-2.1 4.1-1.8 3.7-1.3 4.1-1.1 4.6-0.6M480.1 311.6l-23-2.1-18-0.7M626.7 308.8l-10.5 0.3-11.7 0.7-47.8 4.8-10.4 0.8-9.2 0.4-10.7-0.1-11.6-0.6-12.4-1.1-22.3-2.4M463.1 288l-16.5-1.6-14-1.1-12.6-0.6-12.1-0.2M657.8 284.5l-14.1 0.3-14.8 0.8-16.1 1.4-45.8 4.5-14.3 1-13.5 0.5-15.5-0.1-16.3-0.7-17.1-1.4-27.2-2.8M459.1 261.5l-17.6-1.8-14.7-1.1-13.6-0.6-12.9-0.3M665.3 257.7l-15.1 0.3-15.4 0.9-16.6 1.4-47.5 4.8-15.5 1.1-14.8 0.5-17-0.1-17.8-0.8-18.5-1.4-28-2.9M467.7 235l-16-1.7-12.5-1-11.9-0.7-11.8-0.2M650.2 231.4l-13.2 0.3-13.4 0.8-13.8 1.3-42.1 4.5-14.1 1.1-13.6 0.5-15.6 0-16.2-0.8-16.7-1.4-23.8-2.7M489.8 211.7l-18.3-2.3-7.6-0.5-8.2-0.2M610 208.7l-8.6 0.2-8.2 0.6-35 4.7-10.1 0.9-9.6 0.5-11.4 0-11.5-0.6-11.5-1.2-14.3-2.1"/></g><g clip-path="url(#cR2)"><g transform="translate(394,332)" filter="url(#fR)"><rect width="278" height="144" fill="rgb(14,14,14)"/><path fill="rgb(18,18,18)" d="M175.5 136.5l-19.5 0.5-53-1.5-103 0-0-135.5 278-0 0 135.5-63.5 0-39 1z"/><path fill="rgb(21,21,21)" d="M158 129l-13.5 0-9-0.5-27.5-5.5-13-1.5-42 0-28.5 2.5-7.5 0-17-2-0-122 278-0 0 122-36-0.5-16 0.5-11.5 1-29.5 4.5-27 1.5z"/><path fill="rgb(24,24,24)" d="M166.5 125l-21.5 0-13.5-1.5-12.5-4.5-22-11-9.5-1.5-18.5-0.5-13.5 0.5-7 2-14.5 6.5-8.5 1.5-4.5 0-5-1-16-5-0-110.5 278-0 0 111.5-6.5 0.5-6.5 0-20-4.5-8 0-12.5 3-30.5 10.5-13 2.5-14.5 1.5z"/><path fill="rgb(27,27,27)" d="M165 122.5l-20.5 0-7.5-1-7-2-8-3.5-7.5-4.5-6.5-5.5-5.5-7-7-3-18.5-6-6.5-1-5-0.5-5 0.5-5.5 1.5-4 1.5-4.5 3.5-10.5 11.5-4 2.5-4.5 2-5 0-5.5-1-8.5-3.5-7.5-4-1-1 0-87 14.5-7.5 10-3.5 7-0.5 30-0.5 9.5 1 7 1.5 18 7 30.5 10 7.5 2 12 1 31 0 7-0.5 5.5-2 15.5-9.5 7.5-3.5 7-2 7.5-0.5 7 1 11.5 3 24.5 10 8 2.5 0 80.5-7.5 1-8-1-7.5-3-11-7-2.5-1-2.5 0.5-4 1.5-13.5 8.5-13.5 7.5-11.5 5.5-15 4-16.5 1.5z"/><path fill="rgb(30,30,30)" d="M166 120.5l-12.5 0.5-10-0.5-8.5-1.5-7-2.5-7.5-4.5-6-5.5-4.5-5.5-3-6.5-6.5-3.5-7-2.5-6.5-3-20-13-4-1.5-3 0.5-5.5 2.5-8.5 5-4 3.5-3.5 6-3.5 13-2 3-2 2-3.5 2-4 0.5-4-0.5-4-2-9-5.5-6.5-5.5 0-63 11-7 3.5-3.5 6.5-7.5 3-2 3-1.5 4-0.5 11.5 0.5 15-0.5 12.5 2 6 1.5 10.5 5 18 6.5 10.5 6 4.5 3.5 3.5 4 11 17.5 7.5 8.5 5 4 3 1.5 6 2 5 1 8-0.5 13.5-5.5 10.5-8 12-6.5 0.5-3-1.5-8 0-4.5 0.5-4.5 1-4 3-4.5 3.5-4 4.5-2.5 4.5-2 5.5-0.5 5.5 1 8.5 2.5 8 3.5 10 6 13.5 11 6.5 6 0 54-4 1-4 0.5-4-0.5-4-1-5.5-4-7-8-4.5-4-5-3-4-0.5-2 1.5-5 8.5-4.5 5-8.5 7-12 8-8.5 4-9 3.5-9.5 2-11 1z"/><path fill="rgb(33,33,33)" d="M164 119l-13 0.5-9-1-9-2-6.5-3-6-4.5-4.5-5-3.5-5.5-2-6-6.5-4.5-10.5-4.5-7-4-9-7.5-9-11.5-8-5.5-5.5-2-3 0.5-2.5 2.5-10.5 14-4.5 7.5-2.5 8.5 1.5 11.5-0.5 3-1 2.5-2.5 2.5-3.5 1.5-3.5 0.5-3.5-1.5-11.5-7.5-7.5-8 0-50.5 5.5-2.5 10.5-4 2.5-1.5 1.5-2.5 0.5-6.5 1.5-3.5 2-3 3.5-2.5 3.5-0.5 11.5 0.5 14-0.5 10.5 1.5 7.5 3 13.5 7 16 6 8 4.5 4 3 3 4 10 19.5 7 8.5 6 5.5 5 2.5 5 1 8 0 8-1 6.5-2 12.5-4.5 12.5-7.5 9.5-2.5 3-4.5 1.5-4.5-0.5-4-2.5-7-1-4 0.5-4 1-4 2-4 4-3.5 4.5-2 5-0.5 5.5 1 7.5 2.5 6.5 3 5 3 18 15.5 4.5 4.5 4.5 6.5 0 40-1.5 1-3.5 1-3.5 0.5-3.5-0.5-3.5-2-4-3.5-7.5-11-7.5-7.5-3.5-3-4-0.5-3.5 1.5-4 5-2 3.5-2.5 7.5-3.5 5.5-6.5 6-10 7.5-9 5-9 3.5-10 2-12 1.5z"/><path fill="rgb(37,37,37)" d="M156.5 118l-9.5 0-9-1.5-7-2.5-6.5-4-5-4.5-3-4-2-4-1-5.5-8-6-13.5-7-9-7-4-4.5-7-10.5-7-7-8-10-5-2.5-18-3.5-7.5-3.5-2-2.5-1-3.5 0-3 1.5-3 3-2 3-1 15.5 0.5 9.5-0.5 8.5 1 8 2.5 15.5 9 17 7 6 4 4 4 3 4.5 8.5 17 7 8.5 8 6.5 6.5 2 12 1 11-2 18.5-5.5 12-7 6.5-1 5.5-6.5 2-4 1-3.5 0-5.5-3.5-10.5 0.5-6 1.5-3 2-2.5 3-2 3.5-1 5 0.5 7.5 2.5 6.5 3 7 4 18.5 16.5 6 7.5 4 7 0 30-3.5 2.5-3 0.5-3 0-3-0.5-3-2-2.5-3.5-6-10.5-8-10.5-5-4-2.5-1-2 0-3.5 2-4 5-7 11.5-1.5 5-2.5 4.5-6.5 6-10 7.5-9 5-11 4-11 2-14 1zM25.5 106l-2.5 0-2.5-0.5-8.5-5.5-5.5-5.5-6.5-8.5 0-41 5-2.5 8.5-1.5 9 1 3.5 1.5 3 1.5 2 2 1 2.5 0.5 3.5 0 4-2.5 10.5-2 14 0.5 5 3 9 0 3.5-0.5 2.5-1 2-2 1.5-2.5 1z"/><path fill="rgb(40,40,40)" d="M163 116.5l-12.5 0.5-8.5-1-8.5-2.5-6.5-3.5-5.5-4.5-3-4-2-4.5-1-5-9-7.5-13.5-7.5-8-7-3.5-3.5-7.5-11.5-6.5-6.5-9-10.5-5-2.5-17-4.5-8-3-1.5-1.5-1-2 0-2.5 0.5-2 2-2 2.5-0.5 25-0.5 8 1 8.5 2.5 14.5 9 16 7 5.5 3.5 4 4 12.5 22 6.5 7.5 8 7 3.5 2 3.5 1 13.5 0.5 13-1.5 15.5-4.5 3.5-1.5 8.5-5.5 3.5-1 3.5-0.5 4.5-4 3-4 2-4 1.5-4 0-6.5-4-10.5 1-5.5 1-2.5 2-2 2.5-1.5 3-1 4.5 0.5 7.5 2.5 7 3.5 5.5 4 18 16 6 7.5 4 7.5 1.5 4 0 22-4 3-2.5 1-3 0-2.5-1-2.5-1.5-2.5-3-5-10.5-8-11.5-3-3-4-3-2.5-1-2-0.5-3.5 2-3.5 4.5-9.5 16.5-1 3.5-2 4-5.5 5.5-7 5.5-8.5 6-10 4.5-9.5 2.5-13.5 1.5zM25.5 105l-2.5 0-2.5-0.5-9-6.5-6-6.5-5.5-9.5 0-34.5 3-2 6-0.5 6 1.5 2.5 1.5 2 2.5 3.5 6 1 5.5 1.5 20 5 16 0 2.5-1 2-2 1.5-2 1z"/><path fill="rgb(43,43,43)" d="M162 115.5l-12.5 0.5-7.5-1-8.5-2.5-6-3.5-5.5-4.5-2.5-3.5-2-4.5-0.5-4.5-9.5-8-13-8-8-7-3-3.5-6.5-9-8.5-9-9.5-11-5-2.5-16.5-5-6-2.5-3-2-0.5-2 0.5-1.5 1.5-1 3.5-0.5 24-1.5 8 1 7.5 3 11.5 7.5 16 8 7.5 4.5 4.5 5 5 9.5 6.5 10.5 6 7 8 7 7.5 4 15 0.5 8-0.5 7-1.5 13.5-3.5 4-2 8-5.5 7-1.5 7-7 4-7 1-5 0-4-0.5-3-3-7-0.5-4.5 1-3 1.5-2.5 2.5-1.5 3-1 4 0 7.5 3 6.5 3 6 4 13.5 12 4.5 4.5 6 8.5 4 7.5 2 6 0 15-1.5 2.5-2.5 2-3 1-3-0.5-3-1-2.5-2.5-5.5-12-9-13-8.5-6.5-2.5-1-2 0-2.5 2-3.5 4.5-10.5 19-0.5 3.5-2 3-4.5 5-6.5 5.5-9.5 6.5-10 4-11 3-12.5 1.5zM25.5 104l-2.5 0.5-2-1-5-3-4.5-3.5-5.5-6.5-5-9.5-1-2.5 0-29 3-2 4.5-1 4.5 1.5 3 2.5 3 5 2.5 7.5 3.5 20 5.5 14.5 0 2-0.5 2-1.5 1.5-2 1z"/><path fill="rgb(46,46,46)" d="M164 114.5l-12 0.5-8-0.5-9-2.5-6.5-3.5-5-4-3.5-4-1.5-4-0.5-5-10-8-11-7-5-4.5-6.5-6.5-7-9.5-9-9-10-11.5-4.5-2.5-18.5-6.5-3-2-0.5-1 0.5-1 4-1.5 15.5-2 6 0 5.5 1 7.5 2.5 13 8.5 15.5 7.5 5.5 3.5 3.5 3.5 11 18 9.5 12 8 6.5 8.5 4.5 14.5 0.5 7-0.5 8-1.5 13.5-4 12.5-7.5 6-1.5 6-5 3.5-4 3-4.5 1-5.5 0-4.5-1-4-3-6.5-0.5-4 0.5-2.5 1.5-2.5 2.5-2 2.5-0.5 4 0 8 3 6.5 3.5 5.5 4 17 15.5 6.5 9 3.5 7.5 2 4.5 0.5 4.5 0.5 7.5-0.5 2.5-1.5 3-2.5 2-3 0.5-3-0.5-2.5-1-1.5-2-5.5-11.5-8.5-13-3.5-3.5-6.5-5-2.5-1-2.5 0-2.5 2-4 5-7.5 15.5-3 5-0.5 3-1.5 2.5-4 4.5-5.5 5-9 6.5-10 4.5-9.5 3-13.5 2zM25.5 103l-2 0.5-2.5-1-4.5-2.5-4.5-4-5-6-5-9-2-6.5 0-23.5 3.5-2.5 3.5-1 3.5 1 2.5 2 2 3 3 9.5 4.5 19.5 6 15-0.5 3.5-2.5 2z"/><path fill="rgb(49,49,49)" d="M159.5 114l-10.5 0-8-1-8-2.5-5.5-3.5-5-4.5-2.5-3-1-4 0-4-10.5-9-11-7-5-4-6.5-7-6.5-8.5-9.5-9.5-9.5-11.5-4-2.5-14-6-2-1.5 0-1.5 2.5-1 10-2 6.5-0.5 5.5 1 7.5 3 12 7.5 16 8 5 3.5 3.5 3.5 11 17.5 9.5 12 8.5 7 9 4.5 10 0.5 8.5 0 8.5-1.5 8-2 9-3 11.5-7.5 6-1 6.5-5 5.5-6.5 2-3.5 0.5-6 0-4-1.5-4-3-6-1-3.5 0.5-2.5 1.5-2.5 2-1.5 2.5-1 3.5 0.5 8 3 6.5 3.5 6 4 13 11.5 4.5 4.5 5.5 8 4 8.5 2 8 0 7-0.5 2.5-1.5 2.5-1.5 1.5-3 1-2.5-0.5-2-1-2-2-5.5-12-8.5-13-11-9-2.5-1-2.5 0-3 2-5 6-6 14.5-3.5 6-0.5 3-1 2.5-4.5 5-6 5-9.5 6.5-10.5 5-11.5 2.5-13.5 1.5zM24.5 102.5l-2 0-3.5-2-7-5-5-6.5-4-8-3-9.5 0-19.5 1.5-1.5 2-1.5 3-0.5 3 0.5 2.5 2 2 3 3 10 5 19 5.5 14.5 0 2-0.5 1.5-2.5 1.5z"/><path fill="rgb(53,53,53)" d="M156 113.5l-8.5 0-8.5-1.5-6.5-2.5-6-4-4-4-2-3-1-3 0-4.5-11-9-14-10-7.5-7.5-7-9-10-10-9-11-3.5-2.5-9.5-4.5-1.5-2 0-1.5 3-2 6.5-1 6 0 5.5 1.5 4.5 2 12 7.5 17.5 9 4 3 3 3 11 17.5 9.5 12 8.5 7 10 5 9.5 0.5 9.5-0.5 9.5-1.5 7.5-2 8-3 11.5-7 2.5-1 3 0 10.5-7 1-0.5 1 0.5 0 2-1.5 6-3.5 7.5-0.5 3-1 2.5-6 6.5-8.5 7-9.5 5.5-10 3.5-11.5 2-13 1zM271 92l-3.5-0.5-2.5-2-5.5-11.5-7-11.5-4-4.5-7.5-6.5-3.5-2-3-0.5-3 1-4.5 3-1.5-0.5-2-9.5-4-8.5-1-2.5 0.5-3.5 2-3 3-1.5 3 0 7 2.5 5.5 2.5 8 5.5 13 11.5 4.5 5 7 11 3 6.5 1 4.5 0 10.5-2 3-3 1.5zM24.5 101.5l-2 0-3.5-1.5-6.5-5-5-6.5-4-8-3.5-12.5 0-14 1.5-2.5 2.5-1.5 3-0.5 2.5 0.5 2 1.5 1.5 2.5 3 10 5 18.5 5.5 14 0 3.5-2 1.5z"/><path fill="rgb(56,56,56)" d="M164 112.5l-12 0.5-9-1-8.5-2.5-6.5-3.5-5-4.5-2-3-1-3.5 0.5-4-11.5-9.5-14.5-10-7-7.5-7-9-10-10-9-11-2.5-2-8.5-5-1-1.5 0-1 3-2 5-0.5 5 0 5.5 1.5 4.5 2 10.5 6.5 18 9.5 4 3 3 3 11 17.5 9.5 12 8.5 7 5.5 3 5.5 2.5 15.5 0 14-2 14-4.5 12-7.5 2.5-1 3 0.5 6.5-4 1.5 0 1 0.5 0.5 1.5-0.5 2.5-2.5 6.5-0.5 3-1 2.5-5.5 6-7.5 6.5-8.5 5-8.5 3.5-9.5 2.5-10.5 1.5zM272 91l-3.5 0.5-3-2.5-7-14-6.5-10-5-5-6.5-5.5-3.5-2-3.5-1-5 1-1.5-1-7.5-15 0-3.5 2-3 2.5-1.5 2.5 0 6.5 2 6 3 7.5 5 13.5 12 4 4 6 9 5 11 0.5 6 0 6-1 2.5-2.5 2zM23.5 100.5l-5-1.5-6-5-4.5-5.5-4-8-3.5-12-0.5-10 1-5 1-1.5 2-1.5 2-0.5 2.5 0.5 2 1.5 1.5 2 3.5 10 5 19 5 13 0 3.5-2 1z"/><path fill="rgb(59,59,59)" d="M164.5 112l-12.5 0.5-9-1-8.5-2.5-6.5-4-4.5-4-2-2.5-1-3.5 0.5-4-0.5-0.5-11-9-10.5-7-4.5-4-6.5-7-7-9-10-10-9.5-11.5-8-6-1-1.5 0.5-1 2.5-1 4-1 4.5 0.5 4.5 1 33 18.5 6 5.5 11 17.5 10 12 8.5 7 5 3 6 2.5 14 0.5 14-2 15.5-5 12.5-7.5 2.5-0.5 3 0 5-2 2 0.5 0 2.5-2 5 0 3.5-1.5 2.5-5 6-7.5 6-8 5-8.5 3.5-9.5 2.5-10 1.5zM271.5 90.5l-3 0-2.5-1.5-6.5-13.5-6.5-10-4-4.5-11-9-3.5-1.5-5.5 0-2-1.5-7-12 0-3.5 2-3 2-1 2.5 0 6.5 2 6 3 8 5.5 12.5 10.5 4 4.5 6.5 9 3 6.5 1.5 4.5 0.5 5.5 0 6-1 2.5-2.5 1.5zM23.5 99l-1.5 0.5-2.5-1-6-4-4.5-5.5-4.5-8-3-11.5-1-8 0.5-7 1.5-2 1.5-1.5 2-0.5 2.5 0.5 2 1.5 1 2 3.5 9.5 5 19 4 11.5 0.5 3-1 1.5z"/><path fill="rgb(62,62,62)" d="M157 112l-9.5 0-8.5-1.5-6.5-3-5.5-3.5-4-4-1.5-2.5-0.5-3 0.5-4-11.5-9.5-11-7.5-4.5-3.5-6.5-7-7-9-10-10-9.5-12.5-5-4-1-1.5 0.5-1 2-1 3-0.5 8 1.5 32.5 18 6 5.5 10.5 17 10 12.5 8.5 7 5.5 3 6 2.5 13 0.5 14.5-2 16-5 13-7.5 2.5-0.5 3 0.5 3-1 1.5 0.5 0.5 1.5-1 3.5 0 3.5-1.5 3-7 7.5-9 7-7.5 4-10 3.5-10 1.5-12 1zM270.5 90l-2 0-2-1.5-6.5-13-6-10-3.5-4-12-10-3.5-1.5-5.5-1-2.5-2-6.5-10.5 0-3 2-2.5 2-1 2.5 0 6 2 5.5 2.5 7.5 5 13 11.5 4.5 4.5 5.5 8.5 3 6 1.5 5 1 5.5-0.5 6-1 2.5-2.5 1zM22 98l-4-1-5.5-4.5-4-5.5-4-7-2.5-11.5-1-8 0.5-6 1.5-2 1.5-1 2.5 0 2 0.5 1.5 2 1 2.5 3 8.5 5 18 3.5 10.5 0.5 3-0.5 1-1 0.5z"/><path fill="rgb(65,65,65)" d="M160 111.5l-11 0-8.5-1-7-2.5-6-4.5-4-4-1.5-2.5-0.5-3 0.5-3.5-12-10-10.5-7-5-4.5-6-6.5-7-8.5-11.5-12.5-8-10.5-3-3-0.5-1.5 0.5-1 1.5-0.5 3-0.5 3.5 0.5 3.5 1.5 31.5 17.5 5 5 10.5 17 10 12 9 7.5 5.5 3 6 2.5 12 0.5 13-1.5 8-2 10.5-3.5 13.5-7.5 3-0.5 4.5 1.5 1 5.5-1.5 3.5-6.5 7.5-9 7-7.5 4-9.5 3.5-10 1.5-9.5 1zM271.5 89l-2.5 0-2-1-6.5-13-6.5-10-3.5-4.5-11.5-9.5-3.5-1.5-5.5-1.5-3-2.5-5.5-9 0-3 1-2 2.5-1 3.5 0.5 5 1.5 5 2.5 7 5 17 15 6.5 9.5 4 9.5 0.5 5 0 6.5-0.5 2-1.5 1.5zM21.5 97l-1.5 0-2-1-5-3.5-4-5.5-4-7-2.5-10-0.5-6.5 0-8 1-2 1.5-1 2.5-0.5 2 1 2.5 4.5 10.5 35 0.5 2.5-1 2z"/><path fill="rgb(69,69,69)" d="M162.5 111l-12 0.5-8.5-1-7.5-2.5-6.5-4.5-4-3.5-1.5-3-1-3 1-4-12-9.5-10.5-7-5.5-5-5.5-6-7.5-9.5-11.5-12-8.5-12.5-0.5-1 0.5-1 4-0.5 5 1 13 7.5 13 6.5 5.5 3.5 4.5 4.5 11 17.5 9.5 12 9 7.5 11 5 14 0.5 8.5-0.5 7.5-1.5 15.5-5 11-6.5 2.5-1 3.5 0.5 2.5 2.5 1 2 0 2-2 3.5-7 7.5-8.5 6.5-7 3.5-8 3-8 2-10 1zM270.5 88.5l-1.5 0-1-1-7.5-13-6-10-3.5-4-11.5-10-4-2-5.5-1.5-3-2.5-3-4-2-4 0-2.5 1.5-2 2-0.5 4 0.5 4.5 1.5 4.5 2 7 5 13 11.5 4 4 6 8.5 4 10.5 0.5 5 0 5-1 2.5-1.5 1zM20.5 95.5l-3.5-0.5-4-3.5-4.5-6-3-6-2.5-9.5-0.5-6.5 0-8 1-1.5 1.5-1 2-0.5 2 1.5 3 7 9 30.5 0.5 2.5-1 1.5z"/><path fill="rgb(72,72,72)" d="M156 111l-8.5 0-8-1.5-6.5-2.5-6-4.5-3-3.5-1.5-2.5-0.5-3 1-3.5-16-13-8-5-4.5-4-5.5-6-7-9-7.5-7.5-4-5-6.5-9.5-0.5-2 0.5-1.5 3-0.5 4 1 26 14 5 3 4.5 4.5 10.5 17 10 12.5 8.5 7 11 5.5 14.5 0.5 7.5-0.5 8-1.5 16-5 13.5-7.5 3.5 1 2 2 1 2-0.5 2.5-3.5 5-8 7.5-8 5.5-7.5 3.5-8 2-9 1.5-12 1zM270 87.5l-1.5-0.5-1.5-2-6-11-5.5-9-3.5-4-12-10.5-4-2.5-6-2-3.5-3-3.5-6.5-0.5-2 1-1.5 2-1 4.5 0.5 4 1.5 4.5 2.5 6.5 4.5 13 11 4 4 6 9 4 9.5 0.5 4 0 5-1 3-1.5 1zM20 94l-1 0.5-1.5-0.5-4-2.5-4-5.5-3.5-6.5-2-7.5-1-7 0.5-9.5 1.5-2 2 0 1.5 1 3.5 8 8 28 0.5 2.5-0.5 1z"/><path fill="rgb(75,75,75)" d="M161 110.5l-11.5 0-7.5-1-7.5-2.5-6-4-3.5-3.5-2-3-0.5-3.5 1.5-3-13-10.5-10.5-6.5-5.5-5-5.5-6-7.5-9.5-11-12-5.5-8.5-0.5-2 0-1.5 3-0.5 4 1 24 12.5 6 4 4 4 11 17.5 9.5 12.5 8.5 7 11.5 5.5 13.5 0.5 12-1.5 8-1.5 11-3.5 14.5-7.5 3 0 2.5 2 1 2-0.5 2-2.5 4-6 6.5-8.5 6.5-6.5 3.5-8.5 3-8.5 1.5-10 1zM270 85.5l-1.5-0.5-1.5-1.5-11-18.5-4-5-12-10.5-4-2-6-2.5-3-2.5-3-5.5-0.5-2 1-1.5 2-0.5 4 0 7.5 3.5 6 4 17.5 15.5 6 8.5 3.5 8.5 1 3.5 0 4-1 4-1 1zM18.5 93l-2.5-0.5-3.5-3-3.5-5-2.5-5-2.5-9-1-5.5 1-8 0.5-2 1-1 1.5 0.5 1.5 1 4 9.5 6.5 24.5 0.5 2.5-1 1z"/><path fill="rgb(78,78,78)" d="M164.5 110l-12.5 0.5-9-1-7.5-2-6-4-4-3.5-2-3.5-0.5-3 1.5-3.5-0.5-0.5-16.5-13-8-5-4.5-4-5.5-6-7-9-11-12-4.5-7.5-0.5-2 0-1.5 2.5-0.5 3.5 1 23.5 12 6.5 4.5 3.5 3.5 10.5 17.5 9.5 12 9 7.5 10.5 5 12.5 1 14.5-1.5 8.5-2 9.5-3 15-7.5 3 0 2 1.5 0.5 3.5-2 4-6 6.5-7.5 6-7 3.5-7.5 3-7.5 2-9 1zM269.5 83.5l-1.5-0.5-1.5-2-10.5-17-4.5-5-11.5-10-9.5-4.5-3-2.5-2.5-4.5 0-3 2-1 2.5 0 3.5 1 4 2 6.5 4.5 17 15 6.5 8.5 3 8 1.5 6.5-1 3.5-1 1zM17 92l-3-1.5-3-3.5-3.5-6-1.5-4-2-9-0.5-4 1-6 0.5-2 1-0.5 1.5 0.5 1.5 2 3 7.5 6.5 23.5-0.5 2.5-1 0.5z"/><path fill="rgb(81,81,81)" d="M161 110l-11.5 0-7.5-1-7-2-6-4-4-4-1.5-3 0-3.5 1.5-3-17-13-8-5-4.5-4-5.5-6-7.5-9.5-9.5-10-4.5-7.5-1-2.5 0.5-1.5 2-0.5 3.5 1.5 22 10.5 6.5 4.5 3.5 3.5 10.5 17.5 9.5 12.5 9 7.5 10 4.5 13 1 14-1 9-2 9.5-3 15.5-7.5 2.5 0 2 1.5 0.5 1.5 0 2-3.5 5-7 7-6.5 5-7 3.5-8.5 2.5-8.5 2-8.5 0.5zM269 81.5l-1.5-0.5-1.5-2-10-15.5-4.5-5.5-11-9.5-9.5-4.5-3-2-2.5-4 0-2 0.5-1 2-0.5 2.5 0 3 1 4 2 6 4 16.5 14.5 6.5 9 3 7 1 4 0 2.5-0.5 2-1 1zM17 90.5l-2-0.5-2.5-2-3-4.5-2.5-4.5-3-12 0.5-7 1.5-3 1 0 1.5 2 3 6.5 3.5 11 2.5 10.5 0 2.5-0.5 1z"/><path fill="rgb(84,84,84)" d="M155 110l-7.5-0.5-8-1.5-6-2-5-4-3.5-4-1.5-2.5 0.5-3.5 2-2.5-18-13.5-7.5-4.5-5-4-5.5-6-7.5-10-8.5-9.5-4.5-7-0.5-2 0.5-1.5 2 0 3.5 1 20 9.5 7 4.5 3.5 4 10.5 17.5 9.5 12.5 8.5 7 9 4.5 4 1 9 0.5 15.5-1.5 8-1.5 10.5-3 16-7.5 2 0 1.5 1.5 0.5 1.5-0.5 2-5 7-7 6.5-7.5 4.5-7.5 3-7.5 2-8.5 1.5-11.5 0.5zM268.5 79.5l-1 0-2-2-9.5-15-4.5-5-11-9.5-9.5-4.5-2.5-2-2-3.5 0-1.5 0.5-1 2-0.5 2.5 0 6 3 5.5 4 16.5 14.5 6 8 2.5 5 2 6.5-0.5 2.5-1 1zM16 89l-1.5-0.5-2.5-2-4.5-7.5-3-12 0.5-5.5 1.5-2.5 1 0 1.5 2 2.5 5.5 3.5 11 1.5 9-0.5 2.5z"/><path fill="rgb(88,88,88)" d="M162 109.5l-11.5 0-8-1-7.5-2-5.5-4-3.5-3.5-2-3.5 0-3 1-1.5 1.5-1.5 0-0.5-18-13.5-6.5-3-5.5-4.5-6-6.5-7.5-10-8.5-9.5-3.5-6-0.5-2 0-1 1.5-0.5 2 0.5 7 3 14.5 7 7 4.5 3 3.5 10 17 9.5 13 8.5 7 8 4 5 1 9 0.5 15.5-1 9.5-2 9-2.5 16-7 2 0 1.5 1 0.5 1.5-1 2-3.5 5.5-6 5.5-6 4.5-7.5 3.5-7.5 2.5-8 1.5-8 1zM268 77.5l-2-1-12.5-18-12-11-12-6-2-3 0.5-2 1.5-1 2 0.5 5.5 2.5 5 3.5 16.5 14 4.5 5.5 3.5 6 2 6.5 0.5 2.5-1 1zM15 87l-1.5 0-2-2-4-7-2.5-11 0.5-4 0.5-1.5 1-1 1.5 1 2 3.5 3.5 11.5 1.5 8.5-0.5 2z"/><path fill="rgb(92,92,92)" d="M158 109.5l-9 0-7.5-1-6.5-2.5-5.5-3.5-3.5-4-1.5-3.5 0.5-3.5 3-2.5-19-13.5-7.5-4-5-4-6-6.5-7.5-10-8-8.5-3-5.5 0-2.5 2.5-0.5 7.5 3 13 6 7 4.5 3.5 4 10 17 9 13 8 7 6.5 3 5.5 1.5 8 0.5 16.5-0.5 8.5-1.5 9.5-2.5 7.5-2.5 10-4.5 2.5-0.5 1 1 0.5 1.5-1 2.5-4 5.5-6 5.5-7 4.5-6.5 3-7.5 2.5-8.5 1.5-10 0.5zM267 74.5l-1.5-0.5-3.5-4-5-8.5-4.5-5-10.5-9.5-4.5-2.5-7-3-2-2.5 0.5-2 3-0.5 4 2 5.5 4 16.5 14 4 5 3.5 5 1.5 5 0 3zM14 85l-1 0-2-2-3-5-2.5-10.5 0.5-3.5 1-1.5 1.5 0.5 1.5 2.5 3.5 11.5 1 6-0.5 2z"/><path fill="rgb(99,99,99)" d="M120.5 81l-2.5-0.5-9-6-6-2.5-6-4.5-6-6.5-7.5-10-7-8-2-4 0-2.5 1.5-0.5 3.5 1 13.5 5.5 5.5 3 4.5 3.5 3 4 9 16 5 8 1 3-0.5 1zM12 81l-1.5-1-1.5-2.5-1.5-8.5 0-2 0.5-0.5 1 0.5 3.5 10.5 0.5 2.5-1 1zM160.5 109l-14 0-6-1.5-4.5-1.5-4.5-2.5-4.5-4.5-2-3.5 0-3 2-2 2.5-0.5 17 3.5 11 0.5 11-0.5 8.5-1.5 9.5-2.5 16.5-6 2 0 1 0.5 0.5 1.5-1 2-3.5 5-5.5 5-6 4-6 3-7.5 2.5-7.5 1-9 1z"/><path fill="rgb(105,105,105)" d="M116.5 77l-12-5-7-5-6.5-6.5-7-10-5.5-6.5-2-3.5 0-2 2-0.5 2.5 0.5 12 4.5 5 2.5 5 4 3 4 7 12.5 4 9 0 1.5-0.5 0.5zM162.5 108.5l-14.5 0-6.5-1-5-1.5-4.5-3-4-4-2.5-4 0.5-2.5 1.5-1.5 2.5-0.5 16.5 3.5 9.5 0.5 10-0.5 15.5-2.5 19.5-6 2-0.5 1 1-0.5 3-3.5 4.5-4.5 4-6 4-6.5 3-6 2-14.5 2z"/><path fill="rgb(112,112,112)" d="M113.5 74l-8.5-2.5-4.5-2.5-3.5-3-5.5-6-11.5-15.5-1.5-3 0.5-1.5 3.5 0 10 3.5 6 3 4.5 3.5 2.5 4 6.5 12 2 6.5-0.5 1.5zM156.5 108.5l-11.5-0.5-5-1.5-4.5-1.5-4-3-3-3-2-3.5 0-2.5 1.5-1.5 3-0.5 15.5 3.5 9.5 0.5 9.5-0.5 13.5-2 20.5-5.5 1.5 0 1 0.5 0 1.5-1 2-4 4.5-5 4-6 3.5-6 2-6 1.5-8.5 1.5-9 0.5z"/><path fill="rgb(118,118,118)" d="M110.5 72l-3 0-4-1.5-4-3-3.5-3-4.5-5-9-13.5-1.5-3 0-1.5 1 0 2.5 0 8.5 2.5 5 2.5 4.5 3.5 3 4.5 6 12 0.5 4-1.5 1.5zM161 108l-13.5 0-6-1-5-2-4-2.5-3-3-2-3.5 0-2.5 1.5-1.5 2.5-0.5 14.5 3 17.5 0.5 13-1.5 20.5-5 2 0 1 0.5-0.5 2.5-3 4-4.5 3.5-5.5 3-11 4-14.5 2z"/><path fill="rgb(124,124,124)" d="M109.5 71l-3.5-0.5-4.5-2-8.5-8-9.5-14.5-0.5-2 0.5-1 3 0 7 2 5 2.5 4 3 2.5 4.5 5.5 11 0.5 3.5-0.5 1-1 0.5zM163.5 107.5l-14.5 0.5-10.5-2.5-4.5-2.5-3.5-3-2-3-0.5-3 1.5-1.5 3 0 13.5 2.5 17.5 0.5 12.5-1.5 18-4 2.5 0 1.5 0.5-0.5 2-2 3-3.5 3-5.5 3-10.5 4-12.5 2z"/><path fill="rgb(131,131,131)" d="M109 70l-3.5 0-4-2-8.5-8-6.5-10-1.5-4 0-1.5 1.5-0.5 6.5 1.5 4.5 2 4.5 3.5 3 4 4.5 10 0.5 3.5-1 1.5zM159.5 107.5l-11.5 0-5.5-1-5-1.5-4-2.5-2.5-2.5-2-3 0-2.5 1.5-1.5 2.5 0 13 2.5 17.5 0 10-1 19.5-3.5 2.5 0 1 0.5-0.5 2-2.5 3-4.5 3.5-5.5 2.5-10.5 3.5-13.5 1.5z"/><path fill="rgb(137,137,137)" d="M108 69l-3 0-3.5-1.5-8.5-8-6-10-0.5-2 0.5-2 2.5-0.5 4 1 4.5 2 4 3.5 3 4.5 3.5 8.5 0.5 3-1 1.5zM163 107l-13.5 0.5-10-2.5-4-1.5-3-2.5-2.5-3.5 0-2.5 1-1 2.5-0.5 12 2 16 0.5 10-1 19.5-3 2.5 0 1 0.5-0.5 2-2 2.5-8 5-9 3-12 2z"/><path fill="rgb(143,143,143)" d="M107.5 68l-2.5 0-4-1.5-8-7.5-5-8.5-0.5-2.5 0.5-1.5 2.5-0.5 3.5 0.5 4 2 3.5 3 2.5 4 3.5 7.5 1 3.5-1 1.5zM159 107l-11 0-9.5-2.5-3.5-2-2.5-2-2-3 0-2 1-1 2.5-0.5 12 2 15.5 0 9.5-0.5 18-2.5 2.5-0.5 1.5 1-0.5 2-2.5 2.5-4 2.5-5 2.5-9.5 2.5-12.5 1.5z"/><path fill="rgb(150,150,150)" d="M106.5 67l-2 0.5-3-1.5-8-7-4.5-8.5-0.5-2 0.5-1.5 2-0.5 3.5 1 3.5 1.5 3.5 3 2.5 4 3 6.5 0.5 3-1 1.5zM162.5 106.5l-13 0.5-8.5-2-4-1.5-3-2-2-3-0.5-2.5 0.5-1 2.5-0.5 11 1.5 12 0.5 11.5-0.5 19-2.5 2.5 0 1 1-0.5 1.5-2 2-8 4.5-7.5 2.5-11 1.5z"/><path fill="rgb(156,156,156)" d="M105.5 66l-2 0-2.5-1-7.5-6.5-3.5-7-0.5-2 0.5-1.5 1.5-0.5 3 0.5 3.5 1.5 3 2.5 2.5 4 2.5 6 0.5 3-1 1zM158.5 106.5l-9.5 0-9.5-2-2.5-1.5-3-2-1.5-2.5-0.5-2 1-1 2.5-0.5 10 1.5 12 0.5 11.5-0.5 17-2 2.5 0 1 0.5-0.5 1.5-2.5 2.5-8.5 4.5-9 2-10.5 1z"/><path fill="rgb(163,163,163)" d="M104.5 65l-2 0-2-1-7-6-3-6.5 0-2 0.5-1 2 0 3 0.5 5 3.5 2.5 4.5 2 5.5 0 2-1 0.5zM162.5 106l-12.5 0.5-8-1.5-4-1.5-2.5-2-2-2.5-0.5-2 1-1 2-0.5 8.5 1 11 0.5 11.5 0 17-2 3 0 1 1-1 1.5-2 2-7 3.5-6 1.5-9.5 1.5z"/><path fill="rgb(169,169,169)" d="M104 64l-1.5 0-2-1-6.5-5-2.5-5.5 0-2 0.5-1 1-0.5 2.5 0.5 5 3 2 3.5 1.5 4 0.5 2.5-0.5 1.5zM159 106l-10 0-8.5-2-3.5-1.5-2-2-1.5-2 0.5-1.5 2.5-1 19 1.5 11.5-0.5 15-1.5 3 0.5 1 0.5-0.5 1.5-1.5 1.5-7.5 3.5-8 2-9.5 1z"/><path fill="rgb(175,175,175)" d="M103 62.5l-1.5 0.5-1.5-1-5.5-4.5-2-4.5 0-2.5 1.5-0.5 2 0.5 4.5 2.5 2.5 6 0.5 2.5-0.5 1zM162.5 105.5l-12.5 0.5-6.5-1.5-6.5-2.5-2-2-0.5-2 0.5-1 2-0.5 18.5 1 11 0 13.5-1.5 3 0.5 1.5 0.5 0 1-1.5 1.5-6 3-6.5 2-8 1z"/><path fill="rgb(182,182,182)" d="M101.5 61.5l-2.5-1-4-3-2-4 0.5-2.5 2.5 0 4 2 1.5 3.5 1 3 0 1.5-1 0.5zM159 105.5l-9.5 0-7-1.5-5.5-2.5-1.5-2 0-1.5 1-1 2.5 0 18.5 1 22-1.5 3.5 1 0 1-2 1.5-6 3-7.5 1.5-8.5 1z"/><path fill="rgb(188,188,188)" d="M101 60l-2 0-4-3-1-3 0.5-2 2 0 3 1.5 2 4-0.5 2.5zM162 105l-12 0.5-5-1-7-3-1.5-1.5-0.5-1.5 1-1 2 0 18.5 0.5 20-1 3.5 1 0 1-1 1-4.5 2.5-13.5 2.5z"/><path fill="rgb(194,194,194)" d="M100 58.5l-2 0-2.5-2-0.5-2 0-1.5 2-0.5 2 1 1.5 3-0.5 2zM158.5 105l-8.5 0-5.5-1-6-2.5-1-1-0.5-1.5 0.5-0.5 1.5-0.5 18.5 0.5 18.5-1 3.5 1 0 1-1 1-4.5 2-6.5 1.5-9 1z"/><path fill="rgb(201,201,201)" d="M99 57.5l-1 0-1.5-1-0.5-1 0-1.5 1-0.5 1.5 0.5 1 1.5-0.5 2zM161.5 104.5l-8.5 0.5-5.5-0.5-6-2-2.5-1.5-1-1.5 0.5-1 2 0 17 0 16.5-0.5 3 0.5 1 0.5-1 1.5-2.5 1.5-13 2.5z"/><path fill="rgb(207,207,207)" d="M158 104.5l-8 0-4-0.5-4.5-2-2-1.5-0.5-1 2-0.5 9-0.5 24 0 2.5 1-0.5 1-1.5 1-3.5 1-13 2z"/><path fill="rgb(214,214,214)" d="M161 104l-12 0-6-1.5-2-1.5 0-1 2-0.5 7-0.5 22 0.5 2 0 0.5 0.5-1 1-2.5 1-10 2z"/><path fill="rgb(220,220,220)" d="M155.5 104l-5.5 0-2.5-0.5-4-1.5-1-1.5 2.5-1 5-0.5 18.5 1 3 0.5-2 1.5-3.5 1-10.5 1z"/><path fill="rgb(226,226,226)" d="M158.5 103.5l-9.5 0-3-1-2-1.5 1.5-1 4.5-0.5 13.5 0.5 5 1-3.5 1.5-6.5 1z"/><path fill="rgb(233,233,233)" d="M159.5 103l-9.5 0.5-3-1-1.5-1.5 4.5-1 11.5 0.5 3.5 1-2 1-3.5 0.5z"/><path fill="rgb(239,239,239)" d="M158 102.5l-8 0.5-2.5-1.5 1-1 1.5 0 12 1-0.5 0.5-3.5 0.5z"/><path fill="rgb(245,245,245)" d="M153 102l-3 0.5-1-1 1-0.5 1 0 2.5 0.5-0.5 0.5z"/></g><path fill="none" stroke="#fff" stroke-opacity="0.8" stroke-width="0.7" d="M505.5 468.5l0.6-0.1 0.3-0.2-8.3-3.4-4.8-2.4-5.3-3.1-4.8-3.3-4.3-3.6-4.4-4.4-3.3-4-3.3-4.8-2.8-4.9-2.2-5.1-1.8-5.2-1.3-5.9-0.7-5.4-0.1-6 0.3-5.4 0.9-5.4 1.6-6 2-5.3 2.5-5.2 2.9-5 3.6-5 4-4.8 4.7-4.6 4.6-3.8 5.2-3.6 5.8-3.4 5.5-2.7 6.1-2.4 7-2.1 6.4-1.4 5.5-0.7 5.4-0.2M505.5 468.5l-9.2-2.2-7.3-2.2-6.7-2.4-7.1-3.2-6.4-3.5-6.5-4.2-5.6-4.5-4.9-4.7-4.2-4.9-3.4-5-2.8-5.1-2.4-5.9-1.3-5.4-0.8-6 0-6.1 0.9-6 1.7-6.1 2.2-5.3 3.2-5.8 3.6-5.1 4.4-5 5-4.8 5.8-4.7 6.6-4.4 6.6-3.6 7.3-3.4 8.3-3.1 8-2.4 9.1-2.1 10.4-1.6 8.3-0.5 4.7 0.4M505.5 468.5l-10-1.5-10.4-2.2-9.2-2.5-9.5-3.2-8.4-3.5-8.5-4.2-7.4-4.4-6.4-4.7-5.5-4.9-5.2-5.6-3.7-5.2-3.2-5.9-1.9-5.3-1.2-6.1-0.2-6.1 0.8-6 1.8-6.1 2.8-5.9 3.9-5.9 4.3-5.1 5.9-5.6 6.2-4.8 7.2-4.6 8.2-4.3 8.1-3.6 9.2-3.4 10.4-3.1 10.2-2.3 14.3-2.4 12.8-1.2 8.7-0.2 1.8 0.3 1.6 0.7M560.5 468.5l11.2-1.6 9.6-1.8 10.1-2.5 10.4-3.1 9.1-3.5 9.3-4.2 8-4.4 7-4.7 6.1-4.8 5.6-5.7 4.1-5.1 3.5-5.9 2.5-6 1.3-6.1 0.3-6.1-0.8-6-1.9-6.1-2.9-5.9-4.1-5.9-4.6-5.1-6.2-5.6-6.6-4.8-7.5-4.5-8.7-4.4-9.9-4.1-9.9-3.3-11.3-3-11.1-2.4-13.4-1.9-14.6-1.3-9.3-0.2-1.6 0.2-1.2 1M560.5 468.5l10-2 8.2-2.2 7.5-2.5 7.9-3.2 7-3.5 6.3-3.7 6.3-4.4 5.4-4.7 4.7-4.8 4.4-5.7 3.1-5.1 2.6-5.9 1.6-5.3 0.9-6.1 0.1-6.1-0.8-6-1.8-6.1-2.6-5.9-3.5-5.9-3.9-5.1-4.7-4.9-5.4-4.8-6.3-4.7-7.1-4.3-7.1-3.7-8-3.3-9-3.2-8.8-2.3-10-2.1-11.6-1.5-7.4-0.4-2.6 0.1-2.9 0.5M560.5 468.5l-0.1-0.1 0.6-0.4 7.6-2.5 6.5-2.7 5.1-2.6 5.6-3.3 4.9-3.5 5-4.4 3.9-3.9 3.9-4.8 3.2-4.9 2.7-5 2.1-5.2 1.7-5.9 0.9-5.3 0.3-6-0.3-6.1-0.8-5.4-1.7-6-2-5.3-2.9-5.8-3.3-5.1-3.8-5-4.5-4.8-5.1-4.5-5-3.9-5.6-3.6-6.3-3.4-6.1-2.7-6.7-2.4-7.6-2.1-7-1.4-7.4-0.8-5.3 0M560.5 468.5l-2.8 0-1.4-0.3 0.5-0.6 5.8-3.1 4.3-2.8 4-3.2 4.1-3.9 3.7-4.2 3.1-4.5 2.8-4.7 2.5-5.5 1.7-4.4 1.4-5.1 1.1-5.3 0.7-5.3 0.3-5.3-0.2-5.4-0.5-5.4-0.9-5.4-1.3-5.3-1.7-5.3-2.2-5.1-2.5-5.1-3-4.9-3-4.2-3.4-4-3.7-3.8-4.2-3.7-4-2.9-4.4-2.7-4.9-2.5-4.6-1.9-5.2-1.5-4.6-1-5-0.5M560.5 468.5l-9.1 0.4-2.3-0.1-0.5-0.1-0.4-0.3 4.7-4.4 2.2-2.5 2.5-3.2 2.4-4 2.2-4.3 2.1-5.1 1.6-4.8 1.5-5.5 1.1-5.7 0.9-5.9 0.5-5.9 0.1-6.1-0.1-6.7-0.5-6.1-0.8-6-1.1-6-2.4-9.1-3.2-8.7-3.8-7.6-4.2-6.6-4.7-5.4-5.2-4.3-5.1-2.9-3.1-1.2-2.8-0.7M560.5 468.5l-16.1 1-4.3 0-0.8-0.1-0.4-0.3 2.5-5.7 1.8-6 1.7-7.9 1.3-8.7 0.9-10 0.6-10.4 0.1-11.4-0.3-10.8-0.7-10.7-1.1-10.4-1.4-9.4-1.8-8.7-2-7-2.3-5.6-2.4-4.1-1.3-1.4-1.5-1.2M505.5 468.5l17.1 1.1 6.4 0.1 0.8-0.1 0.3-0.3-1.3-5.8-0.9-5.9-1.5-16.6-0.7-20.4 0-22.2 0.9-21.2 1.6-18.1 1-6.9 1.2-5.7 1.2-4.1 1.4-2.7M505.5 468.5l12.5 0.6 2.2-0.1 0.4-0.1 0.2-0.4-3.5-4.1-2.2-2.9-2.1-3.8-2-4-1.9-4.9-1.6-5.2-1.3-5.4-1.1-5.6-1.4-12.3-0.3-6.7 0-6.7 0.9-12.8 2.1-12.6 2-8.3 2.5-7.3 3-6.9 3.2-5.9 3.6-4.9 3.8-3.9 4.3-2.9 4.2-1.7M505.5 468.5l4.9 0.1 1.4-0.2 0.3-0.3-6.4-4.3-3.7-2.9-3.8-3.7-3.4-4.1-3.4-4.9-2.8-5.1-2.4-5.4-1.9-5.7-1.2-4.4-1-5.3-0.6-4.6-0.3-5.3 0-5.4 0.3-4.7 0.6-5.4 0.9-4.7 1.3-5.3 1.7-5.2 2-5.2 2.1-4.4 2.4-4.2 2.6-4.2 3.1-4 3.3-3.8 3.8-3.6 3.6-2.9 3.9-2.7 3.7-2.1 4.1-1.9 3.7-1.3 4.1-1 4.6-0.7M480.1 453.4l-23-2.1-18-0.6M626.7 450.7l-10.5 0.2-11.7 0.8-47.8 4.8-10.4 0.8-9.2 0.3-10.7 0-11.6-0.7-12.4-1.1-22.3-2.4M463.1 429.8l-16.5-1.6-14-1-12.6-0.6-12.1-0.2M657.8 426.4l-14.1 0.3-14.8 0.8-16.1 1.4-45.8 4.5-14.3 1-13.5 0.5-15.5-0.1-16.3-0.8-17.1-1.4-27.2-2.8M459.1 403.3l-17.6-1.7-14.7-1.1-13.6-0.7-12.9-0.2M665.3 399.6l-15.1 0.3-15.4 0.9-16.6 1.4-47.5 4.7-15.5 1.1-14.8 0.5-17 0-17.8-0.8-18.5-1.5-28-2.9M467.7 376.9l-16-1.7-12.5-1.1-11.9-0.6-11.8-0.2M650.2 373.3l-13.2 0.3-13.4 0.7-13.8 1.3-42.1 4.6-14.1 1-13.6 0.6-15.6-0.1-16.2-0.7-16.7-1.5-23.8-2.6M489.8 353.6l-18.3-2.4-7.6-0.5-8.2-0.1M610 350.6l-8.6 0.1-8.2 0.6-35 4.8-10.1 0.9-9.6 0.4-11.4 0-11.5-0.6-11.5-1.2-14.3-2"/></g><g clip-path="url(#cR3)"><g transform="translate(394,474)" filter="url(#fR)"><rect width="278" height="144" fill="rgb(18,18,18)"/><path fill="rgb(21,21,21)" d="M175.5 135l-23.5 0-42-2-56 0-30 0.5-24-0.5-0-133 278-0 0 133-69 0-33.5 2z"/><path fill="rgb(24,24,24)" d="M173 129l-13 0.5-12.5-0.5-12.5-2-22-5.5-10.5-1-46.5 0-8.5 1-15.5 2.5-7.5 0.5-8.5-0.5-16-2.5-0-121.5 278-0 0 121-12 0.5-27.5-1-20.5 0.5-9 1.5-22 5-14 1.5z"/><path fill="rgb(27,27,27)" d="M168.5 125.5l-17.5 0-14.5-3-16.5-6.5-13.5-7.5-6.5-1.5-25-1-17 1-7 1.5-16 7.5-9.5 2-5 0-5.5-1-15-5-0-112 278-0 0 112-6.5 0.5-6.5 0-7-1-16-4-5.5-0.5-6 0.5-10 2-20.5 9-11 4-9 1.5-11.5 1.5z"/><path fill="rgb(30,30,30)" d="M170 122.5l-9 0.5-9.5-0.5-15-3.5-9.5-4.5-8-5-4-4.5-6.5-9.5-13-3-16-2.5-16.5-0.5-5 0.5-4 1-4.5 3.5-7 9-4.5 4.5-5 3.5-5.5 1.5-5.5 0.5-6-1.5-8-2.5-8-4.5 0-93.5 15.5-7.5 9-2.5 5.5-1 14.5 0.5 8.5-1 10 0 7.5 1 8.5 1.5 28.5 9.5 16 2.5 44.5 0.5 17.5-0.5 8-1.5 19.5-7.5 6-1.5 6.5 0 6 0 7 1.5 28 7.5 11.5 1.5 0 91.5-8 1-8.5-1-7.5-3-12.5-8-3.5-1-4 0-5 1.5-8.5 3.5-14 11-12 6.5-10.5 4-14 2z"/><path fill="rgb(33,33,33)" d="M167 120.5l-12 0-8-1-10-3-8-4-6-4.5-3.5-4-2-5.5-1-7-13-8-18.5-7.5-10-3.5-3-1.5-9.5-6.5-6-5-3-4-5.5-8.5-8.5-3.5-2.5 0-2 1-1.5 2 0 2.5 1 6.5 5 17.5 0 19.5-0.5 5-2 4.5-1.5 3-3 3-3 1.5-3.5 1-3.5 0-3.5-0.5-9.5-4-5-3-4.5-3.5 0-66.5 11.5-3 3-1.5 1.5-2 1.5-6.5 2-4 3.5-3.5 4-2 4.5-0.5 12 0.5 15.5-1.5 6.5 0.5 7 1.5 7.5 2.5 9.5 5 17.5 12 5 5.5 4.5 5.5 7 14 11.5 13.5 3.5 2 6 1.5 12.5 0.5 6.5-0.5 20-4 8.5-3.5 6-3.5 2-2.5 1-3 0-4.5-1.5-7.5-0.5-5 0.5-5.5 1.5-5 3-5 4-4.5 5-3.5 5.5-2.5 5.5-1 5.5 0.5 9 2 8 3 11.5 6.5 14 10.5 6 5.5 0 61.5-4 1-4.5 0.5-4.5-0.5-4-1.5-6.5-4-7.5-8.5-4.5-4-5-2.5-4.5-0.5-3.5 1.5-5.5 4.5-8.5 7-2.5 4-4 4.5-5.5 5-6 4-6.5 3-6.5 2.5-8.5 2-9 1z"/><path fill="rgb(37,37,37)" d="M168.5 118.5l-12.5 0-9-1-10-3-9-5.5-4-3.5-2.5-4-0.5-4.5 0.5-5.5-14.5-11-15.5-10.5-13.5-7-11.5-7.5-5-4.5-6-9-3-3-7.5-3-17-4.5-2.5-1.5-2.5-2.5-1-3 0-3.5 1.5-3.5 3-3 3.5-1 13 0.5 15.5-0.5 11 1.5 10 4.5 8 4.5 15 12 10 13.5 2.5 5.5 1.5 5.5 12.5 15 4 3.5 4.5 2.5 6 2 5.5 1 14 0.5 17.5-4 13-5 6-3.5 5-3.5 5.5-6.5 1.5-6-0.5-4.5-3.5-6.5-1.5-5 0-5 1-5 2-4.5 3-4 4-2.5 4.5-2 6-0.5 7.5 1 6.5 2 8.5 4 6 4 14 11.5 4.5 4.5 4.5 6 0 48-4 1.5-4 0.5-4-0.5-4-1.5-4.5-3.5-8.5-11-7-7-5-2.5-4.5-0.5-2.5 1-2.5 2-9 10.5-6.5 6.5-1.5 3.5-2 3-9.5 8.5-7 4-7.5 3-7 1.5-9 1.5zM24 109l-5-1-6.5-3.5-7-4.5-5.5-5.5 0-55 1-0.5 5-1 5.5 0.5 4.5 1.5 3.5 3 3.5 5.5 8.5 22.5 4 23-0.5 5.5-1 3.5-2.5 3-3.5 2-4 1z"/><path fill="rgb(40,40,40)" d="M169 117l-12 0.5-9-1.5-10-3-9.5-5.5-3.5-3.5-2-4 0.5-4.5 1.5-4-5.5-5-30.5-22.5-9-5-11.5-8-3.5-3-6.5-8.5-3-2.5-4.5-2-20.5-6-3.5-1.5-1.5-1.5-1-2.5 0-2.5 1-2.5 2.5-2 2.5-0.5 12.5 0.5 17.5-0.5 10 2 14.5 7 10.5 7.5 9 9.5 6 9.5 1.5 4.5 0.5 4 14.5 18 4.5 3.5 4 2.5 10 3 8.5 1 8.5 0 17-3 14-5 7-4 5.5-4 6.5-7.5 2.5-7.5 0-6-4-8.5-1-3.5 0-4 0.5-4 2-4 2.5-3 3-2.5 4-1.5 6 0 8 1.5 7 3 7 4 19.5 16.5 4.5 5.5 4 6.5 0 38.5-1.5 1-3.5 1.5-3.5 0-3.5-0.5-3.5-1.5-3.5-3.5-7.5-11.5-7-8-6-4-2.5-1-2.5 0-3.5 1.5-4 4-8.5 11-7.5 8-0.5 3-1.5 3-8 7-7 4.5-8 4-7 1.5-9 1.5zM26 107.5l-2.5 0.5-3-0.5-6.5-4-7-5-7-8 0-47 1-0.5 3.5-1 3.5 0 3.5 1 3 1.5 4 4.5 5 11 4.5 12.5 1.5 9.5 4 15 0 3.5-2 3.5-2.5 2.5-3 1z"/><path fill="rgb(43,43,43)" d="M167.5 116l-11.5 0-8.5-1-9.5-3-9-5-3.5-4-1-4 0.5-4.5 2.5-3.5-6-6.5-20.5-14-10.5-8-9.5-5.5-10.5-7.5-4-3-6.5-8.5-2.5-2-4.5-2.5-18-5.5-6.5-2.5-1.5-2.5 0.5-3 1.5-1.5 2-0.5 30-0.5 8.5 2 16.5 7.5 10 7.5 8 9 5 9 1 4 0 3 15 21 9 5.5 10.5 2.5 11.5 1.5 6.5 0 17-3 14-5 7.5-4 5.5-4 7-7 2.5-4.5 1.5-4.5 0-4-0.5-4.5-3.5-8.5-1-3.5-0.5-3.5 1-3 1-3 2.5-3 3-2 3-1 5.5 0 7.5 2 7 3 6.5 3.5 19 17 4.5 5.5 4 7.5 1.5 2.5 0 30.5-3 2-3 1-3 0.5-3-1-3-1.5-3-3.5-6.5-11.5-7.5-9.5-7-4.5-3-1.5-2.5 0.5-4 1.5-5 5.5-8.5 12-7 8-0.5 3.5-1.5 2.5-7.5 7-7 4.5-8 4-7.5 1.5-9.5 1.5zM26 106.5l-2.5 0.5-3-1-8-4.5-6.5-6-6-8.5 0-41 1.5-1 5-1 4.5 1 4 3 3 5 7 19.5 2 9.5 5.5 14.5-0.5 3.5-1 3-2 2-3 1.5z"/><path fill="rgb(46,46,46)" d="M116 76l-2-0.5-10.5-5.5-11.5-8.5-10-6-9-6-5-4-7-8.5-3-2.5-3.5-2-19.5-7-3.5-2-0.5-1.5 1-1 3.5-0.5 18.5-2 7 0.5 8 1.5 7 3.5 6.5 2 5 3 9.5 7.5 4 4.5 3.5 5 3.5 7 0.5 7 7.5 13.5 0.5 1.5-0.5 1zM168.5 115l-8.5 0.5-8.5-0.5-8-2-6-2.5-7.5-4-2.5-2.5-2-4.5 0.5-4.5 2.5-3 5.5-3 25 2.5 7-0.5 14.5-3 13.5-4.5 7-3.5 6-4 8.5-7.5 3.5-8 0.5-5.5-0.5-5-4.5-11-1-4.5 0.5-3 1.5-3 2-2.5 2.5-1.5 4.5-1.5 5 0.5 9 3 9 5 19 17 4 5.5 5 8 2.5 6 0 24-3.5 3-2.5 0.5-3 0.5-3-1-2.5-1.5-3-3.5-5.5-11-7.5-10-3-3-5-3.5-3-1-2.5-0.5-5.5 3-6.5 6.5-7 12-7.5 8.5 0 3-1 2.5-6.5 6.5-6.5 4.5-8.5 4-7.5 2-9 1.5zM26 105.5l-3 0.5-2.5-0.5-9-6-5.5-6-6-9 0-37 2-1 4.5-1 4 1 3.5 2.5 2 4 7.5 20.5 2 8.5 6 14.5 0 3-1 2.5-2 2.5-2.5 1z"/><path fill="rgb(49,49,49)" d="M108.5 68.5l-2.5 0-3-1-25-16-9-6.5-9.5-11-16-7.5-2.5-2 0-1 2-1 8.5-2 5.5-0.5 5.5 0 6.5 2 7 3.5 6 1.5 6.5 3.5 5 3.5 4.5 4.5 3.5 4.5 3.5 5 2 6 0 2.5-0.5 2.5 2.5 7.5-0.5 2zM272.5 94.5l-5 0-4.5-2.5-1.5-2.5-5-10.5-6.5-9.5-4.5-4.5-6.5-5-3-1-2.5 0-9.5 4.5-1 0.5-1-0.5-1.5-13.5-1.5-4.5-3-6-1-4 0.5-5 3.5-4 3.5-2 4.5 0 7.5 2 6.5 3 9 5.5 12.5 11.5 5 5 6 10 4.5 10 0 19-2.5 2.5-3 1.5zM25 105l-2.5 0-2.5-1-5.5-3.5-4-3-5.5-7-5-9 0-32.5 2.5-1.5 4-1 3.5 1 3 2 2 3.5 7 21 2.5 8.5 6 14.5 0 2.5-1 2.5-2 2-2.5 1zM165 114.5l-14-0.5-9-2.5-5.5-2-6.5-4-2.5-2.5-1.5-4 1-4 2.5-2.5 4-1.5 22.5 1.5 6 0 6-1 13-2.5 15-5 9-4.5 8.5-5 2-0.5 0 2.5-2 4.5-3 4.5-4 4.5 0.5 3.5-1 2.5-7.5 7.5-6.5 4-8 4-8 2-11 1z"/><path fill="rgb(53,53,53)" d="M104 64.5l-2.5 0-3-1.5-15-9-9.5-6-5-4.5-8.5-10-11.5-6.5-1.5-1.5 0-1.5 2-1.5 5-1.5 5 0 4.5 0.5 5.5 1.5 6.5 3.5 3 0 3.5 1.5 7.5 4 8.5 8 4 5 2 4.5 1.5 6-1 3.5 0 4.5-1 1zM272 94l-4.5 0-4-2.5-1.5-2.5-4.5-10-5.5-8.5-4-5-5.5-4.5-4.5-3-3-1-2.5 0-6 2.5-2-1-3.5-11-4-8-1-3.5 0.5-5 3-4 3.5-1.5 4-0.5 7.5 2.5 6 2.5 9 6 12.5 11 5 5.5 7 11.5 2.5 6.5 1.5 4.5 0 14-2.5 3.5-3.5 1.5zM26 104l-2.5 0.5-2.5-0.5-4.5-3-5-3.5-5.5-6.5-5-9-1-3.5 0-28.5 2.5-2 3.5-0.5 3.5 0.5 2.5 2 2 3 9.5 29.5 6 14.5 0.5 2.5-1 2-3 2.5zM169.5 113.5l-8 0.5-8.5-0.5-7-1.5-6.5-2-6.5-3.5-4.5-3-1.5-3.5 0.5-4 2.5-3 4-1.5 10.5 1.5 12 0.5 12.5-1 19.5-4.5 18.5-7.5 2 0 1 0.5 0 1.5-1 2-4 5 1 3-0.5 3-7 7-6 4-7.5 4-7 1.5-8.5 1.5z"/><path fill="rgb(56,56,56)" d="M101 62l-3-1-14-7.5-11.5-8-3.5-3-8-10-8.5-5.5-1-1.5 0-1 2-1.5 3-0.5 4.5-0.5 4 0.5 5 1.5 6 3.5 3 0 4 1 8 5 8 8 3.5 4.5 2 4.5 0.5 3.5 0 2.5-2 2.5-0.5 2.5-1.5 0.5zM271 93.5l-4-0.5-3.5-2.5-7-14.5-5.5-8-4.5-5-7-5.5-3.5-2-3 0-5.5 1-2-1.5-9-18.5 0.5-5 1-2 2-2 3.5-1.5 3.5 0 7.5 2 5.5 2.5 9 6 12.5 11.5 5 5 4 6.5 4 7 2 6 1 5.5 0.5 7.5-1 3.5-2.5 3-3.5 1.5zM25.5 103.5l-2.5 0.5-2.5-1-4.5-3-4.5-3.5-5-6.5-5-8.5-1.5-5.5 0-25 3-2.5 3-0.5 3 0.5 2.5 2 2 3 9 28 6.5 15.5 0 2-0.5 2-1 1.5-2 1zM169.5 113l-8 0.5-8-0.5-6.5-1-6.5-2-6-3-5-3.5-2-3.5 0.5-3.5 2-3 3.5-1.5 13.5 2 17 0 19-3.5 19.5-6 2.5 0.5 0 1.5-1.5 2.5 1.5 2.5 0 3-3 4-5 4.5-6.5 4-6.5 3-6 1.5-8.5 1.5z"/><path fill="rgb(59,59,59)" d="M99.5 59.5l-6-2-9-4.5-12-8.5-3-2.5-8-10.5-5.5-4.5-0.5-2 1-1 3-0.5 3.5 0 4 0.5 4 1.5 5 3 3.5 0 4.5 1 7.5 5 4 3.5 4 4.5 3 4.5 1 3.5 1 3.5-0.5 2.5-1.5 1.5-3 1.5zM270.5 93l-3.5-0.5-3-2.5-6.5-14-5.5-8-4-4.5-11-8.5-3-1-6 0-2-1.5-7-12.5-1.5-3.5-0.5-2.5 1-2.5 2.5-3.5 3-1.5 3.5 0 7.5 2.5 6 3 9 6 12 10.5 4.5 5 4 6.5 4 7 2 5.5 1 5.5 0.5 7.5-0.5 3-2.5 3-4 1.5zM24.5 103l-2 0-3.5-1.5-7.5-6-5-6.5-4.5-8-2-8 0-21 1.5-1.5 2-1.5 3-0.5 2.5 1 2.5 1.5 1.5 2.5 9 28.5 6.5 15.5-1 3.5-1 1.5-2 0.5zM169.5 112.5l-8 0.5-8-0.5-12-2.5-6-3-5.5-4-2-3 0.5-3.5 2-2.5 3.5-1 15.5 2 8 0.5 11-1 29.5-6.5 1.5 0 0.5 1 2.5 1 1.5 1 0.5 2.5-2 3-4.5 5-5.5 4-10.5 4.5-12.5 2.5z"/><path fill="rgb(62,62,62)" d="M100.5 58l-3.5 0-5-1.5-8-4.5-11-7.5-3-3-10.5-13.5-1-1.5 0.5-1 3.5-1 5.5 1 8 4 3.5-0.5 4.5 1.5 7.5 4.5 6.5 6.5 4.5 7.5 1 3.5 0 2.5-1 2-2 1zM272 92l-4 0-3-2-7-14-5.5-8.5-4-4.5-11-8.5-3-1.5-6-1-2.5-2-6.5-10-1.5-3 0-4.5 2.5-4 3-1.5 3.5 0 7 2.5 5.5 2.5 9 6 12 10.5 4 4.5 3.5 5 4 7 3 6 1 5 0.5 11-1.5 3-3 2zM25.5 102l-2 0.5-2.5-1-4.5-2.5-4-3-5.5-6.5-4-8-3-11.5 0-17 1.5-2 2-1 2.5-0.5 2.5 0.5 2.5 1.5 1.5 2 9 28.5 6 14.5 0 3-2 2.5zM163 112.5l-12-0.5-7-2-5-2-9-5.5-1.5-3 0.5-3 2-2 3-1 16 2 13 0.5 28-5 3.5 0.5 6.5-1.5 2 1.5 0.5 2.5-3.5 4.5-5 4.5-5.5 3.5-6 3-5 1-9 1.5-6.5 0.5z"/><path fill="rgb(65,65,65)" d="M99.5 57.5l-4 0-4.5-2-19-13-9-12-1-2.5 0.5-1.5 2.5-0.5 2.5 0 4 1.5 4.5 2.5 3-0.5 3.5 0.5 4.5 2 5 4 6.5 6.5 4 7 0.5 3-0.5 2.5-1 1.5-2 1zM272 91.5l-4 0-3-2-6.5-13.5-5.5-8.5-4-4.5-11.5-9.5-3-1.5-5.5-1-3-2.5-6-9-1.5-3 0-4 2.5-3.5 2.5-1 3-0.5 7 2 5.5 2.5 8.5 6 12 10.5 4.5 4.5 7 11 3 6 1.5 5 0.5 6 0 6-1.5 3-2.5 1.5zM24.5 101.5l-2 0-3.5-1.5-7-5-4-5.5-5-8.5-3-13.5 0-13 1.5-2.5 2-1.5 2.5-0.5 2.5 0.5 2 1.5 1.5 2 9 28 5.5 14 0 3.5-0.5 1-1.5 1zM166 112l-13-0.5-12-3-5-2.5-5.5-3.5-1-2.5 0-3 2-2.5 2.5-0.5 16.5 2 14 0.5 23-2.5 11-2.5 2 0 1.5 0.5 0 2.5-2.5 4-4.5 4-5 3.5-10 4-14 2z"/><path fill="rgb(69,69,69)" d="M99 57l-4-0.5-4.5-2-18-12.5-3-3.5-4-6-1-3 0-1.5 1.5-0.5 2.5 0 8 3.5 2.5-1 3.5 0.5 4.5 2 5 3.5 6.5 7 3.5 6.5 0.5 2.5-0.5 2.5-1 1.5-2 1zM272 91l-3.5 0-3-2-6.5-13.5-5.5-8-4-5-11.5-9.5-3-1.5-6-2-3-2.5-5.5-7.5-1.5-3 0-4 2-3 2.5-1 3-0.5 7 2 5.5 2.5 8 5.5 16.5 15 7 10.5 4.5 11 0.5 5.5 0 6.5-1 2.5-2.5 2zM24.5 100.5l-2 0-3-1-6.5-4.5-5.5-6.5-4-7.5-3-12.5-0.5-9.5 1-5.5 1-1.5 2-1.5 2.5 0 2 0.5 1.5 1 1.5 2 9 28 5 13.5 0.5 3.5-1.5 1.5zM167.5 111.5l-14.5 0-11-3-6-3-5-3.5-1-2 0-2.5 1.5-2 2.5-1 16 2 12.5 0.5 11.5-0.5 8.5-1 15-3.5 2 0.5 1 0.5 0 2.5-2 3-4 4-4.5 3-9 3.5-13.5 2.5z"/><path fill="rgb(72,72,72)" d="M98.5 56.5l-3.5-0.5-4.5-1.5-17.5-12.5-5.5-8-1-3 0-1.5 1-0.5 2.5 0 6.5 3 2.5-1 3.5 0 4.5 2 5 3.5 5.5 6 3.5 6.5 1 2.5-0.5 2.5-1 1.5-2 1zM272 90.5l-3.5 0-2.5-1.5-7-14-5.5-8.5-3.5-4-11.5-9.5-3.5-2-6-2.5-3.5-3-4.5-6.5-1.5-2.5 0-3.5 2-3 2.5-1.5 2.5 0 7 2 5.5 2.5 8 5.5 12 10.5 4.5 4.5 6.5 10 4.5 11 0.5 6 0 6-1 2.5-2 1.5zM24 99.5l-2 0.5-2.5-1-6.5-4.5-4.5-5.5-4.5-8-2.5-11.5-1-9 0.5-6 1-2 2-1 2-0.5 2 0.5 2 1 1 1.5 9.5 29 4 11 0.5 4-1 1.5zM169 111l-15 0-12-3-5-2-5.5-4-1-2 0-2.5 1.5-2 2-0.5 16 2 12.5 0.5 14-1 20-3.5 2 0.5 1 0.5-0.5 2.5-2 3-4 3.5-4 2.5-8 3.5-12 2z"/><path fill="rgb(75,75,75)" d="M271.5 90l-3 0-2.5-1.5-6.5-13.5-5.5-8.5-3.5-4-12-10-9.5-4.5-3.5-3.5-4.5-6-1-2.5 0.5-3.5 1.5-2.5 2.5-1 3 0.5 6 1.5 5.5 2.5 7.5 5 16.5 15 6.5 10.5 4.5 10.5 0.5 6 0 6-1 2.5-2 1zM98 56l-3.5-0.5-4.5-2-7.5-6-9.5-6.5-4-6.5-1-2.5 0.5-1 2.5-0.5 5.5 2.5 2.5-1.5 3.5 0 4.5 2 5 3.5 5.5 6 3.5 6 0.5 3-0.5 2-1.5 1.5-1.5 0.5zM23.5 98.5l-1.5 0.5-2.5-0.5-6-4-4.5-5.5-4.5-8-2.5-11-1-8 0.5-7.5 1.5-2 1.5-1 2 0 2 0.5 2 3 9.5 28 3.5 10 1 3.5-1 2zM165 111l-12-0.5-11-2.5-5-2.5-5-4-1-2 0-2 1.5-1.5 1.5-0.5 16 1.5 12.5 1 13.5-1 19-3 2 0 1 1-0.5 2.5-2.5 3-4 3-5 3-8.5 3-12.5 1.5z"/><path fill="rgb(78,78,78)" d="M271.5 89.5l-3 0-2-1.5-7-13.5-5-8-4-4.5-12-10-9.5-5-3.5-3-4-5.5-1-2.5 0-3 1.5-2 2.5-1.5 2.5 0 6 2 5.5 2.5 8 5 16 14.5 6.5 10.5 4.5 10.5 0.5 5 0 6.5-0.5 2-2 1.5zM98 55.5l-4-0.5-4.5-2-4-3-4-4-8-5.5-3-5-0.5-3 2.5-0.5 4.5 2 2-2 3.5 0 4.5 2 4.5 3 5.5 5.5 3 6 0.5 4.5-0.5 1.5-2 1zM21.5 98l-4.5-1.5-5-4-4-6-3.5-6.5-2.5-10-0.5-8 0.5-7 1-2 1.5-1 2.5 0 2 1 3 7 11.5 33.5 0 3.5-2 1zM167.5 110.5l-14.5 0-10-2.5-4.5-2-4.5-3.5-2.5-2.5 0-2 1-1.5 2.5-0.5 25.5 2 14-0.5 19.5-2.5 2 0 1 1-0.5 2-2.5 3-8 5-7 2.5-11.5 2z"/><path fill="rgb(81,81,81)" d="M271.5 89l-2.5 0-2-1-7-13.5-5-8-4-4.5-12-10.5-9.5-5-3.5-3-5-7.5 0-2.5 1.5-2.5 2.5-1 3.5 0.5 5 1.5 5 2.5 7.5 5 16 14.5 6.5 9.5 4.5 10.5 0.5 5 0 7-0.5 1.5-1.5 1.5zM97.5 55l-5-1-6-3.5-6-6-6.5-4.5-2-3.5 0-2.5 1.5-0.5 3.5 1.5 2-2.5 3 0 4.5 1.5 5 3.5 5.5 5.5 3 5.5 0.5 2.5-0.5 2-1 1.5-1.5 0.5zM21.5 97l-1.5 0-2.5-1-5-3.5-4.5-6-3-6.5-2.5-11-0.5-6.5 0.5-7.5 1-1.5 1.5-1 2 0 2 1.5 3.5 8 10 30.5 0 3-1 1.5zM169.5 110l-14 0.5-10-2-5-2-4-2.5-4-3.5-0.5-2 1-1.5 2.5-0.5 25 2 13.5-0.5 18.5-2 2 0 1 0.5 0 1.5-2 2.5-7 5-6.5 2.5-10.5 2z"/><path fill="rgb(84,84,84)" d="M271 88.5l-2 0-1.5-1-7-13.5-5.5-8-3.5-4-12.5-11-10-5-3.5-3.5-4-6.5 0-2.5 1.5-2 2-1 4.5 0.5 4.5 1.5 5 2.5 7.5 5 15.5 14 6.5 10.5 4 9.5 1 5-0.5 5.5-0.5 2.5-1.5 1.5zM97.5 54.5l-4.5-0.5-6-3.5-4-3.5-3.5-4.5-5-3.5-1-3 1.5-0.5 2.5 1 1.5-3 2.5-0.5 4 1 5 3 5 5 3.5 5.5 1 4.5-1 1.5-1.5 1zM21 96l-1.5 0-2-0.5-5-3.5-4-5.5-3.5-7-2-9-0.5-6.5 0.5-8.5 0.5-1.5 1.5-1 2 0 1.5 1 3.5 8 9.5 29 0.5 3.5-1 1.5zM166.5 110l-12.5 0-10-2.5-4-1.5-4-3-2.5-2.5-0.5-2 1-1 3-0.5 23.5 1.5 13 0 17.5-2 2 0 1 1-0.5 2-2 2-7 4.5-7 2.5-11 1.5z"/><path fill="rgb(88,88,88)" d="M270.5 88l-1.5 0-1.5-1.5-7-13-5-7.5-4-4.5-12.5-11-9.5-5-3.5-3-4-6.5 0-2 1-2 2-1 4.5 0.5 5 1.5 4.5 2.5 6.5 4.5 16 14 6.5 10 4 10 1 4.5-0.5 5.5-0.5 3-1.5 1zM97.5 54l-3 0-3.5-1-4-3-3.5-3-4.5-7-1-3.5 1-2.5 3-1 3.5 1 4.5 3 4 3.5 3.5 4.5 1.5 4 0.5 3-2 2zM20.5 95l-1.5 0.5-2-1-4-3-4.5-6-3-6-2-9-1-6.5 1-8.5 1.5-2 1.5 0 1.5 1 4.5 9 8.5 27 0 3-0.5 1.5zM168.5 109.5l-14.5 0-8.5-2-4-1.5-4.5-2.5-2.5-2.5-0.5-2 1-1 3-0.5 22.5 1.5 13-0.5 15.5-1 2.5 0 1 0.5 0 1.5-1.5 2-6 4-6 2-10.5 2z"/><path fill="rgb(92,92,92)" d="M270.5 87l-1.5 0-1.5-2-7-12-5-7.5-3.5-4-12.5-11-10-5.5-3.5-3-3.5-6 0-2 1-1.5 2.5-1 4 0.5 4.5 1.5 4 2 7.5 5 15 13.5 6.5 10 4 9.5 1 4 0 4.5-1 3.5-1 1.5zM97 53.5l-2.5 0.5-3.5-1.5-3.5-2-3.5-3.5-3-4-2-3.5-0.5-3 1-2 2.5-1 4 1 4 2.5 4 3.5 3 4.5 2 4 0 3-2 1.5zM19.5 94.5l-3-0.5-3.5-3-4-5-3-6.5-2-8.5-1-6.5 1-7.5 0.5-2 1-0.5 1.5 0 1.5 2 4 8.5 7.5 25 0.5 3-1 1.5zM165 109.5l-11 0-8.5-2-7-3.5-2.5-2.5-1-2 1.5-1 3-0.5 21 1.5 12.5-0.5 15.5-1 2 0 1 1-0.5 1.5-2 2-7 4-7.5 2-9.5 1z"/><path fill="rgb(99,99,99)" d="M270 84l-1.5 0-1.5-2-10-15.5-5-6-12.5-11-9.5-5-3-3-3-5 0-1.5 0.5-1.5 2.5-1 3.5 0.5 4.5 1.5 4 2 6.5 4.5 15 13.5 6.5 10 3.5 8.5 1 6.5-0.5 3-1 1.5zM95.5 53l-2.5-0.5-3.5-1.5-6.5-5.5-2-3.5-1.5-3 0-2.5 1-1.5 2.5-0.5 4 1.5 4 2.5 3.5 3.5 2.5 4 1 3.5-0.5 2.5-2 1zM17.5 92.5l-2.5-1-3-3-3-4-2.5-5.5-2.5-13 0.5-6 0.5-2 1-1 2 1 2 3 5.5 15 3.5 13.5 0 2-1.5 1zM163 109l-10-0.5-8-2-5.5-3-2-2 0-1.5 1.5-1 2.5 0 19 1 24-1 3 0.5 1 0.5-0.5 1.5-1.5 1.5-6 3-8.5 2-9 1z"/><path fill="rgb(105,105,105)" d="M269 81l-1 0-1.5-1.5-9.5-14.5-5-5.5-12.5-10.5-9-5.5-2.5-2-2.5-4 0-2 0.5-1 2-1 3.5 0.5 7 3 6.5 4.5 15 13.5 5.5 8.5 4 8.5 1 5.5-0.5 2.5-1 1zM95.5 52l-2.5 0-3-1-6-5-2-3-1.5-3 0-2.5 0.5-1.5 2.5-0.5 3 0.5 3.5 2.5 3.5 3 2.5 3.5 1.5 3.5-0.5 2.5-1.5 1zM16.5 90.5l-2-0.5-2.5-2.5-2.5-4-2.5-4.5-2.5-12.5 0.5-4.5 1.5-2.5 1.5 1 2.5 3.5 4.5 12.5 2.5 12 0 1.5-1 0.5zM168.5 108l-10 0.5-7.5-1-8-2.5-3-2.5-0.5-1.5 1.5-1 3-0.5 16.5 1 21.5-0.5 3 0.5 0.5 0.5 0 1-1 1-4 2.5-12 2.5z"/><path fill="rgb(112,112,112)" d="M268 78l-2-1.5-9-12.5-5-5.5-12-10-11-7-2-3.5 0-2.5 2-1 3 0.5 7.5 3.5 5 3.5 14.5 13 5 7 3.5 7.5 1.5 6 0 1.5-1 1zM95.5 51l-2 0.5-2.5-1-3-1.5-3-3-3.5-5.5-0.5-2.5 1-1.5 2-0.5 2.5 1 3 1.5 3 2.5 2 3 1.5 3 0.5 2.5-1 1.5zM15.5 87.5l-1.5 0-2.5-2.5-4-6.5-2-11 0.5-3.5 1-1.5 1.5 0.5 1.5 2.5 4 11 1.5 8 0 3zM167.5 107.5l-8 0.5-7-0.5-8-3-2-1-0.5-1.5 0.5-1 1.5-0.5 16.5 0.5 18.5 0 2.5 0 1.5 1-1 1.5-3 1.5-11.5 2.5z"/><path fill="rgb(118,118,118)" d="M266.5 74l-2.5-2-7-9.5-5-5-11.5-10-10.5-6.5-2-2.5 0.5-2 2-1 2.5 0.5 6 3 4 3 14.5 12.5 3.5 4 4 7.5 2 5.5 0 1.5-0.5 1zM94.5 50.5l-2 0-2-0.5-5-4-3-5-0.5-2 0.5-1.5 1.5-0.5 2.5 0.5 3 1.5 2.5 2.5 2.5 3 1 2.5 0 2.5-1 1zM13.5 84.5l-2.5-1.5-2.5-4.5-1.5-9-0.5-2.5 1-1.5 1.5 1 4.5 10.5 1 6-1 1.5zM166.5 107l-13 0-6.5-2.5-1.5-1-0.5-1 2.5-0.5 6.5-0.5 22.5 0.5 3 0.5-0.5 1-3 1.5-9.5 2z"/><path fill="rgb(124,124,124)" d="M264 68l-0.5 0.5-1-1-8-9-12.5-11-11-7-1-1.5 0-1.5 1.5-0.5 1.5 0 5.5 3 4 2.5 11 9.5 4.5 4.5 2 2.5 3.5 6.5 0.5 2.5zM94 49.5l-1.5 0.5-2.5-1-4.5-3.5-2.5-4.5 0-1.5 0.5-1.5 1.5 0 2.5 0.5 4.5 3.5 2.5 4.5 0.5 2-1 1zM12.5 81l-1.5 0-2-3-0.5-5 0.5-2 1.5 1.5 2 4.5 0.5 2.5-0.5 1.5zM167.5 106l-6 0.5-8-0.5-3-1-1.5-1.5 1-0.5 4-0.5 12.5 0 6.5 1-0.5 1-5 1.5z"/><path fill="rgb(131,131,131)" d="M93.5 48.5l-1 0.5-2-0.5-4-3-2.5-4-0.5-1.5 1-1 1-0.5 2 0.5 4 3 2.5 4 0 1.5-0.5 1zM238 42.5l-3.5-1.5-1.5-1.5 0.5-0.5 2 1 3 2-0.5 0.5zM242 45l-4-2.5 0.5-0.5 2 1 2 2-0.5 0zM257 58.5l-9-7-3.5-4 0.5-0.5 7 5.5 4 4 1 2zM166 104.5l-11.5 0-0.5-0.5 6.5 0.5 5.5-0.5 0.5 0.5-0.5 0z"/><path fill="rgb(137,137,137)" d="M92.5 48l-2.5-0.5-3-2-2-3-0.5-1.5 0.5-1 2.5 0 3.5 2.5 2 3 0 1.5-0.5 1z"/><path fill="rgb(143,143,143)" d="M91.5 46.5l-1.5 0-2.5-1.5-1.5-2.5 0.5-1.5 1.5 0 2.5 2 1 2 0 1.5z"/><path fill="rgb(150,150,150)" d="M89.5 44.5l-1-0.5 0-1 1 1 0 0.5z"/></g><path fill="none" stroke="#fff" stroke-opacity="0.8" stroke-width="0.7" d="M505.5 610.3l0.6 0 0.3-0.3-8.3-3.4-4.8-2.3-5.3-3.1-4.8-3.4-4.3-3.6-4.4-4.4-3.3-4-3.3-4.7-2.8-5-2.2-5.1-1.8-5.1-1.3-6-0.7-5.3-0.1-6.1 0.3-5.4 0.9-5.3 1.6-6 2-5.3 2.5-5.2 2.9-5.1 3.6-4.9 4-4.8 4.7-4.6 4.6-3.8 5.2-3.7 5.8-3.4 5.5-2.6 6.1-2.5 7-2.1 6.4-1.4 5.5-0.7 5.4-0.1M505.5 610.3l-9.2-2.1-7.3-2.2-6.7-2.5-7.1-3.2-6.4-3.5-6.5-4.2-5.6-4.5-4.9-4.7-4.2-4.8-3.4-5-2.8-5.2-2.4-5.9-1.3-5.3-0.8-6.1 0-6 0.9-6.1 1.7-6 2.2-5.3 3.2-5.9 3.6-5.1 4.4-5 5-4.8 5.8-4.6 6.6-4.4 6.6-3.6 7.3-3.5 8.3-3.1 8-2.4 9.1-2.1 10.4-1.5 8.3-0.6 4.7 0.5M505.5 610.3l-10-1.5-10.4-2.2-9.2-2.5-9.5-3.2-8.4-3.4-8.5-4.2-7.4-4.5-6.4-4.7-5.5-4.8-5.2-5.7-3.7-5.1-3.2-5.9-1.9-5.4-1.2-6-0.2-6.1 0.8-6.1 1.8-6 2.8-6 3.9-5.9 4.3-5.1 5.9-5.5 6.2-4.8 7.2-4.6 8.2-4.4 8.1-3.6 9.2-3.3 10.4-3.1 10.2-2.4 14.3-2.3 12.8-1.2 8.7-0.2 1.8 0.3 1.6 0.7M560.5 610.3l11.2-1.5 9.6-1.9 10.1-2.4 10.4-3.2 9.1-3.4 9.3-4.2 8-4.5 7-4.6 6.1-4.9 5.6-5.6 4.1-5.2 3.5-5.9 2.5-6 1.3-6 0.3-6.1-0.8-6.1-1.9-6-2.9-6-4.1-5.9-4.6-5.1-6.2-5.5-6.6-4.8-7.5-4.6-8.7-4.4-9.9-4-9.9-3.4-11.3-3-11.1-2.3-13.4-2-14.6-1.2-9.3-0.3-1.6 0.3-1.2 1M560.5 610.3l10-2 8.2-2.2 7.5-2.5 7.9-3.2 7-3.4 6.3-3.7 6.3-4.5 5.4-4.6 4.7-4.9 4.4-5.6 3.1-5.2 2.6-5.9 1.6-5.3 0.9-6 0.1-6.1-0.8-6.1-1.8-6-2.6-6-3.5-5.8-3.9-5.1-4.7-5-5.4-4.8-6.3-4.6-7.1-4.4-7.1-3.6-8-3.4-9-3.1-8.8-2.4-10-2-11.6-1.6-7.4-0.4-2.6 0.2-2.9 0.5M560.5 610.3l-0.1-0.1 0.6-0.3 7.6-2.6 6.5-2.6 5.1-2.6 5.6-3.3 4.9-3.6 5-4.3 3.9-4 3.9-4.7 3.2-4.9 2.7-5 2.1-5.2 1.7-5.9 0.9-5.4 0.3-6-0.3-6.1-0.8-5.3-1.7-6.1-2-5.3-2.9-5.8-3.3-5.1-3.8-4.9-4.5-4.8-5.1-4.6-5-3.8-5.6-3.7-6.3-3.4-6.1-2.6-6.7-2.5-7.6-2.1-7-1.4-7.4-0.8-5.3 0.1M560.5 610.3l-2.8 0-1.4-0.2 0.5-0.6 5.8-3.1 4.3-2.9 4-3.1 4.1-3.9 3.7-4.3 3.1-4.5 2.8-4.6 2.5-5.5 1.7-4.4 1.4-5.2 1.1-5.2 0.7-5.3 0.3-5.4-0.2-5.4-0.5-5.4-0.9-5.3-1.3-5.4-1.7-5.2-2.2-5.2-2.5-5-3-5-3-4.1-3.4-4-3.7-3.9-4.2-3.6-4-2.9-4.4-2.8-4.9-2.5-4.6-1.8-5.2-1.6-4.6-0.9-5-0.5M560.5 610.3l-9.1 0.5-2.3-0.1-0.5-0.1-0.4-0.4 4.7-4.4 2.2-2.5 2.5-3.2 2.4-4 2.2-4.3 2.1-5.1 1.6-4.7 1.5-5.6 1.1-5.7 0.9-5.8 0.5-6 0.1-6-0.1-6.8-0.5-6-0.8-6.1-1.1-5.9-2.4-9.1-3.2-8.7-3.8-7.7-4.2-6.5-4.7-5.4-5.2-4.4-5.1-2.9-3.1-1.2-2.8-0.6M560.5 610.3l-16.1 1-4.3 0.1-0.8-0.1-0.4-0.4 2.5-5.7 1.8-5.9 1.7-7.9 1.3-8.7 0.9-10 0.6-10.4 0.1-11.4-0.3-10.9-0.7-10.7-1.1-10.4-1.4-9.3-1.8-8.8-2-6.9-2.3-5.7-2.4-4.1-1.3-1.3-1.5-1.2M505.5 610.3l17.1 1.2 6.4 0.1 0.8-0.1 0.3-0.4-1.3-5.7-0.9-6-1.5-16.6-0.7-20.3 0-22.3 0.9-21.1 1.6-18.1 1-7 1.2-5.7 1.2-4.1 1.4-2.6M505.5 610.3l12.5 0.7 2.2-0.1 0.4-0.2 0.2-0.3-3.5-4.2-2.2-2.9-2.1-3.7-2-4.1-1.9-4.8-1.6-5.2-1.3-5.4-1.1-5.6-1.4-12.4-0.3-6.6 0-6.8 0.9-12.8 2.1-12.5 2-8.3 2.5-7.4 3-6.9 3.2-5.9 3.6-4.9 3.8-3.8 4.3-3 4.2-1.6M505.5 610.3l4.9 0.1 1.4-0.1 0.3-0.3-6.4-4.3-3.7-2.9-3.8-3.8-3.4-4-3.4-4.9-2.8-5.2-2.4-5.4-1.9-5.6-1.2-4.5-1-5.2-0.6-4.6-0.3-5.4 0-5.4 0.3-4.7 0.6-5.4 0.9-4.7 1.3-5.3 1.7-5.2 2-5.1 2.1-4.4 2.4-4.3 2.6-4.1 3.1-4 3.3-3.9 3.8-3.6 3.6-2.9 3.9-2.7 3.7-2.1 4.1-1.8 3.7-1.3 4.1-1.1 4.6-0.6M480.1 595.3l-23-2.1-18-0.7M626.7 592.5l-10.5 0.3-11.7 0.7-47.8 4.8-10.4 0.8-9.2 0.4-10.7-0.1-11.6-0.6-12.4-1.1-22.3-2.4M463.1 571.7l-16.5-1.6-14-1.1-12.6-0.6-12.1-0.2M657.8 568.2l-14.1 0.3-14.8 0.8-16.1 1.4-45.8 4.5-14.3 1-13.5 0.5-15.5-0.1-16.3-0.7-17.1-1.4-27.2-2.8M459.1 545.2l-17.6-1.8-14.7-1.1-13.6-0.6-12.9-0.3M665.3 541.4l-15.1 0.3-15.4 0.9-16.6 1.4-47.5 4.8-15.5 1.1-14.8 0.5-17-0.1-17.8-0.8-18.5-1.4-28-2.9M467.7 518.7l-16-1.7-12.5-1-11.9-0.7-11.8-0.2M650.2 515.1l-13.2 0.3-13.4 0.8-13.8 1.3-42.1 4.5-14.1 1.1-13.6 0.5-15.6 0-16.2-0.8-16.7-1.4-23.8-2.7M489.8 495.4l-18.3-2.3-7.6-0.5-8.2-0.2M610 492.4l-8.6 0.2-8.2 0.6-35 4.7-10.1 0.9-9.6 0.5-11.4 0-11.5-0.6-11.5-1.2-14.3-2.1"/></g><g clip-path="url(#cR4)"><g transform="translate(394,616)" filter="url(#fR)"><rect width="278" height="144" fill="rgb(40,40,40)"/><path fill="rgb(43,43,43)" d="M278 144l-69.5 0-17-3-13-1.5-63-2-14 0.5-12.5 1-30 5-59 0-0-144 278-0 0 144z"/><path fill="rgb(46,46,46)" d="M253 142.5l-14.5 0-14.5-2.5-11-3-18-7.5-5.5-1-32 0.5-45-3-13.5 0.5-12.5 1.5-12 3-25.5 7.5-12 2-7.5 0.5-8-0.5-11.5-1.5-10-2-0-137 278-0 0 138.5-13 3-12 1z"/><path fill="rgb(49,49,49)" d="M256 137l-8.5 0.5-8.5-0.5-8-1.5-6.5-2.5-4.5-2.5-2-2.5-0.5-2.5 0-6-2-3.5-5.5-3-7.5-1-11.5 1-20.5 5.5-11 1.5-14-1-34-5-10-0.5-8.5 1-9 2-9.5 3-27 14-6 1.5-6.5 1.5-7 0-7.5-1-10.5-2.5-10-3-0-130 278-0 0 132.5-11 3-11 1.5z"/><path fill="rgb(53,53,53)" d="M34.5 133l-7 0-7.5-1.5-9.5-3-10.5-5 0-123.5 20 0 6 1 17.5 3 25.5 3.5 33 8.5 8.5 2 13.5 2 13 0.5 15.5-1 13-3 11-4.5 24.5-12 77 0 0 127-9 3-9 1.5-9 1-8-0.5-6.5-1.5-4.5-2.5-2.5-2.5-3.5-7-2.5-3-5.5-3.5-7-2-7-1-7.5 0.5-9 1-20.5 4-11 0-15.5-2.5-22-7.5-7-1.5-10-2-8-0.5-9 1.5-8.5 3.5-8 5.5-11.5 11.5-6 5-8 4-8 1.5z"/><path fill="rgb(56,56,56)" d="M33.5 130.5l-7.5-0.5-9-2.5-8.5-4-8.5-5 0-110.5 10-0.5 18 1.5 16.5 2.5 16.5 1.5 7.5 1.5 6 2.5 20.5 10 21.5 16 6.5 4 15 6 4.5 1 4 0.5 5.5-1 5.5-4 23-24 13-11.5 11-7.5 11.5-5.5 2-1 56.5 0 3.5 1.5 0 120-8.5 3.5-8.5 1.5-8 1-7-1-4-1-3.5-2-8.5-8-5.5-3.5-8-3-8.5-1.5-12 0-32.5 4.5-5.5 0-7-1-8.5-2-8-3-19.5-10-14-4.5-13-5-5.5-1-3.5 0.5-3.5 1.5-3.5 3-3.5 3.5-4.5 6.5-7 15-6 7.5-4 3-4 2-4.5 2-5 0.5z"/><path fill="rgb(59,59,59)" d="M36.5 128l-8 0-10-2.5-10-5-8.5-6 0-101 7.5-0.5 12 1 10 0 15 2.5 16.5 0.5 5.5 1 4.5 2 17.5 8.5 6.5 4 16 20.5 3.5 3 8.5 6 5 4 11.5 14.5 6.5 3.5 8 1 8-1.5 4-3 1.5-2.5 1.5-6 8.5-22.5 7-14.5 5.5-7.5 5.5-6.5 6.5-6 7-5 7-3.5 7.5-3 7.5-2.5 8-1 13.5 0 6.5 1 9.5 2.5 9.5 4 0 109.5-6.5 2.5-6.5 2-6 1-6 0-4.5-1-4.5-1.5-12-7-7-3.5-6.5-2-6.5-1.5-12.5 0-29.5 3.5-8.5 0.5-8.5-1-9-2-10.5-4.5-8.5-6.5-4-2.5-15.5-5-6-3-3.5-3-3-4-2.5-5-2-7-2.5-3-4-3-5-2.5-10.5-4-5-1.5-1.5 1-0.5 1.5 0 8.5 1 8.5-3 12.5-1 18-1.5 8.5-2.5 6-4.5 5-5.5 4-6 2z"/><path fill="rgb(62,62,62)" d="M34.5 126.5l-7.5-0.5-11-4-8.5-4.5-7.5-6.5 0-93.5 9-0.5 11.5 2 8 0 12.5 2 5 0 10.5-1 6 0.5 5 1.5 18 7.5 5 2.5 3.5 3.5 7.5 12.5 6.5 8 3.5 3 9.5 6.5 4.5 4 3 3.5 5 9 2.5 3 4 2 4.5 1.5 10.5 0.5 8-0.5 5.5-1.5 5-2.5 3-3 2-4 3.5-15.5 4-13 5-12.5 4.5-7 5-6.5 6-5.5 6.5-4.5 7.5-4 7.5-3 8.5-1.5 8.5-1 8.5 1 8.5 1.5 8 2.5 8 4 0 100.5-2 1-10.5 3.5-5.5 0.5-5 0-9-1.5-21.5-9-12.5-3-11 0-29 3-10 1-8-1-9.5-2.5-8.5-4-3-2.5-4-4.5-2.5-1.5-5.5-2.5-13-3.5-5.5-3-3-3-2-3-4-13-2.5-4.5-5-3.5-12-5.5-5-3-3.5-3.5-5-7-3-2.5-5.5-2-8-1.5-3 0.5-2.5 1-1.5 2 0 2.5 5 18.5 5.5 17 1.5 12.5 3.5 14 0.5 7.5-2 7-4 6.5-5.5 4-7 2z"/><path fill="rgb(65,65,65)" d="M261.5 114.5l-6 0-6.5-0.5-24.5-8.5-14-2.5-9 0-33 3.5-7.5 0.5-5-1-9-2-6-3-4.5-4-1-2.5 0-1.5 1-1 1.5-0.5 16.5 0 10.5-1 8-2 6-3 3.5-3.5 2.5-4.5 5-24 4.5-13 5-9.5 6.5-8 5-4.5 5.5-3.5 5.5-3 6-2 6.5-2 7-0.5 6.5 0 7 0.5 12 3.5 11 6 0 91.5-8 3.5-8.5 2zM36 124.5l-3.5 0.5-4-0.5-12-4-8.5-5-8-7.5 0-88 7.5-0.5 7.5 1.5 10.5 4 1.5 1.5 1.5 2.5 15 53 6 17.5 1 5-0.5 7-3 6-5 4.5-6 2.5zM128 87l-4.5 0.5-9.5-2-6-2-4-2.5-2.5-2.5-1.5-3.5-2.5-13-1.5-4.5-6-3-14-5.5-5.5-3-3.5-4-5-8.5-5-5.5-0.5-1.5 0.5-1 3.5-1 5.5 0 17 5.5 7 4 3.5 5 6 15 1.5 1.5 5.5 4.5 12 7 6 5.5 2.5 4.5 2 5.5 0 3-1 1.5z"/><path fill="rgb(69,69,69)" d="M261.5 111.5l-6.5 0.5-6.5-1-26-7.5-12.5-2-8 0-28 3.5-14 0.5-7-1.5-5.5-2-4-2.5-1-2.5 1.5-1.5 2.5-1 18-2 8-1.5 6.5-2.5 4-2.5 4.5-4.5 2.5-4.5 4.5-24 4-11.5 4-8.5 5.5-7 4.5-4.5 4.5-3.5 10-5 5.5-1.5 6-0.5 12 0 7.5 1.5 7 2 7 3.5 6 4 0 83.5-8 4-8.5 2zM36 123l-4 0.5-4-0.5-6-2-6-2.5-7.5-4.5-8.5-8.5 0-83.5 4-0.5 4.5 0 4 1 4.5 1.5 3.5 2 2.5 2.5 2 3 1.5 3.5 4.5 13 5.5 22 10.5 28.5 1.5 6.5-0.5 6-2.5 5.5-4 4-5.5 2.5zM89.5 50l-4 0-6-1.5-4.5-2-3.5-2.5-2.5-3-1.5-4-1-4.5 0.5-2.5 3.5-0.5 8.5 1 5.5 2 4 2.5 3 4 1.5 5.5-1 4-1 1-1.5 0.5zM121.5 83.5l-4 0.5-5-1-4-1.5-3-2.5-2-3-1-3.5 0-4 1-3 2.5-1 4.5 1 5 2 4.5 3.5 3 4 1 4-0.5 3-2 1.5z"/><path fill="rgb(72,72,72)" d="M261 109l-7 0.5-7-1-27-7-10-1.5-7 0-25 3.5-17 0.5-8.5-2-3-2-1-1.5 1.5-1.5 3-1 16-2.5 9-2.5 5-2 4-3 4-4.5 3-5.5 4.5-23 3-10.5 3.5-7.5 5-7 7.5-7 9-5 10-2.5 11 0 8.5 1.5 8 2.5 7.5 4 6.5 5 0 76-8 4.5-9 2zM36 121.5l-4 0.5-4.5-0.5-6-2-6.5-3-7-4.5-8-8.5 0-79.5 7.5-1 7.5 2.5 6 4 2 3 1.5 3.5 4.5 13 5.5 22 10.5 27 1.5 7 0 5.5-2 5-3.5 3.5-5 2.5zM85.5 47.5l-3.5 0-3.5-1-3.5-2-2.5-2-1.5-2-1-3 0-2.5 1-2 3-1 5.5 0 4.5 1.5 3.5 2.5 2.5 3.5 0.5 4-2 3-3 1zM117 81l-5-0.5-4.5-3-1-2-1-2.5 0.5-2 1-1.5 2.5-1 3 0.5 3 1.5 3 2.5 1.5 3 0.5 2.5-1.5 2-2 0.5z"/><path fill="rgb(75,75,75)" d="M257.5 107l-6.5 0-7-1-27-7-6.5-1-7 0-19 4-14 1-10.5-0.5-3.5-1.5-1-1-0.5-1 1.5-1.5 3.5-1 14-2.5 7.5-2 4-2 4.5-3 3.5-4.5 3-5.5 2-7 2.5-15 2.5-8.5 3.5-9 4.5-7.5 7-7 8-4.5 9-2 10-0.5 9.5 1.5 8.5 3 7.5 4.5 7 5.5 0 69-4.5 3-4.5 2.5-5.5 1.5-6 0.5zM33 120.5l-4.5-0.5-5-1-10.5-5-6.5-5-6.5-7.5 0-76 4-1 4 0 4 1 4 2 3 2.5 2 3 4 8.5 7.5 28.5 10.5 28 2 8-0.5 5.5-2.5 4.5-4 3.5-5 1zM84 45.5l-5-0.5-4.5-3-2-3.5 0-2 0.5-1.5 2.5-1.5 4 0 4 1.5 2.5 2 2 2.5 0 3-1.5 2-2.5 1zM114.5 76.5l-1.5 0-1-0.5-1-1.5 0.5-1 1-0.5 1.5 1 1 1.5-0.5 1z"/><path fill="rgb(78,78,78)" d="M255.5 105l-7-0.5-8-1-25.5-7.5-5-0.5-6.5 0.5-13 3.5-11 1.5-11.5 0-4-0.5-1.5-1 1-1 3-1 18-4.5 5-2.5 2.5-2 3.5-5 3.5-7 2-6.5 3-15 2-8.5 3.5-8.5 3.5-6.5 6-6 7-4.5 8-2.5 9-0.5 10 1.5 9.5 3.5 8.5 5.5 7 6.5 0 62-4.5 3.5-5 2.5-6 1.5-7 0.5zM33.5 119l-4.5 0-5-1-11-5-6.5-5.5-6.5-8 0-72.5 3.5-1 4 0 3.5 1 3.5 1.5 2.5 2 2.5 2.5 3.5 8 3.5 10.5 4.5 19 9.5 23.5 3 11 0 5-2 4.5-3.5 3-4.5 1.5zM82.5 43.5l-3.5-0.5-3-2-1.5-2.5 1-2 2-1 2 0 3 1 2 1.5 1 1.5 0 2-1 1.5-2 0.5z"/><path fill="rgb(81,81,81)" d="M257.5 103l-9.5 0-10-2-10-2.5-15.5-5.5-5.5-0.5-11.5 1-1-0.5 7.5-19 5.5-24 4.5-12.5 2.5-5 4-4.5 4.5-3.5 5.5-2.5 6-1.5 6-0.5 7.5 1 7.5 2 6.5 2.5 6 4 5.5 4.5 4.5 5 0 55.5-4 3.5-4.5 2.5-5.5 1.5-6.5 1zM33.5 117.5l-4 0-5-1-6-2-5-2.5-7-6-6.5-8.5 0-69.5 3.5-0.5 3.5-0.5 3.5 1 3.5 1.5 2.5 2 2.5 3 3 7.5 3 9.5 5 19 8 21 4 12.5 0 5-1.5 4-3 3-4 1.5zM81 40.5l-2-0.5 0-1.5 1 0 1.5 0.5 0 1-0.5 0.5zM185.5 97.5l-3 0 7-3 2.5 0 0 1-1.5 1-5 1z"/><path fill="rgb(84,84,84)" d="M259.5 101l-11 0-11.5-2-9-2.5-12-5-12.5-2-1.5-1-1-1 0.5-4 3-9.5 5-23.5 4-12 2.5-5 3-4 4-3 4.5-2.5 6-1.5 6-0.5 8 1 8 2 6.5 3 6 4 5.5 5.5 4.5 5.5 0 49-3.5 3.5-4 2.5-5 2-6 1zM33.5 116l-4 0.5-4.5-1-6-2-5-2-7.5-6.5-6.5-9 0-66.5 3-1 3.5 0 3.5 0.5 3 1.5 4.5 4 3.5 7.5 3.5 10 4.5 18.5 8 21 3 11 0.5 5-1 4-2.5 3-3.5 1.5z"/><path fill="rgb(88,88,88)" d="M262 99l-13 0-12-1.5-7.5-2.5-11.5-5.5-11-2.5-2.5-2 0-4.5 10.5-41.5 1.5-4 3-4 3-2.5 4-2.5 6-2 6-0.5 9 1.5 8 2.5 7 3.5 6 4.5 5.5 5.5 4 6.5 0 41.5-2.5 4-3.5 2.5-4.5 2.5-5.5 1zM33 114.5l-3.5 0.5-4.5-0.5-6-2-5-2-4-3.5-3.5-3.5-6.5-9.5 0-63.5 0.5 0 3-1 3.5 0 3 1 3 1.5 4 4 4 8.5 2.5 8 4.5 18 8.5 21.5 2 9 0.5 5-0.5 4-2.5 3-3 1.5z"/><path fill="rgb(92,92,92)" d="M261.5 97.5l-13.5-0.5-11-1.5-6.5-2.5-10.5-5-10-3-2.5-2-0.5-3 1-6.5 8-34 2-4 2-3 3-3 3.5-2.5 5.5-1.5 6-0.5 10 1.5 8 3 7 4 6 5 4.5 5.5 4.5 7 0 35.5-2.5 4.5-3.5 3.5-4.5 2-6 1zM31 113.5l-3.5 0-4.5-0.5-6-2-3.5-2-4-3.5-3.5-3.5-6-9.5 0-60.5 1-0.5 3-1 3 0 3 1 3 1.5 3.5 4 4.5 10 6 23 8.5 22 2 8.5 0.5 5-1 4-2.5 2.5-3.5 1.5z"/><path fill="rgb(99,99,99)" d="M267 94.5l-4 0.5-10-1-14.5-2.5-6-2.5-9.5-5-7.5-2.5-3-2.5-0.5-3 0-4 6.5-32 3-6 4.5-4.5 4.5-2 5-0.5 5 1 10 3 6.5 3 5.5 3.5 5.5 5 4 5.5 4 6.5 2 5.5 0 20.5-2 6-2 4-3.5 3-3.5 1zM29 111l-4 0-4.5-1-4-1.5-4-2.5-3.5-3-3.5-4-5.5-9.5 0-55 2-1 2.5-0.5 3 0 2.5 1 2.5 1.5 4 6.5 4 9.5 5 18.5 7 16.5 2.5 10.5 0.5 5.5-1 4.5-2 2.5-3.5 1.5z"/><path fill="rgb(105,105,105)" d="M268 93l-4.5 0-8-2.5-16.5-4-4.5-1.5-8-5-7.5-3-2-2-1-3 0-5 4-26.5 2.5-5.5 4.5-4.5 4-1.5 4.5-0.5 3.5 1 9.5 3.5 6.5 3 5 3 5.5 5 4.5 5.5 3.5 6.5 2 5.5 1.5 6 0 7.5-0.5 6-3 7.5-2 3-3.5 1.5zM28 108.5l-4 0.5-5-1-7-4-3.5-3-3.5-4.5-5-10 0-49 3-2 4.5 0 4 2.5 4.5 6.5 4 8.5 4.5 17 6 15 3 10 0 5.5-1 4-1.5 2.5-3 1.5z"/><path fill="rgb(112,112,112)" d="M268.5 92l-2.5 0.5-3-1-2.5-1.5-5-4.5-16-4.5-9.5-5.5-6.5-3-2.5-2-1-2.5-0.5-4.5 2.5-22.5 2-5.5 4-4 4-2 4 0 13 6 7.5 4 4 3 5.5 5.5 4 5.5 2.5 5.5 2.5 7.5 0.5 10.5-0.5 4.5-2 6.5-2 2.5-2.5 1.5zM26 106.5l-3.5 0-3.5-0.5-4.5-2-3.5-2.5-3.5-3.5-3-4.5-4.5-9.5 0-41 2-3 2-1.5 3 0 3 1.5 3 3 3 5 3 6 5 17.5 6 15 2 8.5 0 5-2 4.5-4 2z"/><path fill="rgb(118,118,118)" d="M267.5 91.5l-3 0-3-2-2-2.5-1.5-5-1.5-1.5-14-5-9-6-7-3-2-1.5-1-2.5-0.5-4 0.5-18 2-5 3-3.5 3.5-1.5 4 0 11.5 5.5 8 5 4.5 3.5 5 5 4.5 6 1.5 3.5 3 9.5 1 9.5-1 4.5-2 5.5-1.5 2-3 1.5zM25 104.5l-3.5 0.5-3.5-1-4-2-3.5-2.5-6-7.5-4-10-0.5-32.5 2.5-5 2.5-2 2.5-0.5 3 2 3 3 2.5 4 2 4 5 16.5 6 14 1.5 6.5 0 6-2 4.5-3.5 2z"/><path fill="rgb(124,124,124)" d="M268.5 90.5l-3.5 0.5-3.5-2.5-1-2.5-1-6.5-2.5-3.5-10-6-9.5-7-8-2.5-2-2-1.5-4.5-1-13.5 1-4.5 3.5-3.5 3-1.5 3.5 0.5 11 5.5 7.5 4.5 4.5 4 5 4.5 4.5 6 5 13 0.5 8-0.5 4.5-1.5 6-1.5 2-2 1zM23 103l-3.5-0.5-3.5-1-6-4-5-6.5-4-10-1-3.5 0-21 2.5-7 1.5-2.5 2-1 2 0 2.5 1 2.5 2 2.5 4 6.5 18.5 6 14.5 1.5 6.5-0.5 5.5-2 3.5-4 1.5z"/><path fill="rgb(131,131,131)" d="M268.5 90l-3.5 0-3-2-0.5-2-1-8.5-1.5-3-2.5-3.5-17-14-3-1.5-4.5-1.5-2.5-2-3-8-0.5-4 1-4 3-3 3-1 3 0 10.5 5.5 8 5.5 4 3 5 5 4 5.5 1.5 3 1.5 5 2.5 5 0.5 7.5-0.5 4.5-1.5 5.5-1.5 2-1.5 1zM23 101l-3 0-3.5-0.5-3-1.5-3-2-4.5-6-4-9-1.5-9 1-15.5 2-5.5 2-2 1.5-1 2 0 2 1 3.5 4 12.5 31 1.5 6-0.5 5-2 3.5-3 1.5z"/><path fill="rgb(137,137,137)" d="M268.5 89.5l-1.5 0.5-2-0.5-2.5-2-1-10.5-2.5-6-1.5-2-16.5-14-9-6-2.5-2.5-2-3.5-0.5-3.5 1-3.5 2-2.5 3-1 3 0 10 5.5 12 8.5 5 5 4 5.5 1.5 2.5 1 5 2.5 5 1 7 0 4-1.5 5-1 2.5-2 1.5zM22 99.5l-3 0-3-0.5-5.5-3.5-4-5-4-8.5-1.5-8.5 1-13.5 1.5-5 2-2 2-1 3.5 0.5 3 3 12 29 1 5.5 0 4.5-2 3.5-3 1.5z"/><path fill="rgb(143,143,143)" d="M268 89l-3 0-2-2-1-10-3-8.5-16.5-14-9.5-7-4.5-4.5-1-2.5 0.5-2.5 1-2.5 1.5-1.5 2.5-1 2.5 0 10.5 5.5 8 5.5 4 3.5 4.5 4.5 4 5.5 1.5 2.5 0.5 4.5 3.5 5.5 0.5 6.5 0 4-1.5 5-1.5 2.5-1.5 1zM21.5 98l-2.5 0.5-3-0.5-5-3-4-5-3.5-8-1.5-8 1-13 1.5-5 1.5-1.5 1.5-1 2 0 1.5 0.5 2.5 3 11.5 27 1.5 5.5-0.5 4-1.5 3-3 1.5z"/><path fill="rgb(150,150,150)" d="M268 88.5l-3 0-1.5-2-0.5-9-3-9.5-26-21-4.5-4.5-1-2 0-2.5 0.5-2 2-2 2-0.5 2.5 0 10 5.5 12 8.5 4.5 4.5 3.5 5 1.5 3 1 5 3.5 5 0.5 6.5 0 4-1 4-1.5 3-1.5 1zM20 97l-5-0.5-4.5-3-3.5-4.5-3-7-1-7 0.5-13.5 1.5-4.5 2.5-2 3 0.5 2.5 2.5 11.5 26 1 5-0.5 4-2 3-3 1z"/><path fill="rgb(156,156,156)" d="M268 88l-2.5 0-1.5-1.5-0.5-9-2.5-10-25.5-20.5-4.5-4-1.5-2-0.5-2 0.5-2.5 1.5-1.5 2-1 2.5 0 9.5 5 11 8 5 4.5 3.5 4.5 2 4 0.5 5 3.5 4.5 1 4.5 0 4.5 0 2.5-2 5.5-1.5 1.5zM20.5 95.5l-4.5 0-4.5-2.5-3.5-3.5-3-6.5-1.5-7 0.5-14 1-3.5 2.5-2 2.5 0 2.5 2.5 11 24.5 1 4.5 0 3.5-1.5 2.5-2.5 1.5z"/><path fill="rgb(163,163,163)" d="M267.5 87.5l-1.5 0-1.5-1.5-0.5-8.5-1.5-6-0.5-4.5-8.5-6-21.5-18-2-2-0.5-2 0.5-2 1.5-2 2-0.5 2 0 9.5 5 10.5 7.5 5 5 3 4 2.5 4 0 5.5 4 4 1 5.5 0.5 3.5-1 3.5-1.5 4.5-1.5 1zM20 94.5l-4.5 0-4-2.5-3-3.5-3-5.5-1-6.5 0.5-8 0-6 0.5-3 2-2 2 0 2 2 2.5 6 5.5 10 3.5 8 1 4-0.5 3.5-1 2-2.5 1.5z"/><path fill="rgb(169,169,169)" d="M264 66l-3-0.5-4.5-3-22-18-4-4.5-0.5-2 1-2 3-1 4 1.5 10.5 6 8 6 4.5 4.5 4.5 6.5 0 3-1.5 3.5zM19.5 93.5l-4 0-4-2-3-4-2.5-5-1-5.5 1-8-0.5-6.5 1-3 1.5-1 1.5 0 1.5 1.5 2.5 6.5 5 8.5 4 8.5 0.5 3.5-0.5 3-1 2.5-2 1zM267 87l-1.5-1-1-8.5-1.5-6 0.5-3 1.5-1.5 2.5 0.5 2 2 1 5.5 0.5 3.5-1 3.5-2 4.5-1 0.5z"/><path fill="rgb(175,175,175)" d="M263 64.5l-2.5 0-5.5-4-19-15.5-5-5 0-2 0.5-1.5 2.5-1 4.5 1.5 6 3.5 11 8 5.5 5 3.5 6 0.5 3-1 1.5-1 0.5zM19 92.5l-3.5 0-3.5-1.5-3-3.5-2-5-1-6 1.5-8-1.5-6 1-2 1-1 1.5 0 1 1.5 1.5 6 5.5 7.5 4 9 0.5 3 0 3-1.5 2-1.5 1zM267 85.5l-1-1-2.5-13 0.5-2.5 2-1 2 0.5 1.5 1.5 1 6.5 0 3-1 2.5-1.5 3-1 0.5z"/><path fill="rgb(182,182,182)" d="M263 63.5l-2 0-5.5-3-17-14-6-6-1-2 0.5-1.5 2-1 4 1.5 6 3 9.5 6.5 6.5 6 3 4.5 1.5 3.5-0.5 2-1 0.5zM9.5 67l-1.5-1.5-1-2 0.5-2 1-1 1 1 0.5 1.5-0.5 4zM18.5 91.5l-3 0-3.5-1.5-2.5-3-2-4-0.5-4 0-4 1-3.5 2-3.5 3 2 2.5 3 5 9 1 3.5 0 2.5-1 2-2 1.5zM268 83l-1 0-0.5-0.5-2.5-11 0.5-2 1.5-1 1.5 0.5 1 1 1 3.5 0.5 6-2 3.5z"/><path fill="rgb(188,188,188)" d="M262 63l-7-3.5-16-13-5.5-5.5-1-2 0-1.5 1-0.5 1.5 0 5.5 2 6.5 4 7 5 5.5 5.5 3 4 1 3.5-0.5 1.5-1 0.5zM268 81l-1 0-0.5-1.5-2-7.5 0.5-1.5 1-1 1.5 0 1 1.5 1 7.5-1.5 2.5zM18 90.5l-2.5 0-3-1-2-2.5-2-3.5-1-4 0-3.5 1-3 2-2 2 0.5 2.5 2 2.5 3.5 2 4.5 1 3 0 2.5-0.5 2-2 1.5z"/><path fill="rgb(194,194,194)" d="M262 61.5l-2.5 0-4-2.5-16-12.5-5-5.5-0.5-1.5 0-1.5 2 0 5 2 11.5 7 7.5 7.5 2.5 5-0.5 2zM268 79l-0.5-0.5-2-7 1-1.5 1 0.5 0.5 1 0.5 6-0.5 1.5zM17.5 89.5l-2 0-2.5-1-2-2-1.5-3-1-3-0.5-3 1-3 1.5-1.5 2 0 2 1.5 4 6 1 3.5 0.5 2.5-1 2-1.5 1z"/><path fill="rgb(201,201,201)" d="M261 60l-1.5 0.5-3-1.5-9-6.5-9.5-8.5-2.5-3 0-1.5 2 0 4.5 1.5 10 6.5 7.5 7 1.5 3.5 0 2zM16.5 88.5l-1.5 0-2-1-3-4.5-1-5 0.5-2 1.5-1.5 1.5 0 2 1 3.5 5.5 1 5-1 2-1.5 0.5z"/><path fill="rgb(207,207,207)" d="M259.5 59l-4-1-7.5-6-8.5-7.5-2-2.5 0-1.5 2 0 3.5 1.5 9 6 7 7 1 3-0.5 1zM16.5 87l-1.5 0.5-1.5-1-2.5-3-1-4.5 0.5-2 1-1 1.5 0 1.5 1 2.5 4 1 4-0.5 1.5-1 0.5z"/><path fill="rgb(214,214,214)" d="M258 58l-2-0.5-8-6-7.5-6.5-1-2 0-1 3 0.5 9.5 6 6.5 6.5 0.5 2.5-1 0.5zM15.5 85.5l-2-0.5-2-2.5 0-3 1-1.5 2 1 1.5 2.5 0.5 3-1 1z"/><path fill="rgb(220,220,220)" d="M257.5 56.5l-1.5 0-7-5-6.5-6-1-1.5 0.5-0.5 1.5 0.5 8 4.5 5.5 6 0.5 1 0 1z"/><path fill="rgb(226,226,226)" d="M253.5 53l-4-2-3-3.5 1.5 0 3 1.5 2.5 3 0.5 1-0.5 0z"/></g><path fill="none" stroke="#fff" stroke-opacity="0.8" stroke-width="0.7" d="M505.5 752.2l0.6-0.1 0.3-0.2-8.3-3.4-4.8-2.4-5.3-3.1-4.8-3.3-4.3-3.6-4.4-4.4-3.3-4-3.3-4.8-2.8-4.9-2.2-5.1-1.8-5.2-1.3-5.9-0.7-5.4-0.1-6 0.3-5.4 0.9-5.4 1.6-6 2-5.3 2.5-5.2 2.9-5 3.6-5 4-4.8 4.7-4.6 4.6-3.8 5.2-3.6 5.8-3.4 5.5-2.7 6.1-2.4 7-2.1 6.4-1.4 5.5-0.7 5.4-0.2M505.5 752.2l-9.2-2.2-7.3-2.2-6.7-2.4-7.1-3.2-6.4-3.5-6.5-4.2-5.6-4.5-4.9-4.7-4.2-4.9-3.4-5-2.8-5.1-2.4-5.9-1.3-5.4-0.8-6 0-6.1 0.9-6 1.7-6.1 2.2-5.3 3.2-5.8 3.6-5.1 4.4-5 5-4.8 5.8-4.7 6.6-4.4 6.6-3.6 7.3-3.4 8.3-3.1 8-2.4 9.1-2.1 10.4-1.6 8.3-0.5 4.7 0.4M505.5 752.2l-10-1.5-10.4-2.2-9.2-2.5-9.5-3.2-8.4-3.5-8.5-4.2-7.4-4.4-6.4-4.7-5.5-4.9-5.2-5.6-3.7-5.2-3.2-5.9-1.9-5.3-1.2-6.1-0.2-6.1 0.8-6 1.8-6.1 2.8-5.9 3.9-5.9 4.3-5.1 5.9-5.6 6.2-4.8 7.2-4.6 8.2-4.3 8.1-3.6 9.2-3.4 10.4-3.1 10.2-2.3 14.3-2.4 12.8-1.2 8.7-0.2 1.8 0.3 1.6 0.7M560.5 752.2l11.2-1.6 9.6-1.8 10.1-2.5 10.4-3.1 9.1-3.5 9.3-4.2 8-4.4 7-4.7 6.1-4.8 5.6-5.7 4.1-5.1 3.5-5.9 2.5-6 1.3-6.1 0.3-6.1-0.8-6-1.9-6.1-2.9-5.9-4.1-5.9-4.6-5.1-6.2-5.6-6.6-4.8-7.5-4.5-8.7-4.4-9.9-4.1-9.9-3.3-11.3-3-11.1-2.4-13.4-1.9-14.6-1.3-9.3-0.2-1.6 0.2-1.2 1M560.5 752.2l10-2 8.2-2.2 7.5-2.5 7.9-3.2 7-3.5 6.3-3.7 6.3-4.4 5.4-4.7 4.7-4.8 4.4-5.7 3.1-5.1 2.6-5.9 1.6-5.3 0.9-6.1 0.1-6.1-0.8-6-1.8-6.1-2.6-5.9-3.5-5.9-3.9-5.1-4.7-4.9-5.4-4.8-6.3-4.7-7.1-4.3-7.1-3.7-8-3.3-9-3.2-8.8-2.3-10-2.1-11.6-1.5-7.4-0.4-2.6 0.1-2.9 0.5M560.5 752.2l-0.1-0.1 0.6-0.4 7.6-2.5 6.5-2.7 5.1-2.6 5.6-3.3 4.9-3.5 5-4.4 3.9-3.9 3.9-4.8 3.2-4.9 2.7-5 2.1-5.2 1.7-5.9 0.9-5.3 0.3-6-0.3-6.1-0.8-5.4-1.7-6-2-5.3-2.9-5.8-3.3-5.1-3.8-5-4.5-4.8-5.1-4.5-5-3.9-5.6-3.6-6.3-3.4-6.1-2.7-6.7-2.4-7.6-2.1-7-1.4-7.4-0.8-5.3 0M560.5 752.2l-2.8 0-1.4-0.3 0.5-0.6 5.8-3.1 4.3-2.8 4-3.2 4.1-3.9 3.7-4.2 3.1-4.5 2.8-4.7 2.5-5.5 1.7-4.4 1.4-5.1 1.1-5.3 0.7-5.3 0.3-5.3-0.2-5.4-0.5-5.4-0.9-5.4-1.3-5.3-1.7-5.3-2.2-5.1-2.5-5.1-3-4.9-3-4.2-3.4-4-3.7-3.8-4.2-3.7-4-2.9-4.4-2.7-4.9-2.5-4.6-1.9-5.2-1.5-4.6-1-5-0.5M560.5 752.2l-9.1 0.4-2.3-0.1-0.5-0.1-0.4-0.3 4.7-4.4 2.2-2.5 2.5-3.2 2.4-4 2.2-4.3 2.1-5.1 1.6-4.8 1.5-5.5 1.1-5.7 0.9-5.9 0.5-5.9 0.1-6.1-0.1-6.7-0.5-6.1-0.8-6-1.1-6-2.4-9.1-3.2-8.7-3.8-7.6-4.2-6.6-4.7-5.4-5.2-4.3-5.1-2.9-3.1-1.2-2.8-0.7M560.5 752.2l-16.1 1-4.3 0-0.8-0.1-0.4-0.3 2.5-5.7 1.8-6 1.7-7.9 1.3-8.7 0.9-10 0.6-10.4 0.1-11.4-0.3-10.8-0.7-10.7-1.1-10.4-1.4-9.4-1.8-8.7-2-7-2.3-5.6-2.4-4.1-1.3-1.4-1.5-1.2M505.5 752.2l17.1 1.1 6.4 0.1 0.8-0.1 0.3-0.3-1.3-5.8-0.9-5.9-1.5-16.6-0.7-20.4 0-22.2 0.9-21.2 1.6-18.1 1-6.9 1.2-5.7 1.2-4.1 1.4-2.7M505.5 752.2l12.5 0.6 2.2-0.1 0.4-0.1 0.2-0.4-3.5-4.1-2.2-2.9-2.1-3.8-2-4-1.9-4.9-1.6-5.2-1.3-5.4-1.1-5.6-1.4-12.3-0.3-6.7 0-6.7 0.9-12.8 2.1-12.6 2-8.3 2.5-7.3 3-6.9 3.2-5.9 3.6-4.9 3.8-3.9 4.3-2.9 4.2-1.7M505.5 752.2l4.9 0.1 1.4-0.2 0.3-0.3-6.4-4.3-3.7-2.9-3.8-3.7-3.4-4.1-3.4-4.9-2.8-5.1-2.4-5.4-1.9-5.7-1.2-4.4-1-5.3-0.6-4.6-0.3-5.3 0-5.4 0.3-4.7 0.6-5.4 0.9-4.7 1.3-5.3 1.7-5.2 2-5.2 2.1-4.4 2.4-4.2 2.6-4.2 3.1-4 3.3-3.8 3.8-3.6 3.6-2.9 3.9-2.7 3.7-2.1 4.1-1.9 3.7-1.3 4.1-1 4.6-0.7M480.1 737.1l-23-2.1-18-0.6M626.7 734.4l-10.5 0.2-11.7 0.8-47.8 4.8-10.4 0.8-9.2 0.3-10.7 0-11.6-0.7-12.4-1.1-22.3-2.4M463.1 713.5l-16.5-1.6-14-1-12.6-0.6-12.1-0.2M657.8 710.1l-14.1 0.3-14.8 0.8-16.1 1.4-45.8 4.5-14.3 1-13.5 0.5-15.5-0.1-16.3-0.8-17.1-1.4-27.2-2.8M459.1 687l-17.6-1.7-14.7-1.1-13.6-0.7-12.9-0.2M665.3 683.3l-15.1 0.3-15.4 0.9-16.6 1.4-47.5 4.7-15.5 1.1-14.8 0.5-17 0-17.8-0.8-18.5-1.5-28-2.9M467.7 660.6l-16-1.7-12.5-1.1-11.9-0.6-11.8-0.2M650.2 657l-13.2 0.3-13.4 0.7-13.8 1.3-42.1 4.6-14.1 1-13.6 0.6-15.6-0.1-16.2-0.7-16.7-1.5-23.8-2.6M489.8 637.3l-18.3-2.4-7.6-0.5-8.2-0.1M610 634.3l-8.6 0.1-8.2 0.6-35 4.8-10.1 0.9-9.6 0.4-11.4 0-11.5-0.6-11.5-1.2-14.3-2"/></g><rect x="677.8" y="53.70" width="16.2" height="133.3" fill="url(#gR)" stroke="#777" stroke-width="0.8"/><path d="M677.8 187.00h2M694.0 187.00h-2" stroke="#222" stroke-width="0.8"/><text x="698.3" y="191.20" font-size="12" font-weight="bold" letter-spacing="0.8">0</text><path d="M677.8 153.68h2M694.0 153.68h-2" stroke="#222" stroke-width="0.8"/><text x="698.3" y="157.88" font-size="12" font-weight="bold" letter-spacing="0.8">200</text><path d="M677.8 120.35h2M694.0 120.35h-2" stroke="#222" stroke-width="0.8"/><text x="698.3" y="124.55" font-size="12" font-weight="bold" letter-spacing="0.8">400</text><path d="M677.8 87.03h2M694.0 87.03h-2" stroke="#222" stroke-width="0.8"/><text x="698.3" y="91.23" font-size="12" font-weight="bold" letter-spacing="0.8">600</text><path d="M677.8 53.70h2M694.0 53.70h-2" stroke="#222" stroke-width="0.8"/><text x="698.3" y="57.90" font-size="12" font-weight="bold" letter-spacing="0.8">800</text><rect x="677.8" y="195.60" width="16.2" height="133.3" fill="url(#gR)" stroke="#777" stroke-width="0.8"/><path d="M677.8 328.90h2M694.0 328.90h-2" stroke="#222" stroke-width="0.8"/><text x="698.3" y="333.10" font-size="12" font-weight="bold" letter-spacing="0.8">0</text><path d="M677.8 295.58h2M694.0 295.58h-2" stroke="#222" stroke-width="0.8"/><text x="698.3" y="299.78" font-size="12" font-weight="bold" letter-spacing="0.8">100</text><path d="M677.8 262.25h2M694.0 262.25h-2" stroke="#222" stroke-width="0.8"/><text x="698.3" y="266.45" font-size="12" font-weight="bold" letter-spacing="0.8">200</text><path d="M677.8 228.93h2M694.0 228.93h-2" stroke="#222" stroke-width="0.8"/><text x="698.3" y="233.12" font-size="12" font-weight="bold" letter-spacing="0.8">300</text><path d="M677.8 195.60h2M694.0 195.60h-2" stroke="#222" stroke-width="0.8"/><text x="698.3" y="199.80" font-size="12" font-weight="bold" letter-spacing="0.8">400</text><rect x="677.8" y="337.50" width="16.2" height="133.3" fill="url(#gR)" stroke="#777" stroke-width="0.8"/><path d="M677.8 470.80h2M694.0 470.80h-2" stroke="#222" stroke-width="0.8"/><text x="698.3" y="475.00" font-size="12" font-weight="bold" letter-spacing="0.8">0</text><path d="M677.8 423.19h2M694.0 423.19h-2" stroke="#222" stroke-width="0.8"/><text x="698.3" y="427.39" font-size="12" font-weight="bold" letter-spacing="0.8">50</text><path d="M677.8 375.59h2M694.0 375.59h-2" stroke="#222" stroke-width="0.8"/><text x="698.3" y="379.79" font-size="12" font-weight="bold" letter-spacing="0.8">100</text><rect x="677.8" y="479.40" width="16.2" height="133.3" fill="url(#gR)" stroke="#777" stroke-width="0.8"/><path d="M677.8 612.70h2M694.0 612.70h-2" stroke="#222" stroke-width="0.8"/><text x="698.3" y="616.90" font-size="12" font-weight="bold" letter-spacing="0.8">0</text><path d="M677.8 568.27h2M694.0 568.27h-2" stroke="#222" stroke-width="0.8"/><text x="698.3" y="572.47" font-size="12" font-weight="bold" letter-spacing="0.8">20</text><path d="M677.8 523.83h2M694.0 523.83h-2" stroke="#222" stroke-width="0.8"/><text x="698.3" y="528.03" font-size="12" font-weight="bold" letter-spacing="0.8">40</text><path d="M677.8 479.40h2M694.0 479.40h-2" stroke="#222" stroke-width="0.8"/><text x="698.3" y="483.60" font-size="12" font-weight="bold" letter-spacing="0.8">60</text><rect x="677.8" y="621.30" width="16.2" height="133.3" fill="url(#gR)" stroke="#777" stroke-width="0.8"/><path d="M677.8 754.60h2M694.0 754.60h-2" stroke="#222" stroke-width="0.8"/><text x="698.3" y="758.80" font-size="12" font-weight="bold" letter-spacing="0.8">0</text><path d="M677.8 717.57h2M694.0 717.57h-2" stroke="#222" stroke-width="0.8"/><text x="698.3" y="721.77" font-size="12" font-weight="bold" letter-spacing="0.8">5</text><path d="M677.8 680.54h2M694.0 680.54h-2" stroke="#222" stroke-width="0.8"/><text x="698.3" y="684.74" font-size="12" font-weight="bold" letter-spacing="0.8">10</text><path d="M677.8 643.52h2M694.0 643.52h-2" stroke="#222" stroke-width="0.8"/><text x="698.3" y="647.72" font-size="12" font-weight="bold" letter-spacing="0.8">15</text><rect x="31.5" y="55.60" width="7.2" height="132.4" fill="url(#gL)" stroke="#ffff00" stroke-width="0.9"/><path d="M31.5 72.15h2M38.7 72.15h-2" stroke="#ffff00" stroke-width="1"/><path d="M31.5 88.70h2M38.7 88.70h-2" stroke="#ffff00" stroke-width="1"/><path d="M31.5 105.25h2M38.7 105.25h-2" stroke="#ffff00" stroke-width="1"/><path d="M31.5 121.80h2M38.7 121.80h-2" stroke="#ffff00" stroke-width="1"/><path d="M31.5 138.35h2M38.7 138.35h-2" stroke="#ffff00" stroke-width="1"/><path d="M31.5 154.90h2M38.7 154.90h-2" stroke="#ffff00" stroke-width="1"/><path d="M31.5 171.45h2M38.7 171.45h-2" stroke="#ffff00" stroke-width="1"/><text x="42.6" y="187.10" font-size="13.5" fill="#ffff00" stroke="#ffff00" stroke-width="0.25">0</text><text x="42.6" y="157.30" font-size="13.5" fill="#ffff00" stroke="#ffff00" stroke-width="0.25">200</text><text x="42.6" y="124.20" font-size="13.5" fill="#ffff00" stroke="#ffff00" stroke-width="0.25">400</text><text x="42.6" y="91.10" font-size="13.5" fill="#ffff00" stroke="#ffff00" stroke-width="0.25">600</text><text x="42.6" y="60.60" font-size="13.5" fill="#ffff00" stroke="#ffff00" stroke-width="0.25">800</text><rect x="31.5" y="195.60" width="7.2" height="132.4" fill="url(#gL)" stroke="#ffff00" stroke-width="0.9"/><path d="M31.5 212.15h2M38.7 212.15h-2" stroke="#ffff00" stroke-width="1"/><path d="M31.5 228.70h2M38.7 228.70h-2" stroke="#ffff00" stroke-width="1"/><path d="M31.5 245.25h2M38.7 245.25h-2" stroke="#ffff00" stroke-width="1"/><path d="M31.5 261.80h2M38.7 261.80h-2" stroke="#ffff00" stroke-width="1"/><path d="M31.5 278.35h2M38.7 278.35h-2" stroke="#ffff00" stroke-width="1"/><path d="M31.5 294.90h2M38.7 294.90h-2" stroke="#ffff00" stroke-width="1"/><path d="M31.5 311.45h2M38.7 311.45h-2" stroke="#ffff00" stroke-width="1"/><text x="42.6" y="327.10" font-size="13.5" fill="#ffff00" stroke="#ffff00" stroke-width="0.25">0</text><text x="42.6" y="297.30" font-size="13.5" fill="#ffff00" stroke="#ffff00" stroke-width="0.25">100</text><text x="42.6" y="264.20" font-size="13.5" fill="#ffff00" stroke="#ffff00" stroke-width="0.25">200</text><text x="42.6" y="231.10" font-size="13.5" fill="#ffff00" stroke="#ffff00" stroke-width="0.25">300</text><text x="42.6" y="200.60" font-size="13.5" fill="#ffff00" stroke="#ffff00" stroke-width="0.25">400</text><rect x="31.5" y="335.60" width="7.2" height="132.4" fill="url(#gL)" stroke="#ffff00" stroke-width="0.9"/><path d="M31.5 352.15h2M38.7 352.15h-2" stroke="#ffff00" stroke-width="1"/><path d="M31.5 368.70h2M38.7 368.70h-2" stroke="#ffff00" stroke-width="1"/><path d="M31.5 385.25h2M38.7 385.25h-2" stroke="#ffff00" stroke-width="1"/><path d="M31.5 401.80h2M38.7 401.80h-2" stroke="#ffff00" stroke-width="1"/><path d="M31.5 418.35h2M38.7 418.35h-2" stroke="#ffff00" stroke-width="1"/><path d="M31.5 434.90h2M38.7 434.90h-2" stroke="#ffff00" stroke-width="1"/><path d="M31.5 451.45h2M38.7 451.45h-2" stroke="#ffff00" stroke-width="1"/><text x="42.6" y="467.10" font-size="13.5" fill="#ffff00" stroke="#ffff00" stroke-width="0.25">0</text><text x="42.6" y="437.30" font-size="13.5" fill="#ffff00" stroke="#ffff00" stroke-width="0.25">35</text><text x="42.6" y="404.20" font-size="13.5" fill="#ffff00" stroke="#ffff00" stroke-width="0.25">70</text><text x="42.6" y="371.10" font-size="13.5" fill="#ffff00" stroke="#ffff00" stroke-width="0.25">105</text><text x="42.6" y="340.60" font-size="13.5" fill="#ffff00" stroke="#ffff00" stroke-width="0.25">140</text><rect x="31.5" y="475.60" width="7.2" height="132.4" fill="url(#gL)" stroke="#ffff00" stroke-width="0.9"/><path d="M31.5 492.15h2M38.7 492.15h-2" stroke="#ffff00" stroke-width="1"/><path d="M31.5 508.70h2M38.7 508.70h-2" stroke="#ffff00" stroke-width="1"/><path d="M31.5 525.25h2M38.7 525.25h-2" stroke="#ffff00" stroke-width="1"/><path d="M31.5 541.80h2M38.7 541.80h-2" stroke="#ffff00" stroke-width="1"/><path d="M31.5 558.35h2M38.7 558.35h-2" stroke="#ffff00" stroke-width="1"/><path d="M31.5 574.90h2M38.7 574.90h-2" stroke="#ffff00" stroke-width="1"/><path d="M31.5 591.45h2M38.7 591.45h-2" stroke="#ffff00" stroke-width="1"/><text x="42.6" y="607.10" font-size="13.5" fill="#ffff00" stroke="#ffff00" stroke-width="0.25">0</text><text x="42.6" y="577.30" font-size="13.5" fill="#ffff00" stroke="#ffff00" stroke-width="0.25">15</text><text x="42.6" y="544.20" font-size="13.5" fill="#ffff00" stroke="#ffff00" stroke-width="0.25">30</text><text x="42.6" y="511.10" font-size="13.5" fill="#ffff00" stroke="#ffff00" stroke-width="0.25">45</text><text x="42.6" y="480.60" font-size="13.5" fill="#ffff00" stroke="#ffff00" stroke-width="0.25">60</text><rect x="31.5" y="615.60" width="7.2" height="132.4" fill="url(#gL)" stroke="#ffff00" stroke-width="0.9"/><path d="M31.5 632.15h2M38.7 632.15h-2" stroke="#ffff00" stroke-width="1"/><path d="M31.5 648.70h2M38.7 648.70h-2" stroke="#ffff00" stroke-width="1"/><path d="M31.5 665.25h2M38.7 665.25h-2" stroke="#ffff00" stroke-width="1"/><path d="M31.5 681.80h2M38.7 681.80h-2" stroke="#ffff00" stroke-width="1"/><path d="M31.5 698.35h2M38.7 698.35h-2" stroke="#ffff00" stroke-width="1"/><path d="M31.5 714.90h2M38.7 714.90h-2" stroke="#ffff00" stroke-width="1"/><path d="M31.5 731.45h2M38.7 731.45h-2" stroke="#ffff00" stroke-width="1"/><text x="42.6" y="747.10" font-size="13.5" fill="#ffff00" stroke="#ffff00" stroke-width="0.25">0</text><text x="42.6" y="717.30" font-size="13.5" fill="#ffff00" stroke="#ffff00" stroke-width="0.25">4.5</text><text x="42.6" y="684.20" font-size="13.5" fill="#ffff00" stroke="#ffff00" stroke-width="0.25">9</text><text x="42.6" y="651.10" font-size="13.5" fill="#ffff00" stroke="#ffff00" stroke-width="0.25">13.5</text><text x="42.6" y="620.60" font-size="13.5" fill="#ffff00" stroke="#ffff00" stroke-width="0.25">18</text><text x="81.1" y="61.90" font-size="14.5" font-weight="bold" fill="#ffff00" textLength="60" lengthAdjust="spacingAndGlyphs">~0.7 keV</text><text x="81.1" y="201.80" font-size="14.5" font-weight="bold" fill="#ffff00" textLength="60" lengthAdjust="spacingAndGlyphs">~1.1 keV</text><text x="81.1" y="341.70" font-size="14.5" font-weight="bold" fill="#ffff00" textLength="60" lengthAdjust="spacingAndGlyphs">~1.7 keV</text><text x="81.1" y="481.60" font-size="14.5" font-weight="bold" fill="#ffff00" textLength="60" lengthAdjust="spacingAndGlyphs">~2.7 keV</text><text x="81.1" y="621.50" font-size="14.5" font-weight="bold" fill="#ffff00" textLength="60" lengthAdjust="spacingAndGlyphs">~4.3 keV</text><g fill="#ffff00" stroke="#ffff00" stroke-width="0.45"><text x="39.4" y="17.9" font-size="16.66">IBEX-Hi, Combined maps, Orbits 11-230b</text><text x="39.3" y="38" font-size="16.9">C-G and Survival Probability corrected</text></g><text x="403.2" y="46.1" font-size="15.6" fill="#000">Total Simulated Flux (2009.5−2013.5)</text><text transform="translate(18.9 522.4) rotate(-90)" font-size="16.6" fill="#ffff00" textLength="258.6" lengthAdjust="spacingAndGlyphs">Differential Flux [ENAs/(cm<tspan font-size="10" dy="-6">2</tspan><tspan dy="6"> s sr keV)]</tspan></text><g fill="#000"><circle cx="221.3" cy="92.1" r="1.1"/><circle cx="218.2" cy="118.7" r="1.1"/><circle cx="198.2" cy="150.7" r="1.1"/><text x="222.6" y="93.5" font-size="10.3">V1</text><text x="208.7" y="114.7" font-size="10.5">Nose</text><text x="201.6" y="157.6" font-size="10.5">V2</text></g><g fill="#000"><circle cx="221.3" cy="232.0" r="1.1"/><circle cx="218.2" cy="258.6" r="1.1"/><circle cx="198.2" cy="290.6" r="1.1"/><text x="222.6" y="233.4" font-size="10.3">V1</text><text x="208.7" y="254.6" font-size="10.5">Nose</text><text x="201.6" y="297.5" font-size="10.5">V2</text></g><g fill="#000"><circle cx="221.3" cy="371.9" r="1.1"/><circle cx="218.2" cy="398.5" r="1.1"/><circle cx="198.2" cy="430.5" r="1.1"/><text x="222.6" y="373.3" font-size="10.3">V1</text><text x="208.7" y="394.5" font-size="10.5">Nose</text><text x="201.6" y="437.4" font-size="10.5">V2</text></g><g fill="#000"><circle cx="221.3" cy="511.8" r="1.1"/><circle cx="218.2" cy="538.4" r="1.1"/><circle cx="198.2" cy="570.4" r="1.1"/><text x="222.6" y="513.2" font-size="10.3">V1</text><text x="208.7" y="534.4" font-size="10.5">Nose</text><text x="201.6" y="577.3" font-size="10.5">V2</text></g><g fill="#000"><circle cx="221.3" cy="651.7" r="1.1"/><circle cx="218.2" cy="678.3" r="1.1"/><circle cx="198.2" cy="710.3" r="1.1"/><text x="222.6" y="653.1" font-size="10.3">V1</text><text x="208.7" y="674.3" font-size="10.5">Nose</text><text x="201.6" y="717.2" font-size="10.5">V2</text></g><g fill="#fff"><circle cx="535.6" cy="93.5" r="2.1"/><circle cx="532.8" cy="120.6" r="2.1"/><circle cx="512.5" cy="152.7" r="2.1"/><text x="531.8" y="88.1" font-size="10.3">V1</text><text x="526.0" y="115.2" font-size="10.7">Nose</text><text x="508.5" y="165.9" font-size="10.7">V2</text></g><g fill="#fff"><circle cx="535.6" cy="235.3" r="2.1"/><circle cx="532.8" cy="262.4" r="2.1"/><circle cx="512.5" cy="294.6" r="2.1"/><text x="531.8" y="229.9" font-size="10.3">V1</text><text x="526.0" y="257.1" font-size="10.7">Nose</text><text x="508.5" y="307.8" font-size="10.7">V2</text></g><g fill="#fff"><circle cx="535.6" cy="377.2" r="2.1"/><circle cx="532.8" cy="404.3" r="2.1"/><circle cx="512.5" cy="436.4" r="2.1"/><text x="531.8" y="371.8" font-size="10.3">V1</text><text x="526.0" y="398.9" font-size="10.7">Nose</text><text x="508.5" y="449.6" font-size="10.7">V2</text></g><g fill="#fff"><circle cx="535.6" cy="519.0" r="2.1"/><circle cx="532.8" cy="546.1" r="2.1"/><circle cx="512.5" cy="578.2" r="2.1"/><text x="531.8" y="513.6" font-size="10.3">V1</text><text x="526.0" y="540.7" font-size="10.7">Nose</text><text x="508.5" y="591.4" font-size="10.7">V2</text></g><g fill="#fff"><circle cx="535.6" cy="660.9" r="2.1"/><circle cx="532.8" cy="688.0" r="2.1"/><circle cx="512.5" cy="720.1" r="2.1"/><text x="531.8" y="655.5" font-size="10.3">V1</text><text x="526.0" y="682.6" font-size="10.7">Nose</text><text x="508.5" y="733.3" font-size="10.7">V2</text></g></svg></body></html>
